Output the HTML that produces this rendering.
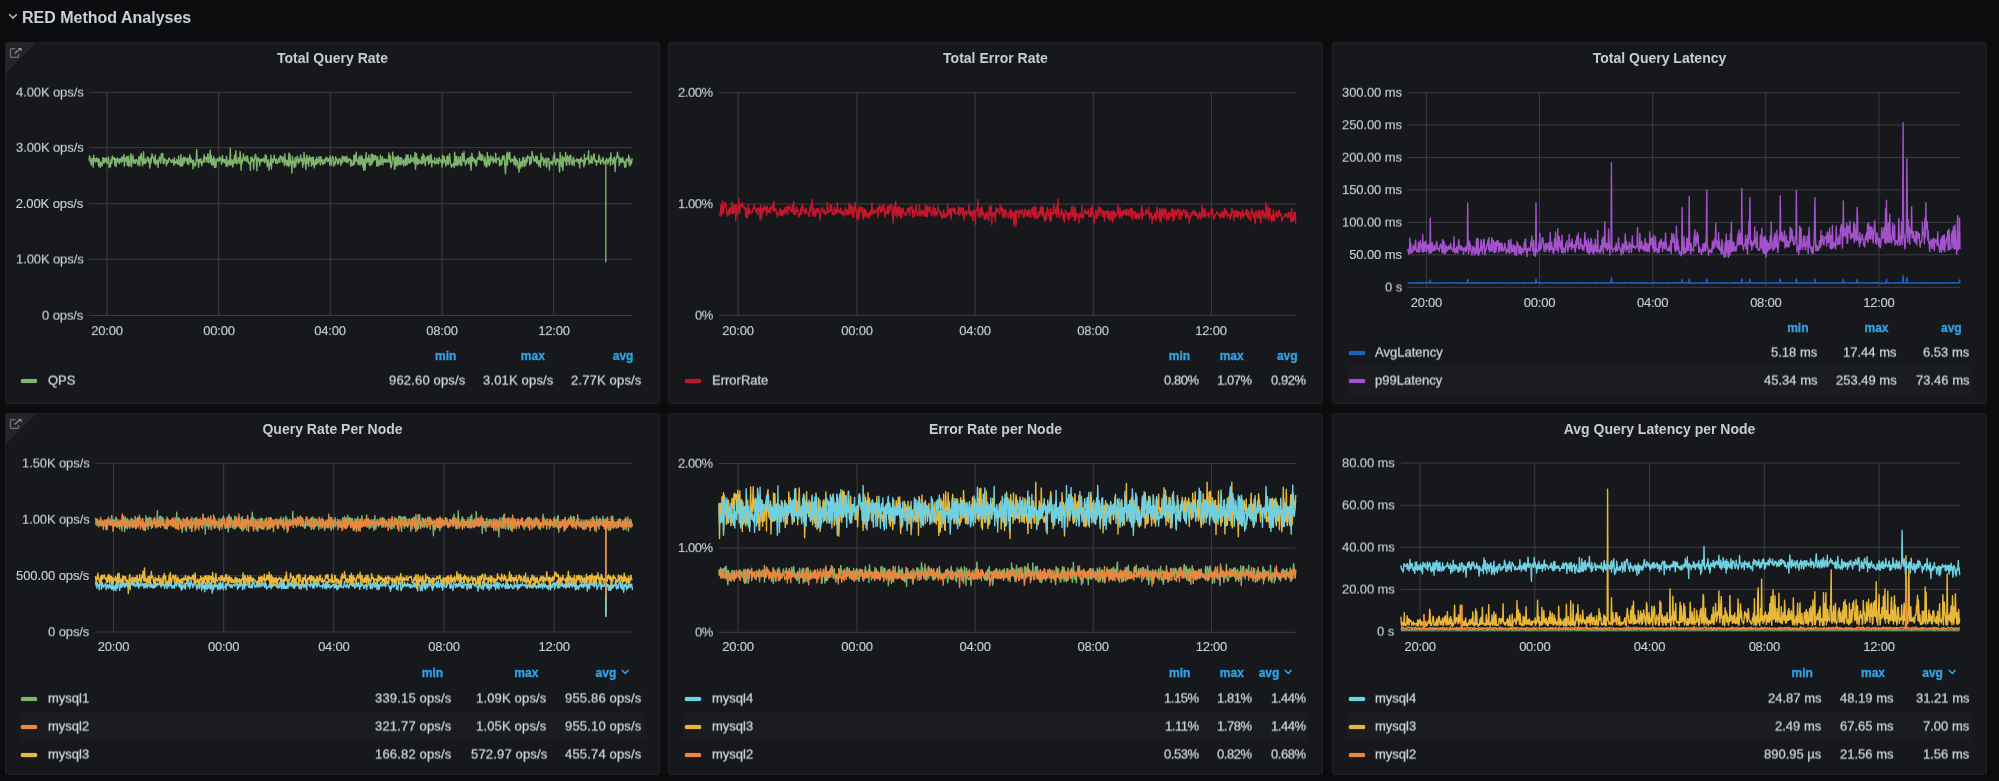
<!DOCTYPE html>
<html lang="en"><head><meta charset="utf-8"><title>RED Method Analyses</title>
<style>
*{box-sizing:border-box;margin:0;padding:0}
html,body{width:1999px;height:781px;overflow:hidden;background:#0b0c0e}
body{font-family:"Liberation Sans",sans-serif;font-size:13px;line-height:16px;color:#c7d0d9;position:relative}
.rowtitle{will-change:transform;position:absolute;left:22px;top:7px;transform:translateY(0.6px);font-size:16px;line-height:20px;font-weight:bold;color:#cbd0d8;white-space:nowrap}
.chev{position:absolute;left:8px;top:13px}
.panel{position:absolute;background:#16181c;border-radius:3px;overflow:hidden;will-change:transform}
.panel::after{content:"";position:absolute;left:0;top:0;right:0;bottom:0;border:1px solid #212327;border-radius:3px}
.panel>*{position:absolute}
.panel .plot{left:0;top:0}
.panel .title{left:0;width:100%;top:8px;text-align:center;font-size:14px;line-height:16px;font-weight:bold;color:#c6ccd4;white-space:nowrap}
.corner{left:0;top:0;width:0;height:0;border-top:32px solid #232528;border-right:32px solid transparent}
.ext{left:0;top:0}
.t,.lh,.a{white-space:nowrap}
.t{-webkit-text-stroke:0.3px}
.a{-webkit-text-stroke:0.12px}
.lh{color:#33a2e5;font-weight:bold;font-size:12px;-webkit-text-stroke:0.3px}
.lh .caret{position:static;margin-left:4.6px;margin-bottom:2px}
.sw{width:16px;height:4px;border-radius:1.5px;box-shadow:0 0 0.9px 0.1px currentColor}
.alt{height:28px;background:#1a1c20}
</style></head><body>
<svg class="chev" width="10" height="7" viewBox="0 0 10 7"><path d="M1.2 1.3 5 5.1 8.8 1.3" fill="none" stroke="#b5b9be" stroke-width="1.5"/></svg>
<div class="rowtitle">RED Method Analyses</div>
<div class="panel" style="left:5px;top:42px;width:655px;height:362px">
<div class="corner"></div><svg class="ext" viewBox="0 0 24 24" width="24" height="24"><path d="M10.3 6.6H7a1.6 1.6 0 0 0-1.6 1.6v5.6a1.6 1.6 0 0 0 1.6 1.6h5a1.6 1.6 0 0 0 1.6-1.6v-1.9" fill="none" stroke="#70737a" stroke-width="1.3"/><path d="M9.6 11.3 14.8 7" fill="none" stroke="#83868d" stroke-width="1.5"/><path d="M12.9 5.9h3.7v3.7z" fill="#90939a"/></svg>
<div class="title">Total Query Rate</div>
<svg class="plot" width="655" height="362" viewBox="0 0 655 362"><g fill="#3a3d41"><rect x="84" y="49.9" width="543.4" height="1"/><rect x="84" y="105.1" width="543.4" height="1"/><rect x="84" y="161.3" width="543.4" height="1"/><rect x="84" y="216.8" width="543.4" height="1"/><rect x="84" y="273" width="543.4" height="1"/><rect x="101.5" y="50.4" width="1" height="223.1"/><rect x="213.2" y="50.4" width="1" height="223.1"/><rect x="324.8" y="50.4" width="1" height="223.1"/><rect x="436.5" y="50.4" width="1" height="223.1"/><rect x="548.1" y="50.4" width="1" height="223.1"/></g><polyline fill="none" stroke="#7eb26d" stroke-width="1.4" stroke-linejoin="round" points="84,118.6 84.5,114 84.9,114.5 85.4,120.5 85.9,119.8 86.3,123.2 86.8,116.8 87.3,118.9 87.7,116.1 88.2,125.1 88.7,113.3 89.1,119.1 89.6,116.4 90.1,119.2 90.5,120 91,117.1 91.5,115.9 91.9,119.4 92.4,119.3 92.9,116.4 93.3,121.7 93.8,124 94.3,117.4 94.7,121 95.2,125.4 95.7,121.5 96.1,120.3 96.6,122.9 97.1,123.9 97.5,118.7 98,115.6 98.5,116 98.9,121.3 99.4,117.4 99.9,116.2 100.3,119.8 100.8,116.8 101.3,115.8 101.7,119.4 102.2,121.5 102.7,117.5 103.1,117.9 103.6,114.9 104.1,125.8 104.5,121 105,121.6 105.5,124.7 105.9,118.3 106.4,116.9 106.9,121.3 107.3,113.9 107.8,115.9 108.3,116.6 108.7,117.3 109.2,115.4 109.7,123.3 110.1,116.6 110.6,116.6 111.1,124.8 111.5,117.5 112,119.6 112.5,116 112.9,120.2 113.4,118.8 113.9,117.5 114.3,121.8 114.8,116.7 115.3,119.1 115.7,117 116.2,120.5 116.7,115 117.1,116.6 117.6,119.3 118,116.5 118.5,114.4 119,112.5 119.4,124.2 119.9,115.7 120.4,117.1 120.8,119 121.3,118.8 121.8,114.4 122.2,123.1 122.7,116.8 123.2,114.2 123.6,124.3 124.1,119.8 124.6,123.3 125,117.9 125.5,113.5 126,111.7 126.4,124.9 126.9,120.7 127.4,116.3 127.8,113.3 128.3,117.3 128.8,121.3 129.2,117.7 129.7,118.8 130.2,119.4 130.6,121.3 131.1,117.4 131.6,117.7 132,119 132.5,119.5 133,123.2 133.4,120.4 133.9,114.6 134.4,119.4 134.8,123.7 135.3,114.1 135.8,116.9 136.2,111.4 136.7,118.5 137.2,120.3 137.6,123.7 138.1,114.1 138.6,109.8 139,121.6 139.5,121 140,116.7 140.4,121.6 140.9,119.7 141.4,119.9 141.8,118.1 142.3,114.9 142.8,118.6 143.2,115.5 143.7,120.2 144.2,117.6 144.6,126.1 145.1,123.7 145.6,116 146,120.8 146.5,116.7 147,111.8 147.4,114.2 147.9,115.9 148.4,115.2 148.8,119.1 149.3,121.1 149.8,121.3 150.2,113 150.7,122.6 151.2,120.6 151.6,119 152.1,117.9 152.6,119.9 153,125.4 153.5,119 154,117.9 154.4,115 154.9,116.7 155.4,120.9 155.8,121.2 156.3,111.8 156.8,116.1 157.2,112.4 157.7,111.4 158.2,121.6 158.6,117.4 159.1,121.5 159.6,116.8 160,116.9 160.5,118 161,118.1 161.4,123.9 161.9,119.3 162.4,121.3 162.8,118.3 163.3,120.3 163.8,116.6 164.2,115.9 164.7,117.7 165.2,117.6 165.6,118.4 166.1,120.3 166.6,119.3 167,120.4 167.5,117.4 168,118.7 168.4,119.4 168.9,123.3 169.4,115.7 169.8,121.4 170.3,121.3 170.8,119.4 171.2,120.7 171.7,117.7 172.2,120.7 172.6,122.4 173.1,121.6 173.6,114.2 174,118.6 174.5,122.8 175,118.7 175.4,124.1 175.9,112.5 176.4,124 176.8,117.1 177.3,116.8 177.8,123.7 178.2,117.7 178.7,115.3 179.2,121 179.6,117.8 180.1,115.4 180.6,118.2 181,117.6 181.5,119.2 182,116.5 182.4,122 182.9,116 183.4,120.5 183.8,122.5 184.3,117.5 184.8,112.9 185.2,115.4 185.7,120.5 186.1,116.3 186.6,120.3 187.1,119.2 187.5,118.4 188,126.7 188.5,118.1 188.9,122.3 189.4,121.1 189.9,123.8 190.3,124 190.8,122 191.3,115.9 191.7,107.4 192.2,118.8 192.7,117.5 193.1,119.6 193.6,125.3 194.1,118.2 194.5,117.2 195,120.2 195.5,117.7 195.9,116.7 196.4,121.7 196.9,123.8 197.3,119.5 197.8,119.5 198.3,119.9 198.7,115.3 199.2,112.8 199.7,120.2 200.1,116.3 200.6,115.5 201.1,116.3 201.5,115.1 202,120.1 202.5,116.2 202.9,111.7 203.4,115.9 203.9,120.9 204.3,116.6 204.8,114.4 205.3,108.1 205.7,120.7 206.2,113.4 206.7,123 207.1,117 207.6,118.8 208.1,122.9 208.5,114.5 209,117.5 209.5,125.6 209.9,116.6 210.4,122.4 210.9,125.3 211.3,121.1 211.8,117.8 212.3,116.5 212.7,118.2 213.2,118.6 213.7,117.1 214.1,119.5 214.6,114.7 215.1,116.3 215.5,117.7 216,116.9 216.5,122.4 216.9,121.2 217.4,113.4 217.9,117.6 218.3,119.7 218.8,117.5 219.3,120.4 219.7,117.8 220.2,121 220.7,117.8 221.1,124.2 221.6,114.1 222.1,120.5 222.5,124.2 223,119.5 223.5,120 223.9,118.2 224.4,122.7 224.9,117.3 225.3,106.2 225.8,123.1 226.3,117.6 226.7,119.8 227.2,118.1 227.7,125 228.1,122.7 228.6,117.1 229.1,118.9 229.5,113.1 230,121.2 230.5,116 230.9,108.7 231.4,121.4 231.9,121.8 232.3,118.8 232.8,118.9 233.3,115.8 233.7,118.3 234.2,121.3 234.7,118 235.1,109.6 235.6,114.3 236.1,128.3 236.5,119.2 237,121.8 237.5,116.6 237.9,119.3 238.4,112 238.9,115.5 239.3,115.6 239.8,118.1 240.3,118.9 240.7,117.5 241.2,114.2 241.7,116.9 242.1,119.9 242.6,114.3 243.1,118.1 243.5,119 244,121.5 244.5,120.7 244.9,120.9 245.4,128.4 245.9,115.2 246.3,116.8 246.8,119.5 247.3,115.1 247.7,117.2 248.2,117.4 248.7,127.3 249.1,119.5 249.6,116.9 250.1,113.2 250.5,112.4 251,113.8 251.5,122.7 251.9,128.8 252.4,116.8 252.9,118.6 253.3,115.4 253.8,119.2 254.2,118 254.7,123.9 255.2,117.2 255.6,120.3 256.1,117.5 256.6,117.1 257,119.1 257.5,117.6 258,118.8 258.4,116.1 258.9,117 259.4,120.6 259.8,120.8 260.3,112.7 260.8,119.1 261.2,113.4 261.7,117.4 262.2,124.7 262.6,121.3 263.1,118.3 263.6,117.8 264,128.3 264.5,123.1 265,120.8 265.4,123.2 265.9,113.2 266.4,126.9 266.8,117.2 267.3,120.6 267.8,117.2 268.2,120.4 268.7,117.5 269.2,113.3 269.6,117.5 270.1,117.2 270.6,120.7 271,121.3 271.5,116.8 272,119.4 272.4,121.5 272.9,118.9 273.4,119.5 273.8,116.1 274.3,118.9 274.8,120.6 275.2,113.7 275.7,115.3 276.2,114.3 276.6,116.6 277.1,119.1 277.6,120.2 278,115 278.5,115.4 279,118.3 279.4,123.9 279.9,112 280.4,121.1 280.8,118.2 281.3,122.9 281.8,123.1 282.2,118.3 282.7,119 283.2,124.5 283.6,116.1 284.1,110.9 284.6,123.8 285,112.4 285.5,121.1 286,120.4 286.4,119.3 286.9,131.1 287.4,114.2 287.8,117.9 288.3,121.3 288.8,119.7 289.2,125.5 289.7,119.9 290.2,115.5 290.6,124.7 291.1,120.2 291.6,118.2 292,115.1 292.5,114.1 293,120.3 293.4,121.3 293.9,117.2 294.4,120 294.8,119.8 295.3,115 295.8,112.9 296.2,117.8 296.7,119.4 297.2,116.7 297.6,125.3 298.1,118.8 298.6,122.4 299,110.5 299.5,116.2 300,118.2 300.4,120.9 300.9,127.4 301.4,115.6 301.8,113.1 302.3,121.2 302.8,116.4 303.2,116.2 303.7,124.1 304.2,115.5 304.6,114 305.1,117.9 305.6,118.9 306,116 306.5,124.1 307,118.4 307.4,115.1 307.9,122.5 308.4,115.3 308.8,120.2 309.3,125.9 309.8,119.1 310.2,122.1 310.7,117.6 311.2,122.8 311.6,115.1 312.1,121.3 312.6,117.5 313,120.8 313.5,119.8 314,114.6 314.4,118 314.9,120.1 315.4,123.1 315.8,114.7 316.3,116.2 316.8,119.9 317.2,117.9 317.7,122.3 318.2,122.2 318.6,121.3 319.1,117.5 319.6,117.7 320,121.3 320.5,116.2 321,116 321.4,118.1 321.9,115.1 322.3,119.7 322.8,119.1 323.3,117.1 323.7,118.8 324.2,116 324.7,123.1 325.1,113.8 325.6,121.4 326.1,119.3 326.5,123.5 327,116.6 327.5,114.3 327.9,115 328.4,115.8 328.9,124.1 329.3,121.4 329.8,120.3 330.3,122 330.7,114.8 331.2,118.1 331.7,118.8 332.1,117 332.6,122 333.1,121.9 333.5,121.8 334,117 334.5,117.5 334.9,116.7 335.4,119.1 335.9,123.4 336.3,120.7 336.8,118.2 337.3,114.2 337.7,120.6 338.2,115.2 338.7,114.9 339.1,115 339.6,118.6 340.1,119.5 340.5,115 341,120 341.5,117.6 341.9,114.1 342.4,120 342.9,120.8 343.3,118.8 343.8,116.7 344.3,117.1 344.7,118.2 345.2,116.8 345.7,124.3 346.1,121.7 346.6,118.2 347.1,121.9 347.5,123.4 348,122.9 348.5,121.9 348.9,113.1 349.4,122.3 349.9,117.9 350.3,112.9 350.8,119.2 351.3,110.1 351.7,117.7 352.2,119.2 352.7,119.6 353.1,122.1 353.6,116.1 354.1,122.7 354.5,114.2 355,116.7 355.5,122.8 355.9,116 356.4,113.4 356.9,121.5 357.3,115.3 357.8,124.9 358.3,117.9 358.7,128.3 359.2,117.1 359.7,124.9 360.1,127.8 360.6,117.4 361.1,110.8 361.5,120.8 362,115.9 362.5,118.3 362.9,119.8 363.4,116.6 363.9,113 364.3,123 364.8,116.8 365.3,117.5 365.7,123.6 366.2,113.1 366.7,112 367.1,122 367.6,112.7 368.1,118.5 368.5,119.3 369,113.5 369.5,117.9 369.9,117.6 370.4,113.5 370.9,114.3 371.3,115.6 371.8,123.6 372.3,124.2 372.7,114.8 373.2,123.8 373.7,118.2 374.1,122.4 374.6,119.4 375.1,123.1 375.5,113.1 376,122.2 376.5,119.1 376.9,119.4 377.4,114.6 377.9,122.9 378.3,118.8 378.8,119.4 379.3,116.9 379.7,117.1 380.2,120.3 380.7,117.9 381.1,120 381.6,117.1 382.1,119.1 382.5,119.9 383,119.9 383.5,117.5 383.9,110.9 384.4,120.4 384.9,117.7 385.3,113.7 385.8,125.9 386.3,124.8 386.7,122.8 387.2,119.1 387.7,110.3 388.1,117.4 388.6,114.5 389.1,119.5 389.5,127.2 390,126.7 390.4,115.2 390.9,118.1 391.4,123.2 391.8,114.9 392.3,124 392.8,114.8 393.2,113.7 393.7,121.4 394.2,122.6 394.6,115.8 395.1,122.5 395.6,115.7 396,122.9 396.5,115.9 397,118.4 397.4,120.2 397.9,121.8 398.4,117.9 398.8,124.1 399.3,119.7 399.8,120.1 400.2,116.4 400.7,123.1 401.2,112.8 401.6,119.8 402.1,122.7 402.6,113.9 403,113 403.5,119.4 404,121.2 404.4,117 404.9,121.1 405.4,119.8 405.8,113.3 406.3,117.4 406.8,119.6 407.2,117.5 407.7,118.9 408.2,115.8 408.6,115.7 409.1,121.1 409.6,118.4 410,110.4 410.5,127.1 411,119.4 411.4,111.6 411.9,118.7 412.4,122.5 412.8,116.4 413.3,121.8 413.8,120.4 414.2,117.6 414.7,119.2 415.2,121.4 415.6,120.6 416.1,120.8 416.6,114.7 417,122 417.5,120.7 418,111.7 418.4,120.6 418.9,113.6 419.4,114.2 419.8,119.3 420.3,123.6 420.8,117.2 421.2,116.4 421.7,115.4 422.2,118.5 422.6,114.6 423.1,113.9 423.6,122.4 424,113.8 424.5,118.1 425,120.7 425.4,119.8 425.9,112.2 426.4,115.3 426.8,124.9 427.3,118.4 427.8,119.2 428.2,119.3 428.7,120.5 429.2,119.6 429.6,115.7 430.1,122 430.6,120 431,120.8 431.5,121.2 432,116.2 432.4,117.4 432.9,121.1 433.4,122 433.8,120.3 434.3,115.4 434.8,118.3 435.2,117.9 435.7,119.9 436.2,119.6 436.6,118 437.1,125.1 437.6,113.1 438,121.4 438.5,120.7 439,114.1 439.4,118 439.9,118.6 440.4,120.7 440.8,124.1 441.3,118.1 441.8,114.6 442.2,121.8 442.7,114 443.2,122.6 443.6,121.3 444.1,117 444.6,111.6 445,116.3 445.5,121.3 446,122.3 446.4,125.2 446.9,122.9 447.4,122.4 447.8,123.7 448.3,122.1 448.8,121 449.2,125.6 449.7,110.1 450.2,121.6 450.6,123.1 451.1,114.4 451.6,114.7 452,122.7 452.5,123.8 453,122.2 453.4,114.8 453.9,119.8 454.4,121.5 454.8,122.2 455.3,114.6 455.8,123.5 456.2,120.1 456.7,123.5 457.2,111.2 457.6,112.4 458.1,115.4 458.5,119.2 459,109.7 459.5,118.8 459.9,117.8 460.4,123.3 460.9,119.1 461.3,121.2 461.8,119.9 462.3,116.7 462.7,116.3 463.2,117.8 463.7,122 464.1,116.4 464.6,119.1 465.1,114.6 465.5,121.9 466,128.3 466.5,120.4 466.9,111.3 467.4,117.1 467.9,119.4 468.3,115.7 468.8,117 469.3,117.1 469.7,121.2 470.2,118.5 470.7,118 471.1,124.1 471.6,122.6 472.1,118.2 472.5,115.4 473,116.5 473.5,117 473.9,117 474.4,109.8 474.9,117.8 475.3,115.1 475.8,112 476.3,118.5 476.7,117.8 477.2,115.1 477.7,112.9 478.1,117.6 478.6,119 479.1,118.4 479.5,122.9 480,114.9 480.5,119.6 480.9,124.7 481.4,119.2 481.9,124.7 482.3,110.5 482.8,118.7 483.3,121.9 483.7,115 484.2,123.8 484.7,117.8 485.1,121.8 485.6,113.6 486.1,115.5 486.5,117.9 487,118.4 487.5,118.9 487.9,114.8 488.4,121 488.9,116.9 489.3,119 489.8,117.9 490.3,119.6 490.7,111.3 491.2,121 491.7,117.8 492.1,117.7 492.6,116.6 493.1,117.1 493.5,117.2 494,115.3 494.5,123.9 494.9,118.6 495.4,122.9 495.9,117.9 496.3,122.8 496.8,122 497.3,114.6 497.7,113.9 498.2,116.7 498.7,117.7 499.1,113.8 499.6,121.9 500.1,125.9 500.5,131.9 501,119.6 501.5,114.4 501.9,111.3 502.4,123.3 502.9,110.1 503.3,113.3 503.8,115.8 504.3,117.4 504.7,110.3 505.2,118.4 505.7,120.3 506.1,118.2 506.6,119 507.1,117 507.5,119.1 508,117.5 508.5,117.4 508.9,122.3 509.4,114.1 509.9,122.2 510.3,115.6 510.8,124.2 511.3,117.4 511.7,121.5 512.2,118.5 512.7,120.9 513.1,126.2 513.6,124.9 514.1,130.1 514.5,116.5 515,123.8 515.5,126 515.9,121.7 516.4,119.4 516.9,122.8 517.3,124.4 517.8,115.7 518.3,115.3 518.7,116.1 519.2,124.7 519.7,118.4 520.1,119.3 520.6,123.6 521.1,115.6 521.5,118.4 522,120.3 522.5,113.8 522.9,116 523.4,115.7 523.9,114.5 524.3,116.2 524.8,123 525.3,120 525.7,115.2 526.2,121.3 526.6,118.5 527.1,109.5 527.6,113.7 528,114.2 528.5,115.6 529,119.3 529.4,118.5 529.9,116.8 530.4,119.2 530.8,114 531.3,117 531.8,121.3 532.2,114.3 532.7,119.6 533.2,121.3 533.6,124 534.1,118.7 534.6,122 535,122 535.5,125.3 536,111.3 536.4,119.2 536.9,117.9 537.4,114.9 537.8,115.7 538.3,116.9 538.8,123.4 539.2,118 539.7,120.1 540.2,117 540.6,116.2 541.1,123.5 541.6,125.1 542,122.2 542.5,116.1 543,117.2 543.4,117.3 543.9,116.5 544.4,128 544.8,120.9 545.3,119.9 545.8,120.8 546.2,121.2 546.7,119.3 547.2,122.8 547.6,121.7 548.1,118.2 548.6,113.8 549,119.5 549.5,110.9 550,119.6 550.4,121.8 550.9,122.9 551.4,120 551.8,116.9 552.3,116.8 552.8,119.3 553.2,117.4 553.7,118.5 554.2,125.2 554.6,130 555.1,110.7 555.6,115.9 556,118.9 556.5,124.7 557,123.1 557.4,114 557.9,128.4 558.4,119.8 558.8,115.7 559.3,118.2 559.8,116.1 560.2,119.2 560.7,110.4 561.2,122.3 561.6,123.4 562.1,117.8 562.6,113.8 563,118.9 563.5,115.1 564,120.6 564.4,122.8 564.9,113.9 565.4,113.3 565.8,113.4 566.3,120.2 566.8,122.7 567.2,122.8 567.7,119.5 568.2,116.7 568.6,115.2 569.1,123.7 569.6,118 570,118.7 570.5,118.4 571,118.8 571.4,119.4 571.9,116.7 572.4,118.3 572.8,117.9 573.3,121.1 573.8,117.4 574.2,119.1 574.7,126 575.2,117.1 575.6,119.6 576.1,115.5 576.6,119.3 577,119.1 577.5,118 578,118.8 578.4,120.3 578.9,124.9 579.4,112.4 579.8,122.6 580.3,119.9 580.8,116.5 581.2,117.4 581.7,116.8 582.2,116.1 582.6,114.4 583.1,117.7 583.6,108.7 584,122.2 584.5,117.9 585,120 585.4,120.6 585.9,117.7 586.4,113.7 586.8,121.2 587.3,121.2 587.8,116.2 588.2,116.8 588.7,112 589.2,112.1 589.6,117.9 590.1,119.9 590.6,118 591,119.3 591.5,123.4 592,118.7 592.4,119.3 592.9,119.5 593.4,120.2 593.8,112.9 594.3,116.3 594.7,115.5 595.2,120.8 595.7,122.3 596.1,119.7 596.6,117.9 597.1,119.9 597.5,119.4 598,115.4 598.5,117.7 598.9,122.1 599.4,120.2 599.9,121 600.8,118.1 600.8,219.8 600.8,119.3 601.7,116.3 602.2,118.6 602.7,121.9 603.1,120.9 603.6,118.3 604.1,117.1 604.5,115.8 605,119.2 605.5,123.3 605.9,110.7 606.4,117.7 606.9,117.5 607.3,117.7 607.8,122.3 608.3,119.8 608.7,117.8 609.2,115.2 609.7,118.5 610.1,129.5 610.6,119.6 611.1,117.5 611.5,114.3 612,116.3 612.5,110.1 612.9,113.8 613.4,114.1 613.9,115.5 614.3,123.5 614.8,115.8 615.3,116.7 615.7,120.5 616.2,116.7 616.7,117.3 617.1,120.3 617.6,115.2 618.1,119.6 618.5,117.9 619,120.2 619.5,123.3 619.9,125.4 620.4,119.7 620.9,124.6 621.3,116.9 621.8,116.9 622.3,118.6 622.7,119.1 623.2,118.5 623.7,113.3 624.1,122.5 624.6,115.7 625.1,124 625.5,120.3 626,118.2 626.5,121.7 626.9,118 627.4,116.2"/></svg>
<div class="a" style="top:42px;will-change:transform;transform:translateY(0.60px) rotate(0.001deg);right:576.8px;text-align:right;letter-spacing:-0.1px;">4.00K ops/s</div>
<div class="a" style="top:97px;will-change:transform;transform:translateY(0.80px) rotate(0.001deg);right:576.8px;text-align:right;letter-spacing:-0.1px;">3.00K ops/s</div>
<div class="a" style="top:154px;right:576.8px;text-align:right;letter-spacing:-0.1px;">2.00K ops/s</div>
<div class="a" style="top:209px;will-change:transform;transform:translateY(0.50px) rotate(0.001deg);right:576.8px;text-align:right;letter-spacing:-0.1px;">1.00K ops/s</div>
<div class="a" style="top:265px;will-change:transform;transform:translateY(0.70px) rotate(0.001deg);right:576.8px;text-align:right;letter-spacing:-0.1px;">0 ops/s</div>
<div class="a" style="top:281px;will-change:transform;transform:translateY(0.10px) rotate(0.001deg);left:102px;width:120px;margin-left:-60px;text-align:center;letter-spacing:-0.25px;">20:00</div>
<div class="a" style="top:281px;will-change:transform;transform:translateY(0.10px) rotate(0.001deg);left:213.7px;width:120px;margin-left:-60px;text-align:center;letter-spacing:-0.25px;">00:00</div>
<div class="a" style="top:281px;will-change:transform;transform:translateY(0.10px) rotate(0.001deg);left:325.3px;width:120px;margin-left:-60px;text-align:center;letter-spacing:-0.25px;">04:00</div>
<div class="a" style="top:281px;will-change:transform;transform:translateY(0.10px) rotate(0.001deg);left:437px;width:120px;margin-left:-60px;text-align:center;letter-spacing:-0.25px;">08:00</div>
<div class="a" style="top:281px;will-change:transform;transform:translateY(0.10px) rotate(0.001deg);left:548.6px;width:120px;margin-left:-60px;text-align:center;letter-spacing:-0.25px;">12:00</div>
<div class="lh" style="top:306.4px;right:203.7px;text-align:right;">min</div>
<div class="lh" style="top:306.4px;right:115.2px;text-align:right;">max</div>
<div class="lh" style="top:306.4px;right:26.6px;text-align:right;">avg</div>
<div class="sw" style="left:16.2px;top:337px;background:#7eb26d;color:#7eb26d"></div>
<div class="t" style="top:330px;will-change:transform;transform:translateY(0.60px) rotate(0.001deg);left:42.7px;">QPS</div>
<div class="t" style="top:330px;will-change:transform;transform:translateY(0.60px) rotate(0.001deg);right:195px;text-align:right;letter-spacing:0.17px;">962.60 ops/s</div>
<div class="t" style="top:330px;will-change:transform;transform:translateY(0.60px) rotate(0.001deg);right:106.5px;text-align:right;letter-spacing:0.17px;">3.01K ops/s</div>
<div class="t" style="top:330px;will-change:transform;transform:translateY(0.60px) rotate(0.001deg);right:18px;text-align:right;letter-spacing:0.17px;">2.77K ops/s</div>
</div>
<div class="panel" style="left:668.3px;top:42px;width:655px;height:362px">
<div class="title">Total Error Rate</div>
<svg class="plot" width="655" height="362" viewBox="0 0 655 362"><g fill="#3a3d41"><rect x="51" y="50.1" width="576.7" height="1"/><rect x="51" y="161.5" width="576.7" height="1"/><rect x="51" y="272.9" width="576.7" height="1"/><rect x="69.5" y="50.6" width="1" height="222.8"/><rect x="188.5" y="50.6" width="1" height="222.8"/><rect x="306.6" y="50.6" width="1" height="222.8"/><rect x="424.7" y="50.6" width="1" height="222.8"/><rect x="542.9" y="50.6" width="1" height="222.8"/></g><polyline fill="none" stroke="#c4162a" stroke-width="1.4" stroke-linejoin="round" points="51,173.3 51.5,172.6 52,172.9 52.5,170.4 53,162.8 53.5,174.6 54,164.7 54.5,159.1 55,171.5 55.5,170.7 56,166.4 56.4,163.7 56.9,160.3 57.4,164.9 57.9,162.3 58.4,164.2 58.9,171.4 59.4,174.1 59.9,172.4 60.4,169.5 60.9,167.5 61.4,173 61.9,165.2 62.4,168.6 62.9,170.6 63.4,171 63.9,159.9 64.4,167.6 64.9,171.5 65.4,171.8 65.9,163 66.3,170.4 66.8,163.9 67.3,163 67.8,179 68.3,163.3 68.8,169 69.3,172.3 69.8,170.3 70.3,166.2 70.8,156.9 71.3,166.7 71.8,171 72.3,163.6 72.8,162.8 73.3,161.6 73.8,164.6 74.3,161.4 74.8,161.2 75.3,165.7 75.8,165.1 76.2,166.2 76.7,166.3 77.2,165.2 77.7,174.6 78.2,169.6 78.7,166.6 79.2,176.1 79.7,173.7 80.2,162.6 80.7,172.3 81.2,170.1 81.7,167 82.2,170.1 82.7,171.6 83.2,170.3 83.7,170 84.2,170.5 84.7,167.7 85.2,165.9 85.7,167.1 86.1,162.5 86.6,165.7 87.1,165.4 87.6,168.8 88.1,169.5 88.6,166.9 89.1,167.3 89.6,172.6 90.1,165.7 90.6,166.3 91.1,167.1 91.6,170.5 92.1,178.2 92.6,163.1 93.1,168.8 93.6,176.5 94.1,166.1 94.6,171.1 95.1,166 95.6,168.9 96,164.3 96.5,167.7 97,167.5 97.5,168 98,164 98.5,173.3 99,164.2 99.5,166 100,170.6 100.5,168.6 101,170.2 101.5,168.3 102,165.1 102.5,171.1 103,165.8 103.5,165.1 104,166.2 104.5,162.8 105,168.9 105.5,166.1 105.9,159.5 106.4,168.5 106.9,169.1 107.4,168.6 107.9,166.5 108.4,171.8 108.9,169.5 109.4,175.1 109.9,172.5 110.4,172.5 110.9,172.9 111.4,170.3 111.9,166.1 112.4,170.1 112.9,173.5 113.4,169.8 113.9,168.1 114.4,173.8 114.9,168.1 115.4,172.6 115.8,171 116.3,171.4 116.8,165.7 117.3,171.7 117.8,169.9 118.3,168 118.8,164.9 119.3,164.4 119.8,172.5 120.3,164.4 120.8,166.9 121.3,164.3 121.8,164.9 122.3,168.5 122.8,168.6 123.3,169.8 123.8,167.4 124.3,162.7 124.8,168.6 125.3,171.2 125.7,159.5 126.2,172.4 126.7,168.8 127.2,168.8 127.7,172.1 128.2,165.9 128.7,164.9 129.2,169.1 129.7,168.6 130.2,169.4 130.7,175.3 131.2,172 131.7,173.4 132.2,172.3 132.7,167.4 133.2,165.4 133.7,172 134.2,164.7 134.7,162.4 135.2,168.2 135.6,169.1 136.1,168.1 136.6,170.3 137.1,172 137.6,166.5 138.1,166.2 138.6,170.7 139.1,170.4 139.6,171.2 140.1,171.5 140.6,172.4 141.1,174.4 141.6,165.6 142.1,170.2 142.6,168.7 143.1,162.3 143.6,165.1 144.1,157.3 144.6,173.9 145.1,171.2 145.5,166.4 146,169.9 146.5,174.2 147,174.6 147.5,167.8 148,172.4 148.5,166.5 149,168 149.5,170.2 150,169.3 150.5,166.3 151,168.9 151.5,172.5 152,177.8 152.5,170.3 153,169.9 153.5,167 154,167.9 154.5,165.4 155,169.7 155.4,170.7 155.9,170.3 156.4,167.7 156.9,172 157.4,170.4 157.9,172.1 158.4,171.9 158.9,169.7 159.4,160.4 159.9,170.5 160.4,168.2 160.9,168.8 161.4,169.7 161.9,170 162.4,162.1 162.9,168.3 163.4,163.3 163.9,166.8 164.4,172.2 164.9,171.5 165.3,170.8 165.8,173 166.3,165 166.8,167.7 167.3,167.2 167.8,171.9 168.3,167.5 168.8,171.1 169.3,160.4 169.8,169.5 170.3,168.2 170.8,167.7 171.3,170.9 171.8,170.6 172.3,170.6 172.8,166.1 173.3,172 173.8,169.8 174.3,169 174.8,170.7 175.3,174.1 175.7,169.4 176.2,170.7 176.7,172.7 177.2,165.8 177.7,169.2 178.2,169.3 178.7,172.9 179.2,167.4 179.7,170.5 180.2,172.7 180.7,171.6 181.2,160.8 181.7,171.5 182.2,172.4 182.7,163.1 183.2,166.7 183.7,170.3 184.2,164.4 184.7,174.6 185.2,171 185.6,175.2 186.1,164.5 186.6,169.2 187.1,160.1 187.6,167.7 188.1,167.7 188.6,175.3 189.1,177.6 189.6,171.2 190.1,166.2 190.6,173.2 191.1,178 191.6,166.5 192.1,164.5 192.6,169.5 193.1,168 193.6,165.6 194.1,165.4 194.6,175.2 195.1,169.4 195.5,177.6 196,166.2 196.5,169.4 197,174 197.5,169.4 198,167.6 198.5,175.3 199,174.6 199.5,172.2 200,170.9 200.5,171.9 201,176.4 201.5,175.5 202,170 202.5,168.4 203,173.1 203.5,169.3 204,160.9 204.5,170.6 205,171.4 205.4,172.4 205.9,168.1 206.4,169 206.9,170.2 207.4,171.2 207.9,168.3 208.4,168.3 208.9,170.3 209.4,165.6 209.9,175.4 210.4,167.2 210.9,165 211.4,166.7 211.9,162.9 212.4,169.5 212.9,170.4 213.4,169.8 213.9,164.7 214.4,164.1 214.9,169.1 215.3,162.9 215.8,163.2 216.3,167.7 216.8,175 217.3,172.6 217.8,171.4 218.3,168.2 218.8,171.6 219.3,164.6 219.8,171.3 220.3,163.9 220.8,172 221.3,164.7 221.8,168.9 222.3,164.4 222.8,162.5 223.3,163.2 223.8,165.8 224.3,172.2 224.8,175.7 225.2,181 225.7,164.2 226.2,164.9 226.7,165.8 227.2,173.6 227.7,159.5 228.2,171.9 228.7,166.3 229.2,175.4 229.7,171.7 230.2,165 230.7,164.7 231.2,173.4 231.7,169.8 232.2,165.4 232.7,176.2 233.2,166.7 233.7,175.1 234.2,167.2 234.7,170.5 235.1,166 235.6,171.4 236.1,170.9 236.6,170.9 237.1,173.1 237.6,170.7 238.1,173.4 238.6,171.8 239.1,167.2 239.6,170.9 240.1,165.8 240.6,167.2 241.1,166.7 241.6,173.9 242.1,168.3 242.6,164.5 243.1,166.5 243.6,165.3 244.1,164.2 244.6,175.3 245,167.7 245.5,167.8 246,170.5 246.5,174.6 247,169.3 247.5,170.4 248,162.7 248.5,165 249,171.3 249.5,173.7 250,172.9 250.5,170 251,172.5 251.5,162.6 252,174.2 252.5,170.2 253,169.3 253.5,168.3 254,173.2 254.5,170.7 254.9,169.2 255.4,168.6 255.9,172 256.4,174.3 256.9,169 257.4,162.9 257.9,174.2 258.4,167.8 258.9,164.1 259.4,174.9 259.9,164.5 260.4,167 260.9,169.6 261.4,166.3 261.9,164.4 262.4,170.3 262.9,168.9 263.4,173.6 263.9,172.3 264.4,169.5 264.8,170 265.3,163.8 265.8,170.5 266.3,174.1 266.8,166.5 267.3,166.3 267.8,173.8 268.3,170.2 268.8,172.6 269.3,172.1 269.8,164.1 270.3,166.9 270.8,169.3 271.3,168.2 271.8,171 272.3,173.1 272.8,171.5 273.3,169.9 273.8,175.7 274.3,175 274.7,176.1 275.2,171.5 275.7,167.6 276.2,174.8 276.7,174.1 277.2,175.8 277.7,171.7 278.2,174.4 278.7,172.9 279.2,174.1 279.7,161.9 280.2,170.4 280.7,172.5 281.2,171.8 281.7,166.9 282.2,166.6 282.7,171.6 283.2,177.3 283.7,166.5 284.2,166.2 284.7,167.3 285.1,168.4 285.6,169.9 286.1,165.8 286.6,171.3 287.1,166.3 287.6,171.9 288.1,171.5 288.6,171.8 289.1,172.2 289.6,171.9 290.1,167.4 290.6,164.5 291.1,172.7 291.6,174 292.1,165.6 292.6,171.4 293.1,169.2 293.6,166.2 294.1,165.7 294.6,173.4 295,166 295.5,167.3 296,178.3 296.5,170.8 297,171.6 297.5,168.9 298,170.5 298.5,173 299,171.4 299.5,169 300,170.1 300.5,171.3 301,162.2 301.5,168.4 302,174 302.5,169.9 303,169.1 303.5,173.9 304,169.9 304.5,173.4 304.9,178.4 305.4,169.1 305.9,168.1 306.4,168.1 306.9,170.9 307.4,182.5 307.9,169.5 308.4,168.8 308.9,167 309.4,168.4 309.9,157.4 310.4,174.1 310.9,170.6 311.4,175.5 311.9,167.8 312.4,166 312.9,166 313.4,174.7 313.9,164.6 314.4,172.9 314.8,169.2 315.3,171.3 315.8,171.2 316.3,176.8 316.8,173.1 317.3,177.7 317.8,171.6 318.3,173 318.8,170 319.3,177.1 319.8,172.4 320.3,171.4 320.8,178.9 321.3,164.6 321.8,168.8 322.3,173.4 322.8,163.8 323.3,165.7 323.8,182.4 324.3,171.7 324.7,172.9 325.2,170.5 325.7,174.1 326.2,171.2 326.7,170.4 327.2,179.8 327.7,170.2 328.2,165.6 328.7,170.2 329.2,166.5 329.7,166.4 330.2,169.6 330.7,169.2 331.2,169.2 331.7,172.2 332.2,162.4 332.7,169 333.2,168.6 333.7,167.1 334.2,165.2 334.6,175.6 335.1,174.4 335.6,167.5 336.1,169 336.6,175 337.1,175.6 337.6,167.8 338.1,168 338.6,171.7 339.1,171.7 339.6,173 340.1,175 340.6,175.7 341.1,170.2 341.6,171.5 342.1,167.3 342.6,175.6 343.1,177 343.6,168.8 344.1,174.3 344.5,172 345,170.8 345.5,175.5 346,184.3 346.5,170 347,180.9 347.5,168.7 348,184.3 348.5,168.1 349,169.9 349.5,170.2 350,169.3 350.5,170.5 351,176.1 351.5,168 352,170.6 352.5,169.4 353,171.5 353.5,172 354,167.7 354.4,167.6 354.9,170.2 355.4,175.5 355.9,174.5 356.4,174.7 356.9,167 357.4,170.6 357.9,170.7 358.4,171.5 358.9,173.6 359.4,168 359.9,174.7 360.4,174 360.9,167.8 361.4,168.6 361.9,171.1 362.4,175.5 362.9,175.5 363.4,167.8 363.9,169.5 364.3,165.4 364.8,172.5 365.3,171.1 365.8,174.3 366.3,164.8 366.8,177 367.3,168.6 367.8,164.9 368.3,174.3 368.8,176.1 369.3,174.5 369.8,176 370.3,169.6 370.8,171.2 371.3,174.2 371.8,171.9 372.3,165.4 372.8,171.8 373.3,172.3 373.8,163.8 374.2,174.1 374.7,172.6 375.2,165.5 375.7,170.8 376.2,177.9 376.7,174.1 377.2,179.2 377.7,173.4 378.2,169.8 378.7,177.1 379.2,165.4 379.7,166.4 380.2,168.1 380.7,173.7 381.2,171 381.7,179.1 382.2,167.6 382.7,166.4 383.2,179 383.7,173.7 384.1,170.4 384.6,172.4 385.1,170.3 385.6,162.1 386.1,171.5 386.6,167.8 387.1,169.1 387.6,171.3 388.1,164.7 388.6,175.2 389.1,168.7 389.6,163.5 390.1,157.1 390.6,173 391.1,174.6 391.6,175.8 392.1,172.7 392.6,171.2 393.1,171.1 393.6,167 394,172.4 394.5,170 395,177.3 395.5,173.7 396,171.8 396.5,180 397,170.8 397.5,168 398,171 398.5,170.5 399,171.3 399.5,175.7 400,171.1 400.5,178.3 401,170.9 401.5,172.6 402,170.9 402.5,176.2 403,171.5 403.5,164.9 404,167.9 404.4,172.2 404.9,174 405.4,163.4 405.9,171.4 406.4,177.9 406.9,178.9 407.4,165.2 407.9,177.6 408.4,171.2 408.9,174.2 409.4,171.7 409.9,173 410.4,174.7 410.9,181 411.4,172.3 411.9,171.4 412.4,172 412.9,175.5 413.4,173.8 413.9,163.4 414.3,175.7 414.8,172.8 415.3,176.2 415.8,172.4 416.3,170.7 416.8,167.1 417.3,170.8 417.8,171.6 418.3,170.3 418.8,169.5 419.3,171.7 419.8,171.7 420.3,167.1 420.8,174.3 421.3,171.9 421.8,175 422.3,173.5 422.8,166.1 423.3,174.2 423.8,171.4 424.2,163.8 424.7,169.7 425.2,172.3 425.7,174.5 426.2,181.1 426.7,175.2 427.2,175.1 427.7,168.2 428.2,169.2 428.7,176.5 429.2,169.5 429.7,174.1 430.2,165 430.7,166.3 431.2,169.2 431.7,173.2 432.2,165.1 432.7,168.4 433.2,167.3 433.7,169.6 434.1,172.5 434.6,168.6 435.1,174.6 435.6,168.6 436.1,170.8 436.6,178.7 437.1,169.7 437.6,171.7 438.1,169.3 438.6,171.8 439.1,168.7 439.6,175.8 440.1,175.5 440.6,168.9 441.1,170.9 441.6,178 442.1,171.2 442.6,177.9 443.1,169.1 443.6,170.6 444,169.9 444.5,180.4 445,174.7 445.5,168.6 446,177 446.5,169.9 447,172.6 447.5,171.9 448,174.9 448.5,171.4 449,170.4 449.5,168.7 450,162.7 450.5,172.6 451,171.6 451.5,175.7 452,165.4 452.5,173.1 453,168.9 453.5,176 453.9,172.7 454.4,169.5 454.9,170 455.4,172.8 455.9,168.4 456.4,171.3 456.9,167.8 457.4,172.5 457.9,169.3 458.4,173.4 458.9,166.9 459.4,171.6 459.9,171.4 460.4,173.7 460.9,167.9 461.4,171.4 461.9,172.4 462.4,166.7 462.9,174.4 463.4,168 463.8,166.1 464.3,178 464.8,168.4 465.3,169.7 465.8,171 466.3,170.4 466.8,176.2 467.3,169.9 467.8,170.9 468.3,177.2 468.8,172.5 469.3,176.2 469.8,171.4 470.3,175.1 470.8,171.4 471.3,177.1 471.8,173.8 472.3,173.4 472.8,172.7 473.3,167.7 473.7,163.9 474.2,177.5 474.7,168.8 475.2,172.9 475.7,173 476.2,173 476.7,172.5 477.2,172.2 477.7,168.8 478.2,167.2 478.7,170.6 479.2,171.7 479.7,169.8 480.2,170.4 480.7,165.2 481.2,175.4 481.7,177 482.2,172.9 482.7,170.8 483.2,172.8 483.6,171.2 484.1,181.5 484.6,174.9 485.1,174.5 485.6,177 486.1,174.4 486.6,173.1 487.1,170.8 487.6,175.6 488.1,178.3 488.6,170.9 489.1,165.3 489.6,171.8 490.1,171.9 490.6,176 491.1,171.6 491.6,166.7 492.1,179.5 492.6,168.7 493.1,179.5 493.5,167 494,169.4 494.5,173.5 495,171.3 495.5,166.3 496,176.2 496.5,168 497,168.7 497.5,172.2 498,167 498.5,178.2 499,172.7 499.5,176.6 500,172.4 500.5,170.3 501,178 501.5,171.2 502,171.2 502.5,174.4 503,172.5 503.4,168.3 503.9,174.1 504.4,166.4 504.9,179.3 505.4,176.8 505.9,168 506.4,177.1 506.9,167.9 507.4,172.3 507.9,169.9 508.4,173.5 508.9,168.5 509.4,169.2 509.9,166.9 510.4,170.5 510.9,177 511.4,168.7 511.9,171.8 512.4,167.5 512.9,177.7 513.4,170.6 513.8,173.8 514.3,172.3 514.8,169.1 515.3,169.2 515.8,167.1 516.3,170.5 516.8,170.2 517.3,171 517.8,176.3 518.3,168.3 518.8,175.1 519.3,172.6 519.8,170.6 520.3,174.6 520.8,173.9 521.3,181.2 521.8,175.4 522.3,176.3 522.8,174.6 523.3,170.4 523.7,173.3 524.2,172.8 524.7,171.9 525.2,168.7 525.7,168.4 526.2,170.8 526.7,173.2 527.2,169.1 527.7,173.3 528.2,172.9 528.7,171.2 529.2,174 529.7,176.2 530.2,176.7 530.7,173.4 531.2,171.5 531.7,170 532.2,175 532.7,177 533.2,172.1 533.6,173.8 534.1,163.2 534.6,174.8 535.1,175.2 535.6,171.7 536.1,166.6 536.6,173.4 537.1,167.3 537.6,175.7 538.1,173.5 538.6,172.8 539.1,173 539.6,171.9 540.1,170.2 540.6,172.8 541.1,175.6 541.6,172.2 542.1,171.8 542.6,171.1 543.1,167.7 543.5,170.1 544,171 544.5,166.9 545,173.4 545.5,177.4 546,173.9 546.5,176.2 547,172.8 547.5,172.7 548,172.1 548.5,170.9 549,169.7 549.5,170.4 550,171.4 550.5,173 551,173.7 551.5,172 552,172.9 552.5,175.8 553,173.5 553.4,169.6 553.9,171.9 554.4,175 554.9,171.2 555.4,169.9 555.9,175.8 556.4,166.3 556.9,168.1 557.4,172.6 557.9,168.2 558.4,171.1 558.9,169.8 559.4,175.1 559.9,173.7 560.4,172.8 560.9,172.4 561.4,173.7 561.9,177.5 562.4,175.9 562.9,170.6 563.3,173.5 563.8,166.3 564.3,167.5 564.8,169.4 565.3,171.5 565.8,178.5 566.3,169.8 566.8,168.4 567.3,174.9 567.8,174.9 568.3,174.2 568.8,169.1 569.3,168.7 569.8,175.6 570.3,173.6 570.8,169.6 571.3,171.5 571.8,173.3 572.3,170.4 572.8,175.4 573.2,177.4 573.7,173.3 574.2,169.8 574.7,167.8 575.2,173.3 575.7,175.2 576.2,172 576.7,172.5 577.2,172 577.7,169.7 578.2,167.7 578.7,173.8 579.2,167.7 579.7,174.7 580.2,175.8 580.7,169.2 581.2,176.5 581.7,176.3 582.2,176.2 582.7,178.7 583.1,170.8 583.6,166.6 584.1,170.4 584.6,169.5 585.1,173.6 585.6,175.7 586.1,170.6 586.6,176.4 587.1,181.9 587.6,175.4 588.1,168.9 588.6,171.2 589.1,173.4 589.6,176.3 590.1,175.8 590.6,168.5 591.1,172.9 591.6,175.3 592.1,168.7 592.6,180.9 593,178.2 593.5,173.6 594,169 594.5,171.4 595,167.8 595.5,175.6 596,171.2 596.5,172.3 597,173.7 597.5,176.8 598,160.3 598.5,171.5 599,174.8 599.5,170.3 600,164.1 600.5,178.1 601,172 601.5,166.6 602,166.6 602.5,176.5 602.9,174.8 603.4,180.1 603.9,173.2 604.4,178.5 604.9,176.9 605.4,168.3 605.9,177.4 606.4,179.4 606.9,173.1 607.4,172.4 607.9,172.3 608.4,169 608.9,175.5 609.4,173.5 609.9,170.7 610.4,174.4 610.9,168.1 611.4,169.5 611.9,172.8 612.4,173.5 612.8,172.8 613.3,171.8 613.8,179.8 614.3,177.5 614.8,175.7 615.3,176 615.8,175.2 616.3,175.2 616.8,172.8 617.3,174.2 617.8,171.9 618.3,172 618.8,173.4 619.3,174.7 619.8,175.8 620.3,170.5 620.8,174.9 621.3,172.5 621.8,170.5 622.3,173.8 622.7,179 623.2,176.1 623.7,166.6 624.2,179.3 624.7,179.2 625.2,178.9 625.7,173.3 626.2,169.9 626.7,177.2 627.2,170.2 627.7,181.6"/></svg>
<div class="a" style="top:42px;will-change:transform;transform:translateY(0.80px) rotate(0.001deg);right:610.4px;text-align:right;letter-spacing:-0.45px;">2.00%</div>
<div class="a" style="top:154px;will-change:transform;transform:translateY(0.20px) rotate(0.001deg);right:610.4px;text-align:right;letter-spacing:-0.45px;">1.00%</div>
<div class="a" style="top:265px;will-change:transform;transform:translateY(0.60px) rotate(0.001deg);right:610.4px;text-align:right;letter-spacing:-0.45px;">0%</div>
<div class="a" style="top:281px;will-change:transform;transform:translateY(0.10px) rotate(0.001deg);left:70px;width:120px;margin-left:-60px;text-align:center;letter-spacing:-0.25px;">20:00</div>
<div class="a" style="top:281px;will-change:transform;transform:translateY(0.10px) rotate(0.001deg);left:189px;width:120px;margin-left:-60px;text-align:center;letter-spacing:-0.25px;">00:00</div>
<div class="a" style="top:281px;will-change:transform;transform:translateY(0.10px) rotate(0.001deg);left:307.1px;width:120px;margin-left:-60px;text-align:center;letter-spacing:-0.25px;">04:00</div>
<div class="a" style="top:281px;will-change:transform;transform:translateY(0.10px) rotate(0.001deg);left:425.2px;width:120px;margin-left:-60px;text-align:center;letter-spacing:-0.25px;">08:00</div>
<div class="a" style="top:281px;will-change:transform;transform:translateY(0.10px) rotate(0.001deg);left:543.4px;width:120px;margin-left:-60px;text-align:center;letter-spacing:-0.25px;">12:00</div>
<div class="lh" style="top:306.4px;right:132.9px;text-align:right;">min</div>
<div class="lh" style="top:306.4px;right:79.3px;text-align:right;">max</div>
<div class="lh" style="top:306.4px;right:25.4px;text-align:right;">avg</div>
<div class="sw" style="left:17px;top:337px;background:#c4162a;color:#c4162a"></div>
<div class="t" style="top:330px;will-change:transform;transform:translateY(0.60px) rotate(0.001deg);left:43.5px;">ErrorRate</div>
<div class="t" style="top:330px;will-change:transform;transform:translateY(0.60px) rotate(0.001deg);right:124.1px;text-align:right;letter-spacing:-0.45px;">0.80%</div>
<div class="t" style="top:330px;will-change:transform;transform:translateY(0.60px) rotate(0.001deg);right:71.1px;text-align:right;letter-spacing:-0.45px;">1.07%</div>
<div class="t" style="top:330px;will-change:transform;transform:translateY(0.60px) rotate(0.001deg);right:17.7px;text-align:right;letter-spacing:-0.45px;">0.92%</div>
</div>
<div class="panel" style="left:1332.3px;top:42px;width:655px;height:362px">
<div class="title">Total Query Latency</div>
<svg class="plot" width="655" height="362" viewBox="0 0 655 362"><g fill="#3a3d41"><rect x="75.5" y="50.1" width="552.5" height="1"/><rect x="75.5" y="82.5" width="552.5" height="1"/><rect x="75.5" y="115" width="552.5" height="1"/><rect x="75.5" y="147.4" width="552.5" height="1"/><rect x="75.5" y="179.9" width="552.5" height="1"/><rect x="75.5" y="212.3" width="552.5" height="1"/><rect x="75.5" y="244.8" width="552.5" height="1"/><rect x="93.9" y="50.6" width="1" height="194.7"/><rect x="207" y="50.6" width="1" height="194.7"/><rect x="320.2" y="50.6" width="1" height="194.7"/><rect x="433.3" y="50.6" width="1" height="194.7"/><rect x="546.4" y="50.6" width="1" height="194.7"/></g><polyline fill="none" stroke="#a352cc" stroke-width="1.4" stroke-linejoin="round" points="75.5,208.9 76,207.7 76.4,210.9 76.9,212 77.4,207.9 77.9,196.3 78.3,210.8 78.8,201.3 79.3,210.7 79.8,210.7 80.2,209.9 80.7,209.6 81.2,203.4 81.7,206.7 82.1,207.1 82.6,208.6 83.1,202.8 83.6,198.1 84,205.9 84.5,208 85,209.7 85.5,207.9 85.9,210.1 86.4,200.3 86.9,208.9 87.4,201.2 87.8,210 88.3,198.6 88.8,204 89.3,203 89.7,205.3 90.2,209.4 90.7,192.6 91.2,210.2 91.6,200.9 92.1,200.6 92.6,209.4 93,202.5 93.5,199.1 94,201.3 94.5,210 94.9,208.6 95.4,203.9 95.9,204.8 96.4,202.1 96.8,207.5 97.3,211.4 97.8,210.2 98.3,175.9 98.7,207.6 99.2,210.8 99.7,204.5 100.2,200.4 100.6,209.1 101.1,208 101.6,207.8 102.1,202.9 102.5,208.2 103,208.2 103.5,207.6 104,203.6 104.4,200.8 104.9,199.5 105.4,207.4 105.9,207.1 106.3,206.6 106.8,207.4 107.3,209.3 107.7,204 108.2,203.7 108.7,202 109.2,205.7 109.6,206.6 110.1,210.7 110.6,197.7 111.1,210.6 111.5,207.8 112,199.3 112.5,211.5 113,207.2 113.4,211.9 113.9,203 114.4,208.7 114.9,209.3 115.3,205 115.8,205.3 116.3,207.5 116.8,204.3 117.2,203.6 117.7,207.2 118.2,206.7 118.7,201 119.1,205.3 119.6,205.9 120.1,207.6 120.6,209.3 121,208.2 121.5,208.5 122,194.7 122.5,209.3 122.9,211.2 123.4,206.7 123.9,209.5 124.3,210.6 124.8,204.5 125.3,209.5 125.8,211.1 126.2,205.7 126.7,197.8 127.2,201.2 127.7,207 128.1,206.5 128.6,208.1 129.1,203.8 129.6,208.1 130,205.3 130.5,207.6 131,205.8 131.5,212 131.9,206.8 132.4,208.2 132.9,207.6 133.4,204.6 133.8,210.1 134.3,209.2 134.8,206.2 135.3,202.2 135.7,160.9 136.2,205.7 136.7,211.9 137.2,205.6 137.6,199.1 138.1,207.5 138.6,202.7 139,208 139.5,209.2 140,213 140.5,210.1 140.9,204.4 141.4,206.1 141.9,205.1 142.4,212.8 142.8,210.2 143.3,206.6 143.8,211 144.3,201.1 144.7,196.5 145.2,211.5 145.7,196.6 146.2,196.9 146.6,213.2 147.1,211.8 147.6,207.6 148.1,206.9 148.5,208.8 149,197.6 149.5,201.5 150,208.1 150.4,211.5 150.9,206.3 151.4,200.9 151.9,196.9 152.3,199.3 152.8,212.8 153.3,208.7 153.8,206 154.2,208.1 154.7,202.8 155.2,203.5 155.6,201 156.1,197.7 156.6,207.6 157.1,195.6 157.5,209.8 158,208.8 158.5,203 159,208.2 159.4,201.8 159.9,195.6 160.4,209.6 160.9,201.1 161.3,198.2 161.8,203.7 162.3,210.9 162.8,202.3 163.2,200 163.7,210.4 164.2,207.1 164.7,199.3 165.1,203.8 165.6,199.1 166.1,198.4 166.6,210 167,209.9 167.5,201 168,207.7 168.5,201.3 168.9,203.2 169.4,209.1 169.9,201.1 170.3,204.1 170.8,208.8 171.3,208.5 171.8,208.7 172.2,205.4 172.7,201.4 173.2,204.1 173.7,207.8 174.1,211.2 174.6,207.1 175.1,207.8 175.6,209.4 176,210 176.5,198.2 177,198.6 177.5,211.6 177.9,202.1 178.4,205.9 178.9,197.2 179.4,210.3 179.8,202.5 180.3,209.8 180.8,209 181.3,207.6 181.7,203 182.2,208.1 182.7,212.8 183.2,203.9 183.6,208.6 184.1,209.3 184.6,213.5 185.1,199.6 185.5,202.1 186,201.5 186.5,206.5 186.9,211.3 187.4,204.5 187.9,211.1 188.4,204.2 188.8,209.9 189.3,212.6 189.8,206 190.3,207.3 190.7,207.2 191.2,210.2 191.7,210.5 192.2,200.9 192.6,207.4 193.1,197.3 193.6,197.1 194.1,209.8 194.5,207.7 195,214.7 195.5,206.7 196,208.3 196.4,205.6 196.9,207.4 197.4,208 197.9,208.8 198.3,208.8 198.8,199.7 199.3,203.5 199.8,194 200.2,202.9 200.7,208.7 201.2,209.2 201.7,198.1 202.1,213.4 202.6,207.9 203.1,208.8 203.5,214.2 204,160.9 204.5,208.2 205,208.8 205.4,210.5 205.9,208 206.4,208 206.9,201.3 207.3,208 207.8,191.3 208.3,208.1 208.8,205.6 209.2,206.1 209.7,200.4 210.2,196.1 210.7,195.5 211.1,198.7 211.6,202.6 212.1,209.7 212.6,205.1 213,205.4 213.5,201.5 214,209.4 214.5,201.6 214.9,201.5 215.4,206 215.9,204.4 216.4,207.5 216.8,200.5 217.3,209.9 217.8,208.6 218.2,190.2 218.7,207.1 219.2,207.2 219.7,200.2 220.1,208 220.6,205.9 221.1,210.7 221.6,211.5 222,208.5 222.5,196.9 223,208.1 223.5,190 223.9,199.1 224.4,202.8 224.9,208.2 225.4,203.4 225.8,186.7 226.3,210.3 226.8,202 227.3,194.7 227.7,199.3 228.2,204.9 228.7,206.8 229.2,199.1 229.6,210.4 230.1,193.1 230.6,207.7 231.1,211.1 231.5,206.3 232,206 232.5,206.7 233,210.6 233.4,208.2 233.9,201.2 234.4,204 234.8,198.7 235.3,205.5 235.8,209.5 236.3,207.2 236.7,206.1 237.2,192.4 237.7,204.2 238.2,204.3 238.6,201.2 239.1,200.7 239.6,207.7 240.1,197.3 240.5,200.5 241,205.7 241.5,203.3 242,205 242.4,203 242.9,209.6 243.4,209.7 243.9,198.5 244.3,205.2 244.8,194.8 245.3,193.9 245.8,202 246.2,191.1 246.7,207 247.2,202.9 247.7,206.2 248.1,203.1 248.6,196.5 249.1,203.3 249.5,202.5 250,207.4 250.5,203.3 251,207.8 251.4,204.9 251.9,208.3 252.4,199.9 252.9,190.5 253.3,204.1 253.8,201.5 254.3,198.6 254.8,207.7 255.2,210.4 255.7,210.3 256.2,196.7 256.7,205.9 257.1,212.1 257.6,212 258.1,200.2 258.6,209.6 259,196.4 259.5,197.7 260,209.3 260.5,209.3 260.9,211.1 261.4,202.8 261.9,212.2 262.4,205 262.8,209 263.3,197.2 263.8,208.8 264.3,205.8 264.7,203.8 265.2,210.8 265.7,188.5 266.1,208.7 266.6,209.6 267.1,208.2 267.6,208.5 268,211.5 268.5,203.9 269,207.6 269.5,209 269.9,198 270.4,205.3 270.9,194.9 271.4,211.3 271.8,196.2 272.3,204.6 272.8,179.6 273.3,204.2 273.7,205.8 274.2,206.1 274.7,201.3 275.2,208.6 275.6,204.8 276.1,206.7 276.6,186.9 277.1,200.2 277.5,204.6 278,213 278.5,204.5 279,206.4 279.4,120.7 279.9,205.1 280.4,207.8 280.8,209.9 281.3,207.1 281.8,206.9 282.3,206.9 282.7,207 283.2,204.6 283.7,209.7 284.2,201.3 284.6,208.4 285.1,206.5 285.6,208.6 286.1,205.7 286.5,195.9 287,203.9 287.5,206.2 288,206.3 288.4,208.4 288.9,210.2 289.4,212.7 289.9,205.8 290.3,202.7 290.8,201.3 291.3,211.5 291.8,208.1 292.2,203 292.7,206.7 293.2,191.8 293.7,199.1 294.1,209.3 294.6,199.6 295.1,205.7 295.6,207.1 296,203.9 296.5,207.8 297,210.9 297.4,200.1 297.9,202.4 298.4,202.5 298.9,205.2 299.3,210.3 299.8,205.9 300.3,193.9 300.8,203.2 301.2,205.4 301.7,203.9 302.2,205.7 302.7,204.7 303.1,204.5 303.6,206.4 304.1,204.7 304.6,204.1 305,203.7 305.5,185.6 306,204.8 306.5,207.7 306.9,204.3 307.4,209.5 307.9,191.2 308.4,206.4 308.8,205.4 309.3,204.4 309.8,199.3 310.3,207.7 310.7,204.1 311.2,207.2 311.7,206.9 312.2,202.9 312.6,209.1 313.1,196.4 313.6,207.5 314,200.8 314.5,208.9 315,207.1 315.5,209.5 315.9,201.5 316.4,206.9 316.9,208.8 317.4,210 317.8,189.9 318.3,203.1 318.8,201 319.3,196.8 319.7,202.3 320.2,196 320.7,206.6 321.2,203.9 321.6,192.9 322.1,210.4 322.6,200.7 323.1,209 323.5,194.8 324,208.4 324.5,206.1 325,206.9 325.4,210.7 325.9,209.2 326.4,210.3 326.9,200.9 327.3,210.3 327.8,199.1 328.3,205.2 328.7,201.2 329.2,196.9 329.7,200 330.2,203.6 330.6,209.2 331.1,200.8 331.6,205.6 332.1,200.2 332.5,205.9 333,207 333.5,190.9 334,201.9 334.4,201.3 334.9,208.1 335.4,207.6 335.9,207.4 336.3,209.1 336.8,206 337.3,203.9 337.8,208.6 338.2,208 338.7,198.4 339.2,211.5 339.7,191.4 340.1,194.5 340.6,199.3 341.1,200.5 341.6,191.9 342,194.6 342.5,199.5 343,207.7 343.5,209.9 343.9,208.5 344.4,184.1 344.9,199.9 345.3,207.9 345.8,197.8 346.3,207.8 346.8,204.2 347.2,211.8 347.7,209.5 348.2,209.9 348.7,210.5 349.1,213.7 349.6,211.4 350.1,165.5 350.6,208.3 351,203.2 351.5,211.8 352,194.8 352.5,211.4 352.9,210.5 353.4,205.9 353.9,210.4 354.4,207.2 354.8,195.9 355.3,198.6 355.8,208.7 356.3,196.8 356.7,208.4 357.2,154.4 357.7,203 358.2,202 358.6,211.7 359.1,201.5 359.6,206 360,208.3 360.5,208.1 361,207.7 361.5,209 361.9,197 362.4,193 362.9,187.8 363.4,203.7 363.8,203.7 364.3,194.7 364.8,200.9 365.3,190.1 365.7,200.6 366.2,193.2 366.7,210.5 367.2,209 367.6,205.1 368.1,207.3 368.6,209.6 369.1,210.8 369.5,212.4 370,207.5 370.5,208.9 371,201.6 371.4,209.7 371.9,207.4 372.4,203.2 372.9,201 373.3,209.4 373.8,207.6 374.3,192.6 374.8,147.9 375.2,204.6 375.7,204.6 376.2,208.4 376.6,213.4 377.1,207.5 377.6,209.5 378.1,208.7 378.5,209.7 379,210.4 379.5,206.6 380,210.6 380.4,199.3 380.9,204.6 381.4,206.7 381.9,204.2 382.3,197.2 382.8,205.1 383.3,196.4 383.8,181.3 384.2,201.3 384.7,198.6 385.2,205.2 385.7,202.7 386.1,206.4 386.6,190.7 387.1,207.3 387.6,200.2 388,208.4 388.5,206 389,210.7 389.5,211.9 389.9,197.8 390.4,200.9 390.9,208.5 391.3,211.9 391.8,211.6 392.3,215.3 392.8,210.6 393.2,200.1 393.7,214.6 394.2,191.9 394.7,209.9 395.1,198.5 395.6,206.9 396.1,214.9 396.6,215.3 397,198.4 397.5,200.2 398,213.1 398.5,191.8 398.9,209.5 399.4,180.1 399.9,209.5 400.4,199.4 400.8,206.7 401.3,209.1 401.8,200.4 402.3,208.3 402.7,208.4 403.2,204.8 403.7,209.2 404.2,208.5 404.6,204.5 405.1,202.1 405.6,195.9 406.1,191.8 406.5,202.7 407,188 407.5,199.7 407.9,202.7 408.4,193.4 408.9,191 409.4,202.3 409.8,146.7 410.3,199.7 410.8,203.2 411.3,208 411.7,203.6 412.2,203.9 412.7,203.2 413.2,200.7 413.6,193.1 414.1,206.9 414.6,202.8 415.1,197 415.5,212 416,192.4 416.5,201.8 417,178.5 417.4,195.9 417.9,155.7 418.4,202.1 418.9,203.8 419.3,198.9 419.8,208 420.3,200.6 420.8,203.8 421.2,203.8 421.7,198.8 422.2,201.7 422.7,185 423.1,200.2 423.6,196.3 424.1,205.2 424.5,205.5 425,189.4 425.5,205.4 426,207.9 426.4,208.2 426.9,207.1 427.4,208.2 427.9,207.2 428.3,193.5 428.8,205.4 429.3,200.1 429.8,186.1 430.2,207.2 430.7,207.1 431.2,211 431.7,195.3 432.1,202.3 432.6,211.6 433.1,193.9 433.6,196.6 434,215.2 434.5,209.9 435,198.8 435.5,209.6 435.9,206.9 436.4,201.1 436.9,203.8 437.4,207.7 437.8,200.1 438.3,193.5 438.8,206.3 439.2,180 439.7,198.5 440.2,200.3 440.7,208.4 441.1,207.4 441.6,206.7 442.1,194.9 442.6,206.9 443,191 443.5,193.8 444,204.9 444.5,202.9 444.9,188.1 445.4,205.5 445.9,210.5 446.4,205 446.8,200.7 447.3,193.3 447.8,197.5 448.3,153.8 448.7,192.1 449.2,198.8 449.7,190.7 450.2,190.2 450.6,199.6 451.1,193.9 451.6,195.5 452.1,199.3 452.5,188.7 453,205.9 453.5,202.2 454,204.8 454.4,193.8 454.9,199.4 455.4,204.7 455.8,199.2 456.3,201 456.8,204.9 457.3,201.9 457.7,198.1 458.2,185.1 458.7,199.3 459.2,194.3 459.6,186.6 460.1,189.2 460.6,198.6 461.1,194.5 461.5,202 462,203 462.5,202.1 463,201.1 463.4,193.6 463.9,196.8 464.4,148.6 464.9,209.5 465.3,205.1 465.8,204.2 466.3,208.4 466.8,212.5 467.2,200.1 467.7,184.2 468.2,207.5 468.7,202.6 469.1,186.3 469.6,203.9 470.1,204.1 470.5,207.4 471,203.6 471.5,195.2 472,193.9 472.4,204.1 472.9,194.2 473.4,207.8 473.9,205.3 474.3,201.3 474.8,201.3 475.3,194.3 475.8,204.7 476.2,211.8 476.7,193.1 477.2,185.3 477.7,200.1 478.1,205.6 478.6,206.8 479.1,204.8 479.6,210.7 480,205.2 480.5,207.3 481,211.9 481.5,205.9 481.9,202.7 482.4,190.4 482.9,155.7 483.4,190.2 483.8,208.6 484.3,207.8 484.8,203.3 485.3,208.6 485.7,205 486.2,208.2 486.7,208 487.1,206.4 487.6,198.4 488.1,203.8 488.6,205.2 489,188.5 489.5,202.7 490,195.5 490.5,198.9 490.9,193.7 491.4,201 491.9,203 492.4,197.4 492.8,196.4 493.3,194.1 493.8,195.2 494.3,195.6 494.7,203.7 495.2,190.2 495.7,190.3 496.2,200.6 496.6,197.1 497.1,198.5 497.6,186 498.1,206.2 498.5,201.7 499,193.5 499.5,206.8 500,203.4 500.4,183.3 500.9,206.1 501.4,200.5 501.8,204.6 502.3,201.6 502.8,204.5 503.3,198.9 503.7,207 504.2,184 504.7,196.4 505.2,196.5 505.6,202.8 506.1,197.4 506.6,201.5 507.1,193.9 507.5,202.2 508,202.1 508.5,185.6 509,188.4 509.4,182.4 509.9,189.1 510.4,206.1 510.9,192.9 511.3,159 511.8,194.3 512.3,186.6 512.8,186.2 513.2,193 513.7,190.5 514.2,195.2 514.7,181.4 515.1,201.4 515.6,201.4 516.1,183.9 516.6,188 517,188.1 517.5,191 518,179.1 518.4,196.7 518.9,196.4 519.4,191.4 519.9,191.4 520.3,195 520.8,195.5 521.3,190.2 521.8,180.2 522.2,200.6 522.7,182.1 523.2,186.9 523.7,196 524.1,198.8 524.6,198.3 525.1,165.5 525.6,176.1 526,197 526.5,198.3 527,195.2 527.5,204.8 527.9,190.7 528.4,201.3 528.9,199.2 529.4,197.2 529.8,197.2 530.3,192.1 530.8,197.3 531.3,197.2 531.7,203.2 532.2,201.6 532.7,204.9 533.2,195.8 533.6,193.5 534.1,197.8 534.6,190.6 535,198.2 535.5,182.2 536,200.4 536.5,180.9 536.9,183.9 537.4,196.6 537.9,190.6 538.4,185 538.8,197.3 539.3,191.9 539.8,185 540.3,189.7 540.7,196.6 541.2,200.8 541.7,188 542.2,187.2 542.6,178.8 543.1,186.8 543.6,200.7 544.1,200.2 544.5,202.2 545,190.7 545.5,198 546,196.1 546.4,199.7 546.9,204 547.4,196.2 547.9,204.5 548.3,205.8 548.8,201.9 549.3,194.9 549.7,185.6 550.2,195.1 550.7,196.7 551.2,193.2 551.6,189 552.1,185.4 552.6,200.3 553.1,199.4 553.5,166.9 554,202 554.5,158.3 555,199.3 555.4,199 555.9,200.2 556.4,180.5 556.9,186.5 557.3,200.4 557.8,172.1 558.3,198.7 558.8,195.1 559.2,200.4 559.7,200.9 560.2,192.1 560.7,181.5 561.1,190.4 561.6,196.3 562.1,198.3 562.6,182.9 563,203.1 563.5,198.6 564,201.3 564.5,198.8 564.9,199.3 565.4,201.4 565.9,203.2 566.3,194.9 566.8,176.7 567.3,195.4 567.8,200.6 568.2,203.5 568.7,193.6 569.2,195.7 569.7,179.6 570.1,202.5 570.6,184 571.1,80.8 571.6,195.3 572,191.9 572.5,202.6 573,207 573.5,196.6 573.9,194.3 574.4,184.4 574.9,116.8 575.4,177.3 575.8,200.2 576.3,177.9 576.8,189.3 577.3,185.1 577.7,202.2 578.2,187.9 578.7,191.6 579.2,190.9 579.6,164.6 580.1,195.9 580.6,194.9 581,190 581.5,189.5 582,198.7 582.5,199.4 582.9,194.8 583.4,200.6 583.9,189.3 584.4,198.9 584.8,203 585.3,190 585.8,192 586.3,191 586.7,196.3 587.2,191.8 587.7,199.9 588.2,205.3 588.6,199.9 589.1,199.6 589.6,200.3 590.1,195.2 590.5,180 591,189 591.5,192.4 592,190.6 592.4,201.8 592.9,176.2 593.4,195.5 593.9,160.6 594.3,186.2 594.8,186.6 595.3,179.7 595.8,198.3 596.2,188.6 596.7,201 597.2,199.8 597.6,209.5 598.1,199.4 598.6,201.6 599.1,197.7 599.5,205.6 600,206.6 600.5,198.2 601,203.1 601.4,196.3 601.9,206.5 602.4,208.6 602.9,197.1 603.3,199 603.8,199.8 604.3,198 604.8,200.2 605.2,203.6 605.7,189.8 606.2,200.9 606.7,204.1 607.1,205.4 607.6,209.8 608.1,206.2 608.6,198.8 609,197.1 609.5,210.5 610,194.6 610.5,207.3 610.9,193.6 611.4,205.3 611.9,208.4 612.3,192.9 612.8,209.6 613.3,199.3 613.8,203 614.2,197.5 614.7,195.7 615.2,198.3 615.7,188.7 616.1,208.2 616.6,192.8 617.1,187.2 617.6,207.5 618,207.5 618.5,204.3 619,206.5 619.5,191.5 619.9,195.8 620.4,188.9 620.9,205.2 621.4,184.7 621.8,206.1 622.3,207.1 622.8,182.9 623.3,190.6 623.7,206.7 624.2,197.6 624.7,212.3 625.2,194.6 625.6,173.6 626.1,208 626.6,197.8 627.1,206.7 627.5,175.9 628,207"/><polyline fill="none" stroke="#1f60c4" stroke-width="1.4" stroke-linejoin="round" points="75.5,241 76,241.1 76.4,240.9 76.9,241.1 77.4,241.1 77.9,240.8 78.3,240.8 78.8,241 79.3,240.9 79.8,240.6 80.2,240.9 80.7,241.1 81.2,241.2 81.7,241.2 82.1,241.1 82.6,241.1 83.1,240.9 83.6,241.2 84,240.9 84.5,241 85,241.2 85.5,240.9 85.9,240.8 86.4,240.7 86.9,241.2 87.4,240.7 87.8,241.1 88.3,240.5 88.8,241.1 89.3,240.7 89.7,240.6 90.2,241.2 90.7,241.1 91.2,240.8 91.6,241.2 92.1,240.9 92.6,240.7 93,241.1 93.5,241.1 94,240.7 94.5,240.4 94.9,241 95.4,240.8 95.9,241.1 96.4,240.8 96.8,240.9 97.3,241.1 97.8,241.1 98.3,237.9 98.7,241 99.2,240.7 99.7,241.1 100.2,241.1 100.6,240.9 101.1,240.9 101.6,240.9 102.1,241.1 102.5,241 103,241 103.5,241.2 104,240.9 104.4,241.1 104.9,241 105.4,241.2 105.9,241.2 106.3,241.1 106.8,241.1 107.3,241.2 107.7,241.1 108.2,240.7 108.7,240.7 109.2,240.7 109.6,240.7 110.1,241.1 110.6,241.1 111.1,241 111.5,241.1 112,240.9 112.5,241 113,241 113.4,241 113.9,241.1 114.4,241.1 114.9,240.7 115.3,240.8 115.8,240.9 116.3,241 116.8,240.9 117.2,241.1 117.7,241.1 118.2,241 118.7,241 119.1,241 119.6,240.7 120.1,240.8 120.6,240.7 121,241 121.5,241.1 122,240.9 122.5,240.8 122.9,240.9 123.4,240.8 123.9,240.9 124.3,241.1 124.8,241.2 125.3,241.2 125.8,240.8 126.2,241.2 126.7,240.7 127.2,241.1 127.7,240.8 128.1,240.9 128.6,240.8 129.1,240.7 129.6,241.2 130,240.8 130.5,241.2 131,241 131.5,241.1 131.9,241.1 132.4,241.1 132.9,241.2 133.4,241.1 133.8,240.9 134.3,240.8 134.8,241.1 135.3,241 135.7,237.2 136.2,240.7 136.7,240.7 137.2,241.2 137.6,241 138.1,241 138.6,240.8 139,241 139.5,240.5 140,241 140.5,240.8 140.9,241.2 141.4,240.8 141.9,240.9 142.4,241.1 142.8,240.9 143.3,240.7 143.8,241.1 144.3,240.9 144.7,241.2 145.2,241.1 145.7,240.6 146.2,241.2 146.6,241 147.1,240.6 147.6,241.2 148.1,241.1 148.5,241 149,240.9 149.5,240.8 150,240.9 150.4,241.2 150.9,241.2 151.4,241.2 151.9,240.9 152.3,241.1 152.8,240.9 153.3,240.6 153.8,240.8 154.2,240.8 154.7,241.1 155.2,240.7 155.6,240.7 156.1,240.9 156.6,240.9 157.1,241 157.5,240.9 158,240.7 158.5,241 159,240.9 159.4,240.7 159.9,241.1 160.4,240.7 160.9,241.1 161.3,241.2 161.8,241.1 162.3,240.7 162.8,241.1 163.2,241.1 163.7,241.2 164.2,240.9 164.7,240.8 165.1,240.8 165.6,241.1 166.1,241.2 166.6,240.8 167,240.9 167.5,241.1 168,241.1 168.5,240.9 168.9,240.9 169.4,241 169.9,240.5 170.3,240.8 170.8,241 171.3,241.1 171.8,241 172.2,241.2 172.7,241 173.2,240.9 173.7,241.2 174.1,241.1 174.6,241.1 175.1,240.9 175.6,240.9 176,241.2 176.5,241.1 177,241.1 177.5,241.1 177.9,241.1 178.4,240.9 178.9,240.8 179.4,241 179.8,241.2 180.3,240.8 180.8,241 181.3,240.9 181.7,241.2 182.2,240.9 182.7,241.2 183.2,241.1 183.6,240.7 184.1,241 184.6,240.8 185.1,240.9 185.5,241.2 186,241.2 186.5,240.6 186.9,240.9 187.4,241 187.9,241 188.4,241.2 188.8,241.1 189.3,241 189.8,241 190.3,241 190.7,241.2 191.2,241.2 191.7,240.6 192.2,241.2 192.6,240.7 193.1,241 193.6,240.7 194.1,241 194.5,240.9 195,241.1 195.5,241.2 196,240.9 196.4,241.1 196.9,240.9 197.4,241.2 197.9,240.6 198.3,240.8 198.8,240.7 199.3,241.1 199.8,241.2 200.2,240.7 200.7,241 201.2,240.6 201.7,241 202.1,241 202.6,241.2 203.1,240.8 203.5,241.2 204,237.2 204.5,240.8 205,240.7 205.4,241.1 205.9,240.1 206.4,240.5 206.9,240.6 207.3,241.2 207.8,240.6 208.3,241.1 208.8,241 209.2,241.1 209.7,240.8 210.2,241 210.7,241.1 211.1,241 211.6,241 212.1,241.1 212.6,240.7 213,241.2 213.5,240.9 214,240.9 214.5,240.9 214.9,240.6 215.4,241 215.9,241 216.4,240.6 216.8,240.9 217.3,241.2 217.8,241 218.2,241.1 218.7,240.9 219.2,240.8 219.7,240.7 220.1,241 220.6,240.9 221.1,240.9 221.6,240.6 222,241 222.5,241.2 223,241.2 223.5,241 223.9,240.9 224.4,241 224.9,240.8 225.4,241 225.8,241 226.3,241.1 226.8,241 227.3,240.9 227.7,241.1 228.2,241.1 228.7,240.9 229.2,240.8 229.6,241 230.1,241.1 230.6,240.7 231.1,241.2 231.5,241.2 232,241.1 232.5,241 233,240.8 233.4,241.2 233.9,241.2 234.4,240.9 234.8,241.1 235.3,240.8 235.8,240.9 236.3,240.9 236.7,240.7 237.2,241 237.7,241.2 238.2,241.2 238.6,241.1 239.1,240.9 239.6,241 240.1,241.2 240.5,240.9 241,240.8 241.5,241.2 242,241.2 242.4,240.7 242.9,241.2 243.4,241.1 243.9,240.9 244.3,240.7 244.8,240.6 245.3,241.2 245.8,241.1 246.2,241.1 246.7,240.9 247.2,241 247.7,241.2 248.1,240.9 248.6,240.4 249.1,240.7 249.5,241.1 250,241.1 250.5,240.8 251,240.7 251.4,241 251.9,241.1 252.4,240.8 252.9,241 253.3,240.9 253.8,241.1 254.3,241.1 254.8,241 255.2,241.1 255.7,241 256.2,241.1 256.7,240.5 257.1,240.8 257.6,241.1 258.1,241.1 258.6,241 259,240.5 259.5,241 260,241.1 260.5,241 260.9,241 261.4,240.9 261.9,241 262.4,240.8 262.8,240.8 263.3,241.2 263.8,240.8 264.3,241.1 264.7,241 265.2,240.5 265.7,240.5 266.1,240.9 266.6,240.7 267.1,241 267.6,241.1 268,241.1 268.5,240.9 269,241 269.5,240.7 269.9,240.5 270.4,241 270.9,240.5 271.4,241.2 271.8,241.1 272.3,241 272.8,241.1 273.3,241.2 273.7,240.8 274.2,241 274.7,241 275.2,240.9 275.6,241 276.1,241.2 276.6,241.2 277.1,241 277.5,241.2 278,241 278.5,240.5 279,240.8 279.4,235.4 279.9,241.1 280.4,240.8 280.8,240.8 281.3,240.9 281.8,241.1 282.3,240.6 282.7,241.1 283.2,240.9 283.7,241 284.2,241 284.6,240.8 285.1,240.8 285.6,241.1 286.1,241 286.5,241 287,240.9 287.5,241 288,241.2 288.4,240.9 288.9,241.2 289.4,240.8 289.9,241 290.3,241.1 290.8,241.1 291.3,240.8 291.8,240.4 292.2,240.9 292.7,240.5 293.2,241 293.7,241.2 294.1,241 294.6,241 295.1,241.1 295.6,240.9 296,240.9 296.5,240.9 297,241.1 297.4,240.7 297.9,240.9 298.4,241.1 298.9,240.6 299.3,241 299.8,240.6 300.3,241.1 300.8,240.5 301.2,241.2 301.7,240.8 302.2,241 302.7,241.2 303.1,241.2 303.6,241.1 304.1,241.1 304.6,240.7 305,240.9 305.5,240.7 306,241.2 306.5,241.1 306.9,240.7 307.4,240.9 307.9,241.2 308.4,241.1 308.8,240.9 309.3,241.2 309.8,240.6 310.3,240.9 310.7,241.1 311.2,240.9 311.7,240.8 312.2,240.8 312.6,240.7 313.1,241.2 313.6,240.8 314,240.3 314.5,241 315,241 315.5,240.8 315.9,241.2 316.4,241.2 316.9,241.2 317.4,241.1 317.8,241 318.3,241.1 318.8,241 319.3,241 319.7,241.2 320.2,240.9 320.7,240.7 321.2,241.1 321.6,240.8 322.1,241.1 322.6,240.5 323.1,240.7 323.5,241.1 324,241.1 324.5,241.2 325,241.1 325.4,240.8 325.9,241.1 326.4,241.2 326.9,240.8 327.3,241.2 327.8,240.8 328.3,241.1 328.7,241 329.2,241 329.7,241 330.2,241.1 330.6,241.1 331.1,241 331.6,241.1 332.1,241.2 332.5,241.1 333,241.1 333.5,241.1 334,240.8 334.4,241.1 334.9,240.9 335.4,241.2 335.9,240.6 336.3,240.9 336.8,240.6 337.3,241 337.8,240.8 338.2,241 338.7,241.1 339.2,241.2 339.7,241.1 340.1,241.2 340.6,241.1 341.1,240.6 341.6,240.9 342,240.9 342.5,240.8 343,240.8 343.5,241.1 343.9,240.6 344.4,241 344.9,240.9 345.3,241 345.8,241.1 346.3,241.2 346.8,240.5 347.2,240.9 347.7,241 348.2,241 348.7,241 349.1,240.9 349.6,240.8 350.1,237.5 350.6,241 351,240.9 351.5,240.8 352,241 352.5,241.1 352.9,240.9 353.4,240.8 353.9,240.8 354.4,240.5 354.8,241.1 355.3,241.1 355.8,241.2 356.3,241.2 356.7,241 357.2,237 357.7,241.1 358.2,240.7 358.6,241.2 359.1,241.2 359.6,240.6 360,241.1 360.5,241.2 361,241.1 361.5,241.1 361.9,241 362.4,241 362.9,241.1 363.4,240.9 363.8,241.1 364.3,241.1 364.8,241.1 365.3,241.1 365.7,240.8 366.2,240.9 366.7,240.8 367.2,241.1 367.6,241.1 368.1,241.2 368.6,241 369.1,241 369.5,241.1 370,241 370.5,240.6 371,241.2 371.4,241.1 371.9,240.7 372.4,241.1 372.9,240.8 373.3,241 373.8,241.1 374.3,241.1 374.8,236.7 375.2,241.1 375.7,241 376.2,240.8 376.6,241 377.1,240.8 377.6,240.8 378.1,241.1 378.5,241.1 379,241.2 379.5,240.8 380,240.9 380.4,240.9 380.9,241.1 381.4,241.2 381.9,240.9 382.3,241.2 382.8,241 383.3,240.9 383.8,241.1 384.2,241 384.7,241.1 385.2,241 385.7,240.9 386.1,240.8 386.6,240.6 387.1,240.8 387.6,241 388,241 388.5,240.8 389,240.8 389.5,240.6 389.9,240.8 390.4,241.1 390.9,240.8 391.3,241.2 391.8,240.8 392.3,241 392.8,241.2 393.2,240.7 393.7,240.9 394.2,240.8 394.7,241 395.1,240.9 395.6,241.1 396.1,241.1 396.6,241.1 397,241.1 397.5,241.1 398,241.1 398.5,240.5 398.9,240.8 399.4,240.6 399.9,241 400.4,241.1 400.8,241.2 401.3,240.5 401.8,241.1 402.3,241 402.7,241.1 403.2,240.5 403.7,241.1 404.2,240.9 404.6,240.7 405.1,241.1 405.6,240.8 406.1,241 406.5,241 407,241.2 407.5,240.9 407.9,240.7 408.4,241.2 408.9,240.8 409.4,241.1 409.8,236.6 410.3,241.1 410.8,241.1 411.3,241.1 411.7,241.1 412.2,241.1 412.7,240.9 413.2,241.1 413.6,240.9 414.1,240.9 414.6,240.7 415.1,241.2 415.5,240.7 416,240.9 416.5,241 417,240.6 417.4,241 417.9,237 418.4,240.8 418.9,240.9 419.3,241.1 419.8,241.1 420.3,240.9 420.8,241.1 421.2,241 421.7,241.2 422.2,240.7 422.7,241.1 423.1,241.1 423.6,241.2 424.1,241.1 424.5,240.9 425,241.2 425.5,240.7 426,240.9 426.4,241 426.9,240.9 427.4,240.4 427.9,240.9 428.3,241 428.8,240.9 429.3,240.7 429.8,241.1 430.2,241.1 430.7,240.8 431.2,240.7 431.7,241 432.1,240.5 432.6,241 433.1,241 433.6,241.1 434,241.1 434.5,241.2 435,241.2 435.5,241 435.9,241 436.4,240.9 436.9,240.8 437.4,240.6 437.8,240.8 438.3,240.9 438.8,240.9 439.2,241 439.7,241.2 440.2,240.9 440.7,241.2 441.1,241.1 441.6,241.2 442.1,241.1 442.6,241.1 443,240.9 443.5,240.5 444,240.8 444.5,240.9 444.9,240.6 445.4,241.2 445.9,241.1 446.4,241.1 446.8,241.2 447.3,241 447.8,240.5 448.3,236.9 448.7,240.9 449.2,240.8 449.7,240.9 450.2,240.9 450.6,241.2 451.1,241.2 451.6,240.9 452.1,241 452.5,241 453,241 453.5,240.6 454,240.7 454.4,240.9 454.9,241 455.4,241 455.8,240.8 456.3,240.9 456.8,241.1 457.3,241.1 457.7,241.1 458.2,241 458.7,241.2 459.2,241.1 459.6,241.1 460.1,240.8 460.6,241.1 461.1,241 461.5,241.2 462,241.1 462.5,241 463,241 463.4,241 463.9,241.1 464.4,236.7 464.9,241.2 465.3,240.9 465.8,241 466.3,241.2 466.8,240.8 467.2,241 467.7,241 468.2,240.8 468.7,241.1 469.1,241 469.6,241.1 470.1,241 470.5,240.9 471,240.7 471.5,241.2 472,240.6 472.4,241.2 472.9,241.1 473.4,241.1 473.9,240.9 474.3,240.8 474.8,240.8 475.3,240.5 475.8,241.2 476.2,240.9 476.7,240.9 477.2,241.1 477.7,240.9 478.1,241 478.6,241 479.1,241 479.6,241 480,240.8 480.5,241.2 481,241.2 481.5,241.1 481.9,241 482.4,241.1 482.9,237 483.4,241 483.8,241.1 484.3,240.9 484.8,241.2 485.3,241.1 485.7,240.9 486.2,241 486.7,241.2 487.1,241.2 487.6,241.2 488.1,240.7 488.6,241.2 489,241.2 489.5,240.9 490,241 490.5,241 490.9,240.5 491.4,241.1 491.9,241 492.4,241.2 492.8,241 493.3,241 493.8,240.5 494.3,240.6 494.7,241.2 495.2,241.1 495.7,240.8 496.2,241.2 496.6,241 497.1,240.9 497.6,241.2 498.1,241.2 498.5,241.1 499,240.7 499.5,241.1 500,240.9 500.4,240.9 500.9,241 501.4,240.7 501.8,241 502.3,241.1 502.8,241 503.3,241.2 503.7,240.7 504.2,241 504.7,241.1 505.2,240.9 505.6,240.8 506.1,241 506.6,240.9 507.1,241.2 507.5,240.9 508,241.1 508.5,241 509,240.9 509.4,240.9 509.9,241.1 510.4,240.7 510.9,241.1 511.3,237.2 511.8,241.1 512.3,241.1 512.8,240.9 513.2,240.9 513.7,241 514.2,241.1 514.7,240.6 515.1,240.7 515.6,240.4 516.1,240.9 516.6,241.1 517,241.1 517.5,241.1 518,241.1 518.4,240.7 518.9,241 519.4,241.1 519.9,240.8 520.3,241.1 520.8,240.8 521.3,241.2 521.8,240.9 522.2,240.9 522.7,240.4 523.2,241.1 523.7,241 524.1,241.1 524.6,240.7 525.1,237.5 525.6,240.8 526,241 526.5,241 527,240.8 527.5,240.9 527.9,241.1 528.4,241.1 528.9,241.2 529.4,241 529.8,240.9 530.3,240.8 530.8,240.9 531.3,240.8 531.7,241 532.2,241.2 532.7,240.7 533.2,240.9 533.6,241.2 534.1,241 534.6,241.1 535,241 535.5,241 536,241.1 536.5,241.2 536.9,241.1 537.4,240.6 537.9,240.7 538.4,240.7 538.8,240.7 539.3,241.1 539.8,241 540.3,241.2 540.7,240.7 541.2,240.9 541.7,241.1 542.2,241.2 542.6,241.1 543.1,240.4 543.6,241.2 544.1,240.9 544.5,240.6 545,240.7 545.5,240.7 546,241 546.4,240.8 546.9,241.1 547.4,240.9 547.9,241 548.3,241.2 548.8,241.2 549.3,240.7 549.7,241.2 550.2,241.1 550.7,241.1 551.2,241.2 551.6,241.2 552.1,241.2 552.6,240.8 553.1,241 553.5,241.2 554,241.1 554.5,237.1 555,240.6 555.4,240.9 555.9,241 556.4,241.2 556.9,240.5 557.3,240.8 557.8,241.1 558.3,241.1 558.8,241.1 559.2,241.1 559.7,241.1 560.2,240.7 560.7,240.9 561.1,240.6 561.6,241.1 562.1,240.9 562.6,240.7 563,240.9 563.5,241.2 564,240.9 564.5,240.6 564.9,241 565.4,241.1 565.9,241.1 566.3,240.8 566.8,241.2 567.3,240.8 567.8,240.9 568.2,241 568.7,241 569.2,241.2 569.7,240.9 570.1,241.1 570.6,240.5 571.1,233.6 571.6,241 572,241 572.5,241 573,240.8 573.5,240.9 573.9,241.1 574.4,240.8 574.9,235.2 575.4,240.9 575.8,241.2 576.3,241.1 576.8,240.9 577.3,241.1 577.7,241 578.2,241.1 578.7,240.9 579.2,241 579.6,241.2 580.1,241 580.6,240.9 581,240.4 581.5,240.8 582,241.1 582.5,241.1 582.9,241.1 583.4,241 583.9,241.1 584.4,240.9 584.8,241.1 585.3,241.1 585.8,240.7 586.3,241.1 586.7,240.8 587.2,241.1 587.7,241.1 588.2,241 588.6,240.8 589.1,240.7 589.6,241 590.1,241.2 590.5,240.8 591,241 591.5,241.2 592,241.1 592.4,241.1 592.9,241 593.4,241 593.9,241 594.3,240.6 594.8,241.1 595.3,240.7 595.8,240.5 596.2,241.2 596.7,241 597.2,241.1 597.6,240.9 598.1,241 598.6,241.1 599.1,240.6 599.5,241.2 600,241.1 600.5,241.1 601,240.8 601.4,241.2 601.9,241.2 602.4,241.2 602.9,241.1 603.3,241.1 603.8,240.8 604.3,240.8 604.8,241.2 605.2,241 605.7,240.7 606.2,241.1 606.7,241.2 607.1,241.2 607.6,240.9 608.1,240.9 608.6,241 609,240.8 609.5,240.9 610,240.8 610.5,241 610.9,240.7 611.4,240.7 611.9,240.9 612.3,240.8 612.8,241 613.3,241 613.8,241.1 614.2,241.1 614.7,240.8 615.2,241.1 615.7,240.9 616.1,241 616.6,241 617.1,240.8 617.6,241.1 618,241 618.5,240.9 619,240.9 619.5,240.8 619.9,240.8 620.4,240.8 620.9,241 621.4,240.5 621.8,241.1 622.3,240.7 622.8,240.9 623.3,240.7 623.7,241.1 624.2,241.2 624.7,240.8 625.2,241 625.6,241 626.1,241 626.6,240.9 627.1,241.1 627.5,237.9 628,241.2"/></svg>
<div class="a" style="top:42px;will-change:transform;transform:translateY(0.80px) rotate(0.001deg);right:585.2px;text-align:right;letter-spacing:-0.1px;">300.00 ms</div>
<div class="a" style="top:75px;will-change:transform;transform:translateY(0.25px) rotate(0.001deg);right:585.2px;text-align:right;letter-spacing:-0.1px;">250.00 ms</div>
<div class="a" style="top:107px;will-change:transform;transform:translateY(0.70px) rotate(0.001deg);right:585.2px;text-align:right;letter-spacing:-0.1px;">200.00 ms</div>
<div class="a" style="top:140px;will-change:transform;transform:translateY(0.15px) rotate(0.001deg);right:585.2px;text-align:right;letter-spacing:-0.1px;">150.00 ms</div>
<div class="a" style="top:172px;will-change:transform;transform:translateY(0.60px) rotate(0.001deg);right:585.2px;text-align:right;letter-spacing:-0.1px;">100.00 ms</div>
<div class="a" style="top:205px;right:585.2px;text-align:right;letter-spacing:-0.1px;">50.00 ms</div>
<div class="a" style="top:237px;will-change:transform;transform:translateY(0.50px) rotate(0.001deg);right:585.2px;text-align:right;letter-spacing:-0.1px;">0 s</div>
<div class="a" style="top:253px;left:94.4px;width:120px;margin-left:-60px;text-align:center;letter-spacing:-0.25px;">20:00</div>
<div class="a" style="top:253px;left:207.5px;width:120px;margin-left:-60px;text-align:center;letter-spacing:-0.25px;">00:00</div>
<div class="a" style="top:253px;left:320.7px;width:120px;margin-left:-60px;text-align:center;letter-spacing:-0.25px;">04:00</div>
<div class="a" style="top:253px;left:433.8px;width:120px;margin-left:-60px;text-align:center;letter-spacing:-0.25px;">08:00</div>
<div class="a" style="top:253px;left:546.9px;width:120px;margin-left:-60px;text-align:center;letter-spacing:-0.25px;">12:00</div>
<div class="lh" style="top:278.3px;right:178.5px;text-align:right;">min</div>
<div class="lh" style="top:278.3px;right:98.5px;text-align:right;">max</div>
<div class="lh" style="top:278.3px;right:25.3px;text-align:right;">avg</div>
<div class="sw" style="left:16.9px;top:309px;background:#1f60c4;color:#1f60c4"></div>
<div class="t" style="top:302px;will-change:transform;transform:translateY(0.60px) rotate(0.001deg);left:43.4px;">AvgLatency</div>
<div class="t" style="top:302px;will-change:transform;transform:translateY(0.60px) rotate(0.001deg);right:169.9px;text-align:right;">5.18 ms</div>
<div class="t" style="top:302px;will-change:transform;transform:translateY(0.60px) rotate(0.001deg);right:90.1px;text-align:right;">17.44 ms</div>
<div class="t" style="top:302px;will-change:transform;transform:translateY(0.60px) rotate(0.001deg);right:17.9px;text-align:right;">6.53 ms</div>
<div class="alt" style="left:14.8px;top:324px;width:625px"></div>
<div class="sw" style="left:16.9px;top:337px;background:#a352cc;color:#a352cc"></div>
<div class="t" style="top:330px;will-change:transform;transform:translateY(0.60px) rotate(0.001deg);left:43.4px;">p99Latency</div>
<div class="t" style="top:330px;will-change:transform;transform:translateY(0.60px) rotate(0.001deg);right:169.9px;text-align:right;">45.34 ms</div>
<div class="t" style="top:330px;will-change:transform;transform:translateY(0.60px) rotate(0.001deg);right:90.1px;text-align:right;">253.49 ms</div>
<div class="t" style="top:330px;will-change:transform;transform:translateY(0.60px) rotate(0.001deg);right:17.9px;text-align:right;">73.46 ms</div>
</div>
<div class="panel" style="left:5px;top:413px;width:655px;height:362px">
<div class="corner"></div><svg class="ext" viewBox="0 0 24 24" width="24" height="24"><path d="M10.3 6.6H7a1.6 1.6 0 0 0-1.6 1.6v5.6a1.6 1.6 0 0 0 1.6 1.6h5a1.6 1.6 0 0 0 1.6-1.6v-1.9" fill="none" stroke="#70737a" stroke-width="1.3"/><path d="M9.6 11.3 14.8 7" fill="none" stroke="#83868d" stroke-width="1.5"/><path d="M12.9 5.9h3.7v3.7z" fill="#90939a"/></svg>
<div class="title">Query Rate Per Node</div>
<svg class="plot" width="655" height="362" viewBox="0 0 655 362"><g fill="#3a3d41"><rect x="90.6" y="49.8" width="536.9" height="1"/><rect x="90.6" y="106" width="536.9" height="1"/><rect x="90.6" y="162.3" width="536.9" height="1"/><rect x="90.6" y="218.5" width="536.9" height="1"/><rect x="108" y="50.3" width="1" height="168.7"/><rect x="218.2" y="50.3" width="1" height="168.7"/><rect x="328.3" y="50.3" width="1" height="168.7"/><rect x="438.5" y="50.3" width="1" height="168.7"/><rect x="548.6" y="50.3" width="1" height="168.7"/></g><polyline fill="none" stroke="#7eb26d" stroke-width="1.4" stroke-linejoin="round" points="90.6,104.9 91.1,109.8 91.5,109 92,106 92.4,107.2 92.9,108 93.4,111.5 93.8,113.8 94.3,108.8 94.7,112 95.2,107.2 95.7,109.4 96.1,112.8 96.6,109.2 97.1,107.6 97.5,109.5 98,112.9 98.4,109.2 98.9,108.8 99.4,107.2 99.8,107.5 100.3,113.4 100.7,111.9 101.2,108 101.7,116.2 102.1,107.3 102.6,113.2 103,111.7 103.5,104.9 104,107.8 104.4,111.2 104.9,109.1 105.3,110.5 105.8,112.4 106.3,109.2 106.7,102.4 107.2,106.8 107.7,108.6 108.1,109.2 108.6,107.3 109,107.9 109.5,113.2 110,108.3 110.4,109.9 110.9,104 111.3,110.9 111.8,105.6 112.3,114.3 112.7,109 113.2,112.7 113.6,113.3 114.1,107.3 114.6,110.7 115,110.6 115.5,112.7 115.9,108.7 116.4,109.1 116.9,117.9 117.3,107.6 117.8,112.3 118.3,102.9 118.7,106.9 119.2,106.7 119.6,118.6 120.1,103.8 120.6,109.9 121,114.8 121.5,108.9 121.9,105.5 122.4,115.7 122.9,106.3 123.3,111.2 123.8,112 124.2,112 124.7,115.1 125.2,109.3 125.6,109.2 126.1,106.4 126.5,105.1 127,111.2 127.5,106.3 127.9,114.1 128.4,107.8 128.9,113.9 129.3,112 129.8,107.9 130.2,112.7 130.7,108.3 131.2,115.2 131.6,112.6 132.1,108.2 132.5,104.8 133,114.1 133.5,104.6 133.9,109.2 134.4,102.2 134.8,111.2 135.3,111.9 135.8,109 136.2,113.9 136.7,109.7 137.1,110.3 137.6,105.5 138.1,108.9 138.5,114.5 139,114.7 139.5,113.5 139.9,117.3 140.4,117.6 140.8,102.7 141.3,113 141.8,105.6 142.2,112.7 142.7,105.3 143.1,116.1 143.6,105.7 144.1,111.5 144.5,104.2 145,112.6 145.4,105.6 145.9,104.9 146.4,115.4 146.8,108.5 147.3,113.7 147.7,114.2 148.2,109.7 148.7,107.2 149.1,105.3 149.6,111.3 150.1,106.6 150.5,108.1 151,110.2 151.4,113.5 151.9,110.1 152.4,97.7 152.8,113.4 153.3,110.7 153.7,113.3 154.2,105.3 154.7,103.7 155.1,105.4 155.6,103.1 156,110.4 156.5,104.2 157,112.4 157.4,104.6 157.9,104.9 158.3,112.4 158.8,106.8 159.3,114 159.7,115.2 160.2,115.1 160.7,114.1 161.1,114.2 161.6,110.6 162,104 162.5,111.1 163,113.2 163.4,107.8 163.9,110 164.3,109.9 164.8,108.8 165.3,108.6 165.7,112.7 166.2,111.1 166.6,106.9 167.1,111.5 167.6,111.1 168,109.1 168.5,108.7 168.9,111.3 169.4,108.2 169.9,110.2 170.3,114.9 170.8,107.9 171.3,113.3 171.7,99.2 172.2,109.2 172.6,111.2 173.1,107.1 173.6,104.9 174,104.7 174.5,109.1 174.9,106.3 175.4,107.6 175.9,109.8 176.3,115.6 176.8,110.1 177.2,119.4 177.7,113.4 178.2,105.3 178.6,109.5 179.1,110.3 179.5,113.3 180,113.2 180.5,112.6 180.9,115.2 181.4,118.3 181.8,106.5 182.3,104.2 182.8,112.5 183.2,107.4 183.7,112.6 184.2,108.9 184.6,115.2 185.1,107.7 185.5,110 186,114.8 186.5,108.2 186.9,104.2 187.4,110.2 187.8,110.3 188.3,110.1 188.8,109.7 189.2,105.7 189.7,105.5 190.1,117.8 190.6,105.8 191.1,110.9 191.5,104.2 192,108.5 192.4,106.7 192.9,112 193.4,115 193.8,109.3 194.3,106.7 194.8,107.5 195.2,107.4 195.7,109.4 196.1,107.6 196.6,113.2 197.1,110.7 197.5,115.8 198,110.4 198.4,111.3 198.9,110 199.4,106.4 199.8,110 200.3,121 200.7,105.3 201.2,109.6 201.7,107.4 202.1,113.1 202.6,107.2 203,104.7 203.5,116 204,105.8 204.4,113.6 204.9,113 205.4,110.2 205.8,102.7 206.3,116.7 206.7,112.5 207.2,110 207.7,107.8 208.1,108.7 208.6,108.6 209,115.1 209.5,107.4 210,106.4 210.4,114.2 210.9,113 211.3,108.8 211.8,109 212.3,108.3 212.7,114.6 213.2,111.6 213.6,112 214.1,105.3 214.6,110.5 215,112 215.5,113.5 216,110.2 216.4,105.9 216.9,115.8 217.3,109.8 217.8,107.2 218.3,103 218.7,107.7 219.2,105.3 219.6,110 220.1,115.2 220.6,115.3 221,112.8 221.5,109.7 221.9,111.2 222.4,111.9 222.9,103.6 223.3,118.9 223.8,114 224.2,101.5 224.7,104.5 225.2,112.6 225.6,114.3 226.1,104.2 226.6,107.7 227,107.2 227.5,114.9 227.9,109.7 228.4,111 228.9,108.6 229.3,116.1 229.8,103.3 230.2,104.6 230.7,115.2 231.2,107 231.6,104.1 232.1,111.6 232.5,110.4 233,109.7 233.5,112.1 233.9,109.4 234.4,113.9 234.8,110 235.3,115.4 235.8,115.4 236.2,104.7 236.7,116.9 237.2,103.7 237.6,118.1 238.1,106.7 238.5,109.5 239,116 239.5,112 239.9,113.9 240.4,113.6 240.8,108.1 241.3,114.4 241.8,117.2 242.2,106.1 242.7,106.1 243.1,110.1 243.6,111.2 244.1,107.6 244.5,108.8 245,110.6 245.4,113.1 245.9,106.2 246.4,104.8 246.8,108.4 247.3,99.2 247.8,108.5 248.2,109.5 248.7,104.6 249.1,109.1 249.6,109.2 250.1,111.4 250.5,108.4 251,116.3 251.4,112.8 251.9,114.1 252.4,118.1 252.8,106.1 253.3,111.3 253.7,113.4 254.2,108.7 254.7,114.7 255.1,106.8 255.6,105 256,115.4 256.5,105.8 257,109.4 257.4,106 257.9,109.4 258.4,113.2 258.8,116 259.3,114.2 259.7,112 260.2,106.3 260.7,107.8 261.1,109 261.6,104.8 262,116.8 262.5,114.4 263,114.3 263.4,112.5 263.9,116.2 264.3,112.3 264.8,105.1 265.3,106.5 265.7,104.5 266.2,112.2 266.6,113.9 267.1,109.1 267.6,113.5 268,110.4 268.5,110.6 269,108.1 269.4,107 269.9,107 270.3,106.7 270.8,110.8 271.3,107.7 271.7,111.5 272.2,113.4 272.6,115.6 273.1,112.2 273.6,108.2 274,107.6 274.5,109.9 274.9,107.9 275.4,112.1 275.9,104 276.3,109.5 276.8,111.2 277.2,107.6 277.7,110.6 278.2,108.8 278.6,104.6 279.1,113 279.6,111 280,110.7 280.5,109.8 280.9,103.1 281.4,115.1 281.9,105.2 282.3,119.3 282.8,108.1 283.2,108.9 283.7,107.9 284.2,109.8 284.6,112.3 285.1,107.3 285.5,110.6 286,109.9 286.5,112.1 286.9,110.6 287.4,108 287.8,98.5 288.3,110 288.8,109.6 289.2,110.6 289.7,106.7 290.2,111.5 290.6,111 291.1,109.5 291.5,114 292,108.9 292.5,103.9 292.9,110 293.4,104.6 293.8,106.5 294.3,109.2 294.8,107.4 295.2,111.1 295.7,113 296.1,107.3 296.6,105.3 297.1,112.5 297.5,105 298,107.4 298.4,112.8 298.9,108.2 299.4,115 299.8,114.3 300.3,115.3 300.8,109 301.2,111.3 301.7,112.7 302.1,111.9 302.6,110.3 303.1,111.2 303.5,111.8 304,109.4 304.4,113.5 304.9,112 305.4,105.8 305.8,110.9 306.3,116.6 306.7,104.4 307.2,113.1 307.7,104 308.1,109.6 308.6,106.5 309,116.4 309.5,112.8 310,105.2 310.4,112.1 310.9,112.9 311.4,107.4 311.8,110.5 312.3,112.3 312.7,110.6 313.2,108.9 313.7,116.5 314.1,111 314.6,113.6 315,110.5 315.5,107.9 316,115.2 316.4,111.5 316.9,106.8 317.3,105 317.8,112 318.3,106.9 318.7,109.1 319.2,109.9 319.6,117.2 320.1,109.1 320.6,107.7 321,112.5 321.5,108.4 322,114.3 322.4,114.4 322.9,108.2 323.3,110.9 323.8,113 324.3,108.9 324.7,107.6 325.2,109.9 325.6,104.8 326.1,117.5 326.6,112.5 327,106.8 327.5,113.7 327.9,107.6 328.4,115.9 328.9,113.7 329.3,110.8 329.8,111.6 330.2,104.7 330.7,113.5 331.2,110.2 331.6,109.6 332.1,110.5 332.6,106.1 333,112.2 333.5,112 333.9,113.7 334.4,107 334.9,109.2 335.3,109.1 335.8,109.4 336.2,114.1 336.7,108.3 337.2,110.9 337.6,105 338.1,108.6 338.5,112.9 339,111.2 339.5,103.7 339.9,114.4 340.4,114.9 340.8,106 341.3,105 341.8,109.8 342.2,114.3 342.7,102.3 343.2,112.8 343.6,108.6 344.1,105 344.5,109.7 345,107.9 345.5,104.8 345.9,114.7 346.4,107.3 346.8,105.9 347.3,105.6 347.8,111.6 348.2,108.5 348.7,112.1 349.1,112.2 349.6,113.4 350.1,107.9 350.5,109.4 351,106 351.4,118.5 351.9,113.2 352.4,108.9 352.8,103.9 353.3,112.6 353.8,116.4 354.2,112.1 354.7,110.3 355.1,107.1 355.6,106.1 356.1,107.5 356.5,110.2 357,102.6 357.4,112.4 357.9,110 358.4,108.4 358.8,111.8 359.3,110.8 359.7,107.7 360.2,113.2 360.7,110.6 361.1,110.5 361.6,101.9 362,110.1 362.5,112.3 363,107.2 363.4,113.6 363.9,108.4 364.3,115.7 364.8,107.3 365.3,110.4 365.7,114.6 366.2,108.4 366.7,106.8 367.1,108.5 367.6,109.2 368,114.5 368.5,107 369,117.5 369.4,111.8 369.9,102.8 370.3,114.7 370.8,116.1 371.3,113.1 371.7,108.5 372.2,110.2 372.6,106.4 373.1,109.7 373.6,113.6 374,109 374.5,111.9 374.9,107.5 375.4,105 375.9,108.1 376.3,105.3 376.8,114.1 377.3,111.4 377.7,109.2 378.2,114 378.6,105.2 379.1,105.5 379.6,108.2 380,107.7 380.5,110.3 380.9,113.5 381.4,112 381.9,110.7 382.3,109 382.8,110.3 383.2,108.8 383.7,114.4 384.2,112.4 384.6,109.2 385.1,106.4 385.5,115.5 386,108.6 386.5,107.2 386.9,116.2 387.4,110 387.9,111.2 388.3,109.9 388.8,111.1 389.2,115.1 389.7,105 390.2,108.7 390.6,111.6 391.1,105.1 391.5,110.7 392,107.5 392.5,115.6 392.9,111.9 393.4,106 393.8,103.5 394.3,103.2 394.8,104.7 395.2,103.4 395.7,112.2 396.1,114.7 396.6,118.2 397.1,109.4 397.5,110.6 398,104.3 398.5,110.5 398.9,104 399.4,115.3 399.8,103.5 400.3,110 400.8,104.8 401.2,106.2 401.7,112.8 402.1,111.2 402.6,111.8 403.1,106.5 403.5,107.6 404,109.2 404.4,110.2 404.9,110.5 405.4,111.3 405.8,118.2 406.3,110.3 406.7,109.9 407.2,108.9 407.7,113 408.1,108.6 408.6,111.3 409.1,104 409.5,114.7 410,105.2 410.4,112.5 410.9,101.5 411.4,110.6 411.8,113.1 412.3,117 412.7,107 413.2,115.9 413.7,111.4 414.1,105 414.6,101.7 415,108.7 415.5,115.5 416,110.2 416.4,109.5 416.9,112.6 417.3,104.9 417.8,108.9 418.3,105.6 418.7,110.1 419.2,114.6 419.7,113.1 420.1,113.3 420.6,105.4 421,109.6 421.5,108.1 422,108.3 422.4,108.3 422.9,103.8 423.3,106.7 423.8,108.7 424.3,109.2 424.7,104.5 425.2,116.2 425.6,104.9 426.1,110.5 426.6,111.1 427,110.7 427.5,109.6 427.9,110.6 428.4,122.8 428.9,113.9 429.3,112.8 429.8,114.6 430.3,116.6 430.7,108 431.2,113.6 431.6,109.6 432.1,105.7 432.6,113.9 433,110.6 433.5,105.9 433.9,111.1 434.4,111.4 434.9,117.7 435.3,105.2 435.8,110.9 436.2,114.9 436.7,107 437.2,111.6 437.6,110.4 438.1,112.5 438.5,107.5 439,107.7 439.5,109.7 439.9,110.1 440.4,104.6 440.9,109.6 441.3,111.8 441.8,105.1 442.2,112.5 442.7,109.9 443.2,114.5 443.6,113.3 444.1,112.1 444.5,108.1 445,106.4 445.5,111.7 445.9,107.4 446.4,110.5 446.8,107.6 447.3,113 447.8,109.1 448.2,110.7 448.7,105.2 449.1,101.1 449.6,109.1 450.1,105 450.5,106.2 451,115.6 451.5,108.6 451.9,106.2 452.4,115.6 452.8,112.9 453.3,97.7 453.8,109.7 454.2,111.6 454.7,109.9 455.1,113.1 455.6,109.6 456.1,109.2 456.5,111 457,104.9 457.4,103.8 457.9,106.2 458.4,112.8 458.8,111.9 459.3,114.8 459.7,108.6 460.2,111.7 460.7,112 461.1,112.5 461.6,109.2 462.1,109.5 462.5,114.2 463,104.5 463.4,109.4 463.9,114.9 464.4,107 464.8,113.1 465.3,103.5 465.7,105.2 466.2,108.1 466.7,101.6 467.1,113.2 467.6,108.9 468,111 468.5,113.2 469,114.6 469.4,106 469.9,110.9 470.3,113.5 470.8,111.9 471.3,98.8 471.7,109.9 472.2,112.5 472.7,110.8 473.1,105.7 473.6,110.4 474,110.7 474.5,110.3 475,111.9 475.4,111 475.9,105.1 476.3,110.8 476.8,110.4 477.3,120.5 477.7,107.6 478.2,105.6 478.6,112.5 479.1,108.4 479.6,114 480,108.9 480.5,108.8 480.9,118.3 481.4,106.2 481.9,105.3 482.3,110.6 482.8,114 483.3,110.1 483.7,110.6 484.2,106.7 484.6,110.3 485.1,110.6 485.6,106.5 486,107.7 486.5,109.7 486.9,112.5 487.4,112.8 487.9,112.5 488.3,112.9 488.8,111.4 489.2,105.8 489.7,111.2 490.2,110.9 490.6,117.4 491.1,106.3 491.5,111.3 492,110.1 492.5,108.2 492.9,112.3 493.4,108.2 493.9,123.8 494.3,112.5 494.8,104.6 495.2,113.4 495.7,110.2 496.2,109.9 496.6,115.3 497.1,104.6 497.5,110.4 498,107.2 498.5,102.5 498.9,115.4 499.4,110.3 499.8,106.7 500.3,110.4 500.8,105.8 501.2,106.2 501.7,109.2 502.1,108.3 502.6,112.9 503.1,115.7 503.5,116.7 504,109.1 504.5,113.7 504.9,105.2 505.4,114.5 505.8,116.4 506.3,117.4 506.8,105 507.2,109.9 507.7,108.1 508.1,114.6 508.6,106.5 509.1,115.6 509.5,110.3 510,111.8 510.4,106.4 510.9,114.3 511.4,115.8 511.8,111.3 512.3,110.4 512.7,105.7 513.2,107.5 513.7,106.7 514.1,111.3 514.6,110.6 515.1,109.5 515.5,108.7 516,110.5 516.4,108.1 516.9,109 517.4,107.1 517.8,112.3 518.3,109.3 518.7,111.6 519.2,116.5 519.7,112.6 520.1,109.5 520.6,111.9 521,113.6 521.5,107.6 522,105.6 522.4,107.6 522.9,104.5 523.3,114.8 523.8,108.1 524.3,104.1 524.7,105.3 525.2,109.7 525.7,105.8 526.1,110.9 526.6,111.2 527,108.3 527.5,108.5 528,112.2 528.4,110.7 528.9,106.1 529.3,111.8 529.8,109.4 530.3,108.8 530.7,104.4 531.2,110.3 531.6,108.9 532.1,105.7 532.6,111.7 533,112.3 533.5,115 533.9,107.3 534.4,111.7 534.9,114.9 535.3,116.5 535.8,111.6 536.3,113.5 536.7,111.2 537.2,111.3 537.6,109.9 538.1,101.3 538.6,114 539,104.7 539.5,112.1 539.9,111.1 540.4,109.4 540.9,106.8 541.3,109.6 541.8,109.2 542.2,107.6 542.7,109.4 543.2,111.4 543.6,109.9 544.1,109.4 544.5,115.5 545,107.1 545.5,109.2 545.9,107.3 546.4,109 546.8,108.3 547.3,112.1 547.8,109.8 548.2,114.1 548.7,105.6 549.2,114 549.6,103.9 550.1,108.7 550.5,107.7 551,113.9 551.5,110.8 551.9,111 552.4,104.8 552.8,102.7 553.3,103.3 553.8,119.2 554.2,109.4 554.7,114 555.1,109.8 555.6,111.1 556.1,112.2 556.5,113.7 557,107.3 557.4,110 557.9,111.8 558.4,109.2 558.8,113.3 559.3,107.4 559.8,110.8 560.2,105.9 560.7,116.5 561.1,108.4 561.6,111.1 562.1,114.4 562.5,113 563,109.4 563.4,107.5 563.9,105.3 564.4,110.2 564.8,111.3 565.3,111.4 565.7,102.9 566.2,107.1 566.7,104.1 567.1,111 567.6,108.2 568,110 568.5,105.9 569,108.7 569.4,104 569.9,108.9 570.4,110.9 570.8,113 571.3,111.7 571.7,107 572.2,111.4 572.7,109.4 573.1,106.9 573.6,105.3 574,113.5 574.5,110.7 575,114.1 575.4,109.2 575.9,110 576.3,109.1 576.8,114.2 577.3,111.4 577.7,115.8 578.2,107.7 578.6,111.7 579.1,112.2 579.6,108.9 580,107.6 580.5,111.8 581,116.2 581.4,109 581.9,111 582.3,113.3 582.8,112.5 583.3,107.5 583.7,109.4 584.2,114 584.6,111.8 585.1,107.8 585.6,110.1 586,112.9 586.5,114.2 586.9,109.6 587.4,104.4 587.9,110.8 588.3,113.1 588.8,113.2 589.2,106.8 589.7,117.1 590.2,112 590.6,110.6 591.1,112.5 591.6,103.2 592,109.6 592.5,109.8 592.9,106.7 593.4,110.5 593.9,116.2 594.3,109.5 594.8,112 595.2,112.3 595.7,106 596.2,110.9 596.6,110.2 597.1,110.3 597.5,109.3 598,103.2 598.5,113.3 598.9,110.5 599.4,106.5 599.8,109.7 600.8,112.8 600.8,180.9 600.8,106.3 601.7,114.6 602.2,104.4 602.6,104.3 603.1,109.9 603.5,117.3 604,108.6 604.5,111.3 604.9,109 605.4,117.4 605.8,115.9 606.3,113.4 606.8,112.7 607.2,108.5 607.7,103.2 608.1,107.5 608.6,110.2 609.1,110.2 609.5,108.7 610,113 610.4,113.3 610.9,112.4 611.4,115.1 611.8,112.1 612.3,110.8 612.8,113.9 613.2,113.3 613.7,112.4 614.1,106.5 614.6,105.8 615.1,113.1 615.5,106.7 616,110.5 616.4,113.8 616.9,111.2 617.4,112.8 617.8,112.9 618.3,115.1 618.7,110 619.2,115.8 619.7,112.7 620.1,108.7 620.6,104.5 621,116.9 621.5,110.2 622,108.1 622.4,111.2 622.9,104 623.4,118.3 623.8,109.5 624.3,113.4 624.7,110.2 625.2,106.3 625.7,110.6 626.1,112.2 626.6,110.4 627,112.3 627.5,110.4"/><polyline fill="none" stroke="#ef843c" stroke-width="1.4" stroke-linejoin="round" points="90.6,109.6 91.1,111.5 91.5,112.2 92,112.3 92.4,107.1 92.9,109.1 93.4,108.9 93.8,109.8 94.3,108 94.7,111.3 95.2,109.1 95.7,104.2 96.1,112.1 96.6,111.9 97.1,112.2 97.5,109.5 98,111.9 98.4,116.5 98.9,109.5 99.4,107.1 99.8,111.5 100.3,107.7 100.7,112.9 101.2,116.6 101.7,106.6 102.1,116.6 102.6,109.4 103,107 103.5,104.1 104,108.4 104.4,109.1 104.9,108.8 105.3,112.2 105.8,107 106.3,111.9 106.7,111.5 107.2,109.5 107.7,110.7 108.1,118.4 108.6,108.8 109,110.8 109.5,112.4 110,106.9 110.4,112.1 110.9,108.7 111.3,113.7 111.8,109.3 112.3,110 112.7,109.1 113.2,108 113.6,109.7 114.1,109.1 114.6,115.9 115,112.6 115.5,107.7 115.9,110.4 116.4,109.7 116.9,105.4 117.3,100.9 117.8,107.8 118.3,112.3 118.7,108.9 119.2,113.7 119.6,109 120.1,105.4 120.6,114.7 121,111.9 121.5,109.4 121.9,110.3 122.4,109.3 122.9,108 123.3,112.9 123.8,111.8 124.2,107.8 124.7,111.5 125.2,111.1 125.6,112.6 126.1,109.4 126.5,110.9 127,114.7 127.5,112 127.9,109.8 128.4,110.7 128.9,114 129.3,111.8 129.8,109.1 130.2,103.5 130.7,115.6 131.2,110.4 131.6,106.1 132.1,110.9 132.5,109.9 133,113.2 133.5,106.6 133.9,106 134.4,109.2 134.8,104.7 135.3,116.1 135.8,108.5 136.2,112 136.7,111.1 137.1,106.3 137.6,113.4 138.1,116.3 138.5,109 139,117.3 139.5,110.7 139.9,109.9 140.4,112.4 140.8,114 141.3,111.5 141.8,112.9 142.2,107.8 142.7,110.1 143.1,107.3 143.6,109.4 144.1,108.6 144.5,111.9 145,110 145.4,108.8 145.9,111.7 146.4,111.4 146.8,106.9 147.3,113.6 147.7,111.9 148.2,109.5 148.7,110.2 149.1,109.4 149.6,104.4 150.1,109.5 150.5,113.7 151,114.9 151.4,111.7 151.9,110.1 152.4,110.9 152.8,113.9 153.3,107.7 153.7,109.2 154.2,112.6 154.7,107.4 155.1,108.4 155.6,114.4 156,110.2 156.5,111.5 157,109.4 157.4,110.4 157.9,107.2 158.3,110.1 158.8,110.2 159.3,111 159.7,113.3 160.2,114.8 160.7,115 161.1,107.3 161.6,108.4 162,116.3 162.5,112.7 163,105.7 163.4,112.7 163.9,110.7 164.3,108.2 164.8,107.6 165.3,112.1 165.7,107.7 166.2,111.5 166.6,106.1 167.1,107.1 167.6,113.6 168,104.6 168.5,106.1 168.9,113.8 169.4,111.8 169.9,108.6 170.3,104.7 170.8,115.5 171.3,110.4 171.7,113.3 172.2,115.7 172.6,111.4 173.1,110.6 173.6,116.8 174,108.5 174.5,107.4 174.9,111.1 175.4,106.8 175.9,115.2 176.3,113.5 176.8,108.2 177.2,114.1 177.7,114.5 178.2,112.6 178.6,108.8 179.1,108.1 179.5,106.6 180,109.2 180.5,116.8 180.9,107 181.4,105.3 181.8,112.1 182.3,111.5 182.8,110 183.2,107.9 183.7,109.3 184.2,114.9 184.6,110.1 185.1,109.3 185.5,106.1 186,110.4 186.5,118.3 186.9,118.4 187.4,109.8 187.8,114.3 188.3,109.4 188.8,111 189.2,107.7 189.7,110.7 190.1,109.4 190.6,111 191.1,111.1 191.5,115.3 192,106.1 192.4,110 192.9,110.7 193.4,106.7 193.8,116.9 194.3,110.4 194.8,112.2 195.2,105.2 195.7,111 196.1,107.7 196.6,114.4 197.1,108.6 197.5,108.9 198,100.9 198.4,105.1 198.9,112.2 199.4,105.5 199.8,110.3 200.3,106.1 200.7,109.9 201.2,110 201.7,109.7 202.1,109.1 202.6,108.9 203,108.7 203.5,104 204,107.6 204.4,110.7 204.9,110.1 205.4,106.5 205.8,106.2 206.3,116.3 206.7,107.4 207.2,107.9 207.7,110.1 208.1,111.7 208.6,102 209,108.1 209.5,104.1 210,115.1 210.4,112.7 210.9,108.3 211.3,108 211.8,109.9 212.3,111.5 212.7,111.7 213.2,110.8 213.6,111.5 214.1,116.3 214.6,117 215,111.2 215.5,110.2 216,107.7 216.4,106.8 216.9,105.9 217.3,113 217.8,109.7 218.3,109.1 218.7,110.8 219.2,108.3 219.6,106.1 220.1,111.3 220.6,114.5 221,113.9 221.5,114.5 221.9,104.7 222.4,114.8 222.9,111.4 223.3,108.3 223.8,113.3 224.2,108.6 224.7,107 225.2,111.5 225.6,110.6 226.1,105.4 226.6,109.8 227,108.8 227.5,108.9 227.9,111.7 228.4,108.2 228.9,108 229.3,110 229.8,114.1 230.2,111.4 230.7,109.5 231.2,105.1 231.6,112 232.1,113.8 232.5,112.1 233,106 233.5,112.6 233.9,100.9 234.4,108.6 234.8,107.7 235.3,114.3 235.8,112.5 236.2,110.2 236.7,112.5 237.2,108.5 237.6,114.7 238.1,112.4 238.5,116.3 239,106.7 239.5,107.6 239.9,113 240.4,106.4 240.8,112.2 241.3,111.9 241.8,106.7 242.2,106.2 242.7,102.5 243.1,107.9 243.6,118.5 244.1,107.4 244.5,108.7 245,108.3 245.4,108.2 245.9,108.9 246.4,112.8 246.8,111 247.3,107.9 247.8,107.6 248.2,115.9 248.7,118 249.1,111.2 249.6,111.9 250.1,113.2 250.5,106.3 251,109.7 251.4,108 251.9,111.8 252.4,112.9 252.8,118 253.3,114.5 253.7,110.1 254.2,108.8 254.7,106.7 255.1,112.9 255.6,114.1 256,107.3 256.5,106.6 257,116 257.4,116.3 257.9,115.4 258.4,113.2 258.8,108.5 259.3,111.1 259.7,109.6 260.2,113 260.7,106.1 261.1,112.7 261.6,108.1 262,111.9 262.5,111.6 263,108.8 263.4,111.1 263.9,104.7 264.3,114.6 264.8,111.7 265.3,115.3 265.7,106.2 266.2,105.2 266.6,110.7 267.1,113.7 267.6,107 268,107.7 268.5,118.7 269,110.9 269.4,110 269.9,111.8 270.3,109 270.8,108.2 271.3,106.6 271.7,105.8 272.2,112.3 272.6,115 273.1,108.2 273.6,114.9 274,106.3 274.5,109 274.9,107.4 275.4,107.6 275.9,106.8 276.3,108.5 276.8,107 277.2,112.7 277.7,114.2 278.2,110.2 278.6,108.7 279.1,116.6 279.6,112.3 280,110.6 280.5,109.7 280.9,108.7 281.4,112.7 281.9,107.1 282.3,109.8 282.8,110.3 283.2,117.8 283.7,110.9 284.2,111.5 284.6,106.3 285.1,110.1 285.5,112.7 286,109.2 286.5,110.4 286.9,107.7 287.4,111.2 287.8,106.9 288.3,114.4 288.8,108.6 289.2,108.5 289.7,110.9 290.2,105.3 290.6,107.1 291.1,107.4 291.5,112 292,110.8 292.5,104.7 292.9,111.5 293.4,112.4 293.8,109.5 294.3,109.6 294.8,106.6 295.2,103 295.7,103.3 296.1,112.5 296.6,107.7 297.1,109.8 297.5,106.5 298,113.3 298.4,111.3 298.9,112 299.4,111.8 299.8,111.5 300.3,112.6 300.8,106.8 301.2,104.6 301.7,103.7 302.1,105.3 302.6,111.8 303.1,107.5 303.5,108.5 304,109.1 304.4,109.7 304.9,106.5 305.4,108.7 305.8,110.9 306.3,113.9 306.7,112.4 307.2,107.6 307.7,108.3 308.1,115.4 308.6,112.7 309,111.2 309.5,110.2 310,109.6 310.4,113.6 310.9,107.2 311.4,109.7 311.8,106.2 312.3,109.7 312.7,109.2 313.2,109.4 313.7,110.7 314.1,104.1 314.6,110.3 315,106 315.5,109.7 316,113.4 316.4,111.8 316.9,108.7 317.3,106.5 317.8,114.7 318.3,109 318.7,111 319.2,112.7 319.6,109.9 320.1,110.8 320.6,115.2 321,108.4 321.5,111.9 322,112 322.4,107.3 322.9,107.6 323.3,114.7 323.8,101.2 324.3,110.4 324.7,108.5 325.2,115 325.6,113.8 326.1,108.8 326.6,104.4 327,109.1 327.5,112.6 327.9,111.7 328.4,111.7 328.9,106.9 329.3,110.6 329.8,107.4 330.2,109.9 330.7,110.5 331.2,110.2 331.6,110.5 332.1,110.5 332.6,111.3 333,116.7 333.5,108.1 333.9,112.5 334.4,107.7 334.9,114.1 335.3,108.8 335.8,114.5 336.2,108.2 336.7,108 337.2,117.5 337.6,116.3 338.1,110.4 338.5,113.2 339,104.6 339.5,114.8 339.9,110.5 340.4,110.1 340.8,107.1 341.3,115.7 341.8,109.3 342.2,110.9 342.7,107.3 343.2,109.6 343.6,110.7 344.1,110.9 344.5,106.7 345,108.9 345.5,114.2 345.9,106.8 346.4,108.8 346.8,111.6 347.3,113.9 347.8,108.1 348.2,117.1 348.7,114 349.1,117.5 349.6,112.5 350.1,105.7 350.5,115.1 351,109.1 351.4,109.6 351.9,112.5 352.4,113.8 352.8,108.4 353.3,117.8 353.8,108.7 354.2,111.1 354.7,106.5 355.1,118.2 355.6,106.6 356.1,111.1 356.5,112 357,114.3 357.4,106.4 357.9,113.3 358.4,109 358.8,110.1 359.3,112.8 359.7,107.4 360.2,106.3 360.7,109 361.1,111.4 361.6,104.9 362,114.2 362.5,112.5 363,110.4 363.4,105.5 363.9,110.3 364.3,112.2 364.8,111 365.3,109.5 365.7,112.7 366.2,108.2 366.7,112.5 367.1,111.2 367.6,111.4 368,111.4 368.5,108.1 369,107.8 369.4,110.9 369.9,109.7 370.3,110.6 370.8,109.5 371.3,111.7 371.7,108 372.2,112.1 372.6,108.1 373.1,111.3 373.6,108.2 374,110.5 374.5,111.7 374.9,110.9 375.4,111.1 375.9,107.7 376.3,111.5 376.8,108.4 377.3,109.1 377.7,104.7 378.2,112.7 378.6,108.2 379.1,109.3 379.6,108.5 380,113.5 380.5,114.2 380.9,111.7 381.4,107.8 381.9,110.9 382.3,112.6 382.8,108.9 383.2,117.5 383.7,105.6 384.2,110.9 384.6,109.1 385.1,110.2 385.5,110.8 386,110.8 386.5,108.7 386.9,103.8 387.4,103.6 387.9,113.1 388.3,113 388.8,112.9 389.2,108.5 389.7,105.1 390.2,107.5 390.6,109.1 391.1,108.6 391.5,111.6 392,108.2 392.5,110.2 392.9,106.7 393.4,113.6 393.8,118.1 394.3,108.4 394.8,108.3 395.2,107.1 395.7,110.3 396.1,113.8 396.6,104.2 397.1,111.4 397.5,111.8 398,110.8 398.5,108.9 398.9,112.6 399.4,108.6 399.8,112.5 400.3,108.8 400.8,112.9 401.2,108.6 401.7,110.7 402.1,110 402.6,114.1 403.1,109.5 403.5,112.6 404,110.4 404.4,105.6 404.9,107.5 405.4,108.9 405.8,110.3 406.3,108.8 406.7,105.9 407.2,115.9 407.7,105 408.1,110.8 408.6,107 409.1,110.5 409.5,112 410,113.8 410.4,110.7 410.9,118.6 411.4,111.2 411.8,110.5 412.3,108.8 412.7,110.3 413.2,101.8 413.7,110 414.1,108.4 414.6,108 415,109.8 415.5,108.5 416,110.6 416.4,112.1 416.9,113.1 417.3,114.1 417.8,112.1 418.3,110.7 418.7,111.1 419.2,106.6 419.7,108 420.1,110.4 420.6,107.8 421,111 421.5,109 422,114.8 422.4,113.6 422.9,113.6 423.3,110.5 423.8,107.9 424.3,111.2 424.7,107.8 425.2,104.4 425.6,111.7 426.1,109.8 426.6,107.1 427,107.8 427.5,108.9 427.9,108.5 428.4,113.7 428.9,116 429.3,107.3 429.8,108.5 430.3,109.5 430.7,109.6 431.2,111.4 431.6,111.2 432.1,105.3 432.6,114.5 433,105.9 433.5,114.5 433.9,109.8 434.4,115 434.9,103.6 435.3,106.7 435.8,112.3 436.2,114.1 436.7,113.4 437.2,105.4 437.6,111.1 438.1,111.5 438.5,109.5 439,112.8 439.5,109.6 439.9,109.5 440.4,111.2 440.9,110.8 441.3,105.7 441.8,109 442.2,108.7 442.7,107.6 443.2,114.5 443.6,113.9 444.1,111.7 444.5,110.9 445,113.5 445.5,106.9 445.9,108.3 446.4,109.8 446.8,108.2 447.3,108.6 447.8,104.8 448.2,113.4 448.7,107.7 449.1,107.1 449.6,109.1 450.1,112.7 450.5,112.7 451,113.1 451.5,111 451.9,112.5 452.4,104.6 452.8,107.1 453.3,112 453.8,107.7 454.2,115.3 454.7,109.8 455.1,112.8 455.6,110.8 456.1,107.8 456.5,108.5 457,114.2 457.4,116.1 457.9,108.9 458.4,108.1 458.8,106.2 459.3,107.9 459.7,112 460.2,108.6 460.7,112.2 461.1,108.3 461.6,110.1 462.1,107.6 462.5,114.2 463,112.9 463.4,113.4 463.9,110.5 464.4,109.8 464.8,108.1 465.3,114.6 465.7,110.2 466.2,107.7 466.7,114.9 467.1,108.4 467.6,110.4 468,107.8 468.5,110.2 469,107 469.4,111.8 469.9,112.9 470.3,113.3 470.8,110.5 471.3,111 471.7,108.8 472.2,105.6 472.7,112.7 473.1,109 473.6,113.6 474,104.7 474.5,112.7 475,107.8 475.4,111.5 475.9,112.6 476.3,102.7 476.8,109.6 477.3,105.2 477.7,108.7 478.2,111.3 478.6,111.6 479.1,114.8 479.6,113.6 480,114.6 480.5,111.8 480.9,110.4 481.4,111.8 481.9,111.2 482.3,109.9 482.8,109 483.3,108.5 483.7,110.2 484.2,113 484.6,113.8 485.1,111.7 485.6,110.7 486,109.7 486.5,107.4 486.9,114.4 487.4,113.9 487.9,111.9 488.3,106.4 488.8,117.3 489.2,112.3 489.7,107.6 490.2,112.8 490.6,107.9 491.1,110.2 491.5,107.9 492,117.5 492.5,107.1 492.9,109.7 493.4,114.5 493.9,111.9 494.3,110.8 494.8,107.1 495.2,107.5 495.7,110.3 496.2,112.5 496.6,114.4 497.1,112 497.5,114.6 498,111.6 498.5,113.6 498.9,108.5 499.4,100.9 499.8,106.8 500.3,112.5 500.8,115.8 501.2,109.6 501.7,109 502.1,107.3 502.6,105.1 503.1,113.3 503.5,104.9 504,109.8 504.5,111 504.9,108.8 505.4,107.9 505.8,109.9 506.3,112 506.8,109.5 507.2,118.5 507.7,102 508.1,113.3 508.6,111.7 509.1,111.5 509.5,105.7 510,109.9 510.4,110.6 510.9,109.8 511.4,109.5 511.8,113.6 512.3,108 512.7,112.3 513.2,107.4 513.7,109.9 514.1,115.2 514.6,110.5 515.1,111.8 515.5,106.8 516,109.6 516.4,111.6 516.9,104.8 517.4,105.3 517.8,113.7 518.3,110.8 518.7,110.1 519.2,110.9 519.7,108.7 520.1,112.1 520.6,107.2 521,110.2 521.5,112.5 522,111.1 522.4,106.6 522.9,112.2 523.3,110.9 523.8,114.4 524.3,107.2 524.7,117.2 525.2,105.6 525.7,111.4 526.1,105.6 526.6,109.8 527,116 527.5,108 528,112.2 528.4,108.4 528.9,114.7 529.3,113.4 529.8,111.1 530.3,111.1 530.7,112.8 531.2,109.7 531.6,105 532.1,106.9 532.6,111.7 533,109.4 533.5,109.9 533.9,107.1 534.4,114.7 534.9,114.4 535.3,111 535.8,109.4 536.3,111.4 536.7,111.1 537.2,111.8 537.6,104.6 538.1,114.7 538.6,108.6 539,108.5 539.5,111.3 539.9,109.1 540.4,111.2 540.9,111 541.3,110 541.8,116.1 542.2,105.6 542.7,109.8 543.2,112.1 543.6,110.4 544.1,111.2 544.5,107.4 545,106 545.5,113.6 545.9,108 546.4,111.7 546.8,111.2 547.3,108.9 547.8,110.8 548.2,110.4 548.7,111.5 549.2,110.8 549.6,107.6 550.1,111.6 550.5,109.8 551,113.2 551.5,106.7 551.9,112.9 552.4,112.5 552.8,115.5 553.3,113.1 553.8,112.4 554.2,112.9 554.7,111.3 555.1,108.2 555.6,114.6 556.1,109 556.5,109.5 557,112.7 557.4,111 557.9,107.2 558.4,106.9 558.8,113.4 559.3,118.1 559.8,106.3 560.2,104.2 560.7,110.3 561.1,112.5 561.6,109.7 562.1,113.9 562.5,107.5 563,113.1 563.4,108.2 563.9,107.3 564.4,111.1 564.8,110.7 565.3,111.1 565.7,108.1 566.2,112.5 566.7,113.6 567.1,107.8 567.6,112.9 568,114.8 568.5,103.8 569,111.3 569.4,113 569.9,111 570.4,114.8 570.8,112.5 571.3,116 571.7,111.8 572.2,110.4 572.7,101.8 573.1,111.6 573.6,110.3 574,109.4 574.5,112.1 575,111.8 575.4,111.8 575.9,108.6 576.3,106.9 576.8,110.3 577.3,111.6 577.7,115.9 578.2,115.5 578.6,113.3 579.1,116.7 579.6,113 580,110.1 580.5,111.1 581,112.6 581.4,107 581.9,108.5 582.3,108.6 582.8,109.8 583.3,113 583.7,110.7 584.2,113.9 584.6,110 585.1,117.9 585.6,106.4 586,110.6 586.5,109.6 586.9,113.7 587.4,112.8 587.9,110 588.3,104.2 588.8,110.8 589.2,109.5 589.7,115.4 590.2,115.1 590.6,108.8 591.1,118.6 591.6,111.4 592,113.3 592.5,108.4 592.9,112.8 593.4,112.7 593.9,112.1 594.3,106.5 594.8,105.3 595.2,108.5 595.7,110.2 596.2,109.4 596.6,110.9 597.1,110 597.5,112.9 598,108.9 598.5,113.3 598.9,108 599.4,115.9 599.8,110.2 600.8,110.9 600.8,182.8 600.8,107.3 601.7,110.9 602.2,111 602.6,109.6 603.1,115.6 603.5,109.8 604,109.9 604.5,111.3 604.9,115.1 605.4,108.4 605.8,111 606.3,103.3 606.8,106 607.2,112.5 607.7,114.8 608.1,111.2 608.6,113.5 609.1,115 609.5,111.6 610,109.5 610.4,111 610.9,111.3 611.4,109 611.8,109.5 612.3,110.3 612.8,107.9 613.2,114.6 613.7,106.5 614.1,107.3 614.6,112.8 615.1,108.6 615.5,112.3 616,111.5 616.4,113.3 616.9,111.3 617.4,108.5 617.8,107.8 618.3,117 618.7,108.9 619.2,108.8 619.7,106.7 620.1,113.1 620.6,112.4 621,105.9 621.5,112.2 622,113.6 622.4,111.4 622.9,112.3 623.4,113.7 623.8,113 624.3,110.2 624.7,107.9 625.2,110.6 625.7,114.8 626.1,107.5 626.6,112.5 627,112.9 627.5,113.7"/><polyline fill="none" stroke="#6ed0e0" stroke-width="1.4" stroke-linejoin="round" points="90.6,169.2 91.1,172.8 91.5,170 92,175.3 92.4,169.7 92.9,172.5 93.4,171.8 93.8,172.9 94.3,176.9 94.7,171.3 95.2,171 95.7,170.4 96.1,171.3 96.6,176.2 97.1,169.6 97.5,170.4 98,172 98.4,174 98.9,174.2 99.4,172.2 99.8,171.9 100.3,170.5 100.7,171.3 101.2,176.6 101.7,173.6 102.1,172.3 102.6,171.6 103,174.2 103.5,175.2 104,172 104.4,173.6 104.9,170 105.3,174.9 105.8,172.7 106.3,174.7 106.7,176.2 107.2,170.7 107.7,168.8 108.1,176.3 108.6,177.1 109,177.4 109.5,173.3 110,173.5 110.4,172.2 110.9,177.6 111.3,169.6 111.8,169.6 112.3,175.3 112.7,168.6 113.2,168.7 113.6,166.6 114.1,172.7 114.6,177.4 115,172.7 115.5,172.5 115.9,169.4 116.4,174.6 116.9,173 117.3,168 117.8,173.2 118.3,169.1 118.7,169.8 119.2,170.5 119.6,174.3 120.1,172.6 120.6,170.5 121,173.2 121.5,172.3 121.9,170.2 122.4,172.4 122.9,172.5 123.3,174.4 123.8,173.9 124.2,174.7 124.7,169.5 125.2,176.7 125.6,170.4 126.1,172.1 126.5,168 127,167.3 127.5,171.5 127.9,169.3 128.4,171.8 128.9,171.9 129.3,170.2 129.8,172.4 130.2,173.6 130.7,173.1 131.2,171.8 131.6,167.3 132.1,172.6 132.5,173.3 133,166.9 133.5,170.6 133.9,175.1 134.4,171.1 134.8,172.4 135.3,169.8 135.8,173 136.2,171.9 136.7,171.6 137.1,172 137.6,170.3 138.1,170.6 138.5,173.8 139,175.1 139.5,171.3 139.9,170.4 140.4,174.5 140.8,170.8 141.3,172.6 141.8,171.8 142.2,174.9 142.7,171.8 143.1,173.1 143.6,172.1 144.1,170.4 144.5,169.8 145,174 145.4,173.2 145.9,169.4 146.4,174.3 146.8,172.1 147.3,171.6 147.7,174.5 148.2,175 148.7,172.9 149.1,172.6 149.6,174.6 150.1,174 150.5,167.2 151,173.4 151.4,171.5 151.9,171.9 152.4,170.5 152.8,172.5 153.3,171.5 153.7,170.3 154.2,171.6 154.7,171.3 155.1,167 155.6,171.8 156,174.1 156.5,171.1 157,170.6 157.4,169.3 157.9,172.7 158.3,170.7 158.8,171.4 159.3,172.9 159.7,175.3 160.2,172.5 160.7,169.5 161.1,170.1 161.6,170 162,175.6 162.5,170.6 163,170.2 163.4,170 163.9,174 164.3,168.6 164.8,171.3 165.3,172.4 165.7,170 166.2,167.9 166.6,173.9 167.1,175.3 167.6,173.3 168,173 168.5,174.1 168.9,172.4 169.4,175.2 169.9,168.9 170.3,171.3 170.8,169.6 171.3,173.2 171.7,166.4 172.2,171.1 172.6,169.9 173.1,171.4 173.6,172 174,173.5 174.5,168.6 174.9,173.3 175.4,174.5 175.9,168.7 176.3,177.1 176.8,172.2 177.2,176.4 177.7,172.3 178.2,173 178.6,172 179.1,174.8 179.5,172.2 180,170.2 180.5,176.3 180.9,170.9 181.4,169.9 181.8,170.2 182.3,167.2 182.8,171.5 183.2,173.3 183.7,171.8 184.2,169.4 184.6,175.5 185.1,173.4 185.5,173.5 186,166.7 186.5,170.2 186.9,170.6 187.4,171.7 187.8,174.6 188.3,171.2 188.8,172.8 189.2,171.3 189.7,167.4 190.1,170.5 190.6,168.8 191.1,173.2 191.5,174.6 192,176.6 192.4,171.9 192.9,171.9 193.4,173.8 193.8,169.1 194.3,175.4 194.8,173 195.2,172.8 195.7,172.4 196.1,169 196.6,177.5 197.1,173.6 197.5,169.9 198,174.6 198.4,175.4 198.9,172.1 199.4,173.5 199.8,178.7 200.3,169.4 200.7,172.2 201.2,175.3 201.7,172.5 202.1,176.5 202.6,169.3 203,174.9 203.5,171.9 204,174.7 204.4,171.9 204.9,175.4 205.4,176 205.8,169.1 206.3,169.8 206.7,169.9 207.2,180.1 207.7,172.7 208.1,174.5 208.6,176.6 209,171.5 209.5,173.4 210,171.6 210.4,174 210.9,170.3 211.3,173.5 211.8,172.9 212.3,172.6 212.7,176.7 213.2,171.3 213.6,175.2 214.1,170.4 214.6,169.8 215,176.7 215.5,169.2 216,170.6 216.4,175.3 216.9,172.5 217.3,174.2 217.8,169.4 218.3,176.8 218.7,174.9 219.2,174.1 219.6,173.6 220.1,173.6 220.6,170.9 221,176.7 221.5,170.7 221.9,171.1 222.4,170.9 222.9,172.1 223.3,172.4 223.8,170.5 224.2,172.6 224.7,172 225.2,174 225.6,174.2 226.1,171.5 226.6,173.6 227,174.8 227.5,172.4 227.9,172.4 228.4,171.5 228.9,171.1 229.3,172.8 229.8,173.3 230.2,171.9 230.7,171.9 231.2,167.8 231.6,169.8 232.1,170.9 232.5,176.4 233,171.2 233.5,174.5 233.9,174.3 234.4,172.2 234.8,168.4 235.3,173.2 235.8,168.8 236.2,169.3 236.7,172.2 237.2,171.4 237.6,176.6 238.1,171.2 238.5,171 239,168.9 239.5,175.9 239.9,172.9 240.4,169.5 240.8,172.8 241.3,171.6 241.8,171.7 242.2,171.4 242.7,170.1 243.1,172.2 243.6,174.2 244.1,172.1 244.5,174.1 245,174.4 245.4,173 245.9,174.6 246.4,173.7 246.8,171.2 247.3,174.8 247.8,166.6 248.2,169.3 248.7,170 249.1,169.2 249.6,173.7 250.1,173 250.5,174.1 251,173.8 251.4,171.5 251.9,173.8 252.4,168.3 252.8,169.5 253.3,174 253.7,170.5 254.2,172.4 254.7,170.4 255.1,174.1 255.6,170.3 256,172.1 256.5,172.8 257,172.1 257.4,172.8 257.9,172.9 258.4,170.4 258.8,170.1 259.3,171.1 259.7,174.4 260.2,168.7 260.7,171.8 261.1,170.8 261.6,176.2 262,173.8 262.5,174.4 263,174.2 263.4,174.6 263.9,172.9 264.3,171.5 264.8,173.9 265.3,172.8 265.7,168.3 266.2,175.8 266.6,171.3 267.1,171 267.6,173.9 268,171.4 268.5,171.1 269,172.5 269.4,172.1 269.9,172 270.3,172.5 270.8,171.6 271.3,173.5 271.7,172.7 272.2,174.3 272.6,173.3 273.1,175.2 273.6,172 274,172.7 274.5,169.4 274.9,174.8 275.4,169.5 275.9,167.5 276.3,170.2 276.8,175.9 277.2,173.1 277.7,170.3 278.2,167.7 278.6,175.4 279.1,170.2 279.6,171.7 280,175.5 280.5,175.1 280.9,173.2 281.4,175.4 281.9,174 282.3,171.8 282.8,175.2 283.2,173.9 283.7,168.1 284.2,172.6 284.6,170.5 285.1,172.9 285.5,172.7 286,169.4 286.5,167.9 286.9,172.9 287.4,173.8 287.8,171.2 288.3,171.6 288.8,175.2 289.2,169.3 289.7,175 290.2,169.1 290.6,173.1 291.1,172.6 291.5,168.8 292,172.8 292.5,170.2 292.9,170.5 293.4,171.1 293.8,171.8 294.3,175.6 294.8,172.7 295.2,171.6 295.7,171.6 296.1,176.1 296.6,174.7 297.1,170.7 297.5,171.8 298,168.8 298.4,173.5 298.9,174.5 299.4,171.5 299.8,173.9 300.3,172.4 300.8,172.8 301.2,173.1 301.7,176.9 302.1,167.5 302.6,169 303.1,172.1 303.5,172 304,171.8 304.4,171.7 304.9,172.9 305.4,174 305.8,169.6 306.3,171.4 306.7,172.3 307.2,171.2 307.7,174.8 308.1,174.5 308.6,166 309,175.4 309.5,170.5 310,166.6 310.4,171.5 310.9,169.9 311.4,173.9 311.8,172.5 312.3,173.8 312.7,169.9 313.2,172.3 313.7,169.6 314.1,171.5 314.6,172.4 315,173.8 315.5,173.6 316,173 316.4,173.2 316.9,173.5 317.3,172.3 317.8,175.3 318.3,170.2 318.7,170.9 319.2,172 319.6,173.3 320.1,175.2 320.6,171.2 321,168.4 321.5,175.9 322,172.8 322.4,168.7 322.9,172.5 323.3,174.4 323.8,172.8 324.3,171.3 324.7,171.7 325.2,175.2 325.6,173.8 326.1,174 326.6,172.7 327,173.7 327.5,172.3 327.9,171.3 328.4,171.2 328.9,171.9 329.3,174.9 329.8,171.1 330.2,174.4 330.7,174.6 331.2,170.1 331.6,175.3 332.1,176.9 332.6,172.8 333,173.3 333.5,175.7 333.9,172.4 334.4,170.3 334.9,171.2 335.3,174 335.8,170.2 336.2,168.2 336.7,174.2 337.2,173.9 337.6,174.2 338.1,174.3 338.5,175 339,172.1 339.5,168.5 339.9,172.4 340.4,173.1 340.8,173 341.3,174.5 341.8,173.1 342.2,170.8 342.7,172.8 343.2,172.9 343.6,175.1 344.1,174.1 344.5,170.8 345,171.7 345.5,171.8 345.9,171 346.4,170.4 346.8,172.6 347.3,171.2 347.8,173.3 348.2,171.5 348.7,169.8 349.1,170.2 349.6,175.2 350.1,172.3 350.5,174.4 351,169.9 351.4,169.6 351.9,171.6 352.4,173.5 352.8,172.6 353.3,169.4 353.8,170 354.2,173.4 354.7,176.5 355.1,172.6 355.6,173.7 356.1,169.2 356.5,172.8 357,172 357.4,170.8 357.9,172.2 358.4,172.8 358.8,175.5 359.3,174.6 359.7,172.3 360.2,172.3 360.7,171.8 361.1,172.8 361.6,176.6 362,173.8 362.5,172.9 363,171.7 363.4,171.7 363.9,169.9 364.3,170 364.8,172.2 365.3,175.5 365.7,169.8 366.2,171.9 366.7,172.2 367.1,175.9 367.6,172.3 368,169.8 368.5,171.9 369,172.5 369.4,174.2 369.9,172 370.3,169.5 370.8,173.9 371.3,171.2 371.7,170.9 372.2,176.6 372.6,176.2 373.1,173 373.6,171.3 374,176.5 374.5,173.6 374.9,173.9 375.4,170.5 375.9,169.1 376.3,172.1 376.8,173 377.3,171.9 377.7,173.2 378.2,170.5 378.6,171.2 379.1,172.6 379.6,169.3 380,170.3 380.5,173.7 380.9,173 381.4,169.3 381.9,170.2 382.3,168.2 382.8,169.9 383.2,171.7 383.7,172.9 384.2,173 384.6,175 385.1,174.1 385.5,178.2 386,173.3 386.5,175.6 386.9,171.8 387.4,168.3 387.9,172.2 388.3,173.8 388.8,174.2 389.2,173.5 389.7,169.7 390.2,172.3 390.6,170 391.1,170.7 391.5,176.1 392,175.9 392.5,173.3 392.9,177.1 393.4,169.2 393.8,171.5 394.3,169.8 394.8,169.9 395.2,169.2 395.7,174.3 396.1,177.6 396.6,175.9 397.1,175.5 397.5,174.6 398,171.5 398.5,172.8 398.9,173.5 399.4,168.7 399.8,170.8 400.3,172.7 400.8,171.4 401.2,171.7 401.7,173.4 402.1,173 402.6,169.8 403.1,172.4 403.5,171.7 404,173.6 404.4,171.3 404.9,173.8 405.4,174.9 405.8,171.1 406.3,173.1 406.7,173.6 407.2,174.3 407.7,174 408.1,172.2 408.6,168.4 409.1,173.3 409.5,173.4 410,173.9 410.4,170 410.9,169.5 411.4,174 411.8,175.6 412.3,172.8 412.7,171 413.2,171.9 413.7,172.3 414.1,170.9 414.6,172 415,173.3 415.5,177.7 416,174.1 416.4,176 416.9,167.3 417.3,177.6 417.8,173.2 418.3,170.1 418.7,172.1 419.2,172.7 419.7,175.4 420.1,172 420.6,176.5 421,172.7 421.5,170.7 422,172.2 422.4,174.6 422.9,173.7 423.3,170.1 423.8,165.3 424.3,171.1 424.7,172.8 425.2,170.7 425.6,171.4 426.1,172.8 426.6,174.3 427,173.3 427.5,177.4 427.9,171.7 428.4,175.2 428.9,172.2 429.3,172.7 429.8,170.9 430.3,171.5 430.7,170.6 431.2,173.5 431.6,168.1 432.1,174.8 432.6,171.9 433,170 433.5,167.6 433.9,174.2 434.4,174.2 434.9,173.2 435.3,171.2 435.8,169.2 436.2,170.1 436.7,174.4 437.2,169.7 437.6,177.2 438.1,174 438.5,173 439,167.1 439.5,172.4 439.9,173.7 440.4,173.6 440.9,173.6 441.3,174.5 441.8,171.9 442.2,172.5 442.7,170 443.2,170.6 443.6,169.6 444.1,169.2 444.5,169.9 445,175.4 445.5,172 445.9,174.7 446.4,170.4 446.8,173.9 447.3,174 447.8,177.5 448.2,174.8 448.7,170.1 449.1,171.5 449.6,171 450.1,171.1 450.5,174.4 451,171.3 451.5,170.9 451.9,172.3 452.4,174.2 452.8,172.5 453.3,170.4 453.8,173.1 454.2,172.9 454.7,172.6 455.1,170.7 455.6,172.7 456.1,173.3 456.5,174.6 457,173.2 457.4,169.4 457.9,175.1 458.4,172.6 458.8,174.4 459.3,171.1 459.7,171.9 460.2,170.8 460.7,172.1 461.1,171.4 461.6,171.4 462.1,176.7 462.5,171.2 463,172 463.4,171.4 463.9,173.8 464.4,175.5 464.8,170.5 465.3,170.3 465.7,174.1 466.2,175.2 466.7,171.5 467.1,170.8 467.6,171.1 468,168.8 468.5,170.4 469,172.2 469.4,172.5 469.9,173.5 470.3,171.1 470.8,169.8 471.3,171.1 471.7,172.9 472.2,174.5 472.7,173.9 473.1,178 473.6,172.3 474,174.8 474.5,168.3 475,171.3 475.4,172.5 475.9,174 476.3,175.6 476.8,174.3 477.3,173.7 477.7,168.7 478.2,176.8 478.6,175.6 479.1,172.5 479.6,172.7 480,170.5 480.5,171.9 480.9,171.7 481.4,173.9 481.9,169.8 482.3,175.3 482.8,172 483.3,171.2 483.7,173.6 484.2,177.2 484.6,171.8 485.1,173.3 485.6,172 486,175.3 486.5,172.1 486.9,171.7 487.4,172.4 487.9,172.8 488.3,172.4 488.8,171.4 489.2,173.3 489.7,170 490.2,172.3 490.6,176.7 491.1,172.4 491.5,170.5 492,168.9 492.5,175 492.9,169.8 493.4,170.6 493.9,175.9 494.3,171.1 494.8,170.2 495.2,170.8 495.7,171.9 496.2,172.9 496.6,173.6 497.1,174.6 497.5,171.2 498,172.1 498.5,170.6 498.9,173.2 499.4,173.4 499.8,172.9 500.3,175.6 500.8,170.8 501.2,174.1 501.7,172.6 502.1,175.5 502.6,170.7 503.1,175.3 503.5,171.2 504,175.3 504.5,174.4 504.9,173.9 505.4,173 505.8,171.1 506.3,174 506.8,172.1 507.2,173.9 507.7,175.6 508.1,175 508.6,175.3 509.1,172.1 509.5,170.6 510,173.7 510.4,172.2 510.9,173.5 511.4,173.5 511.8,174.3 512.3,168.9 512.7,176.7 513.2,175.1 513.7,172.3 514.1,171.8 514.6,174.7 515.1,171.9 515.5,171.3 516,173.1 516.4,172.9 516.9,171.9 517.4,169.5 517.8,172.2 518.3,172.4 518.7,172.9 519.2,172 519.7,172 520.1,171.2 520.6,173.9 521,174.4 521.5,172 522,173.9 522.4,175.3 522.9,171.8 523.3,172 523.8,173.1 524.3,172.2 524.7,174 525.2,173.5 525.7,173.6 526.1,172 526.6,172.3 527,175.1 527.5,173.8 528,170.2 528.4,174.6 528.9,171.3 529.3,170.5 529.8,173 530.3,172.2 530.7,173.9 531.2,174.5 531.6,175.4 532.1,172.6 532.6,172.8 533,172.3 533.5,174.7 533.9,170.1 534.4,174.1 534.9,173.8 535.3,171.4 535.8,174 536.3,170.6 536.7,170.4 537.2,173.2 537.6,175.9 538.1,171.5 538.6,170.4 539,170 539.5,174.2 539.9,171.2 540.4,171.1 540.9,173.9 541.3,173 541.8,172.6 542.2,175.2 542.7,172.7 543.2,175 543.6,176.5 544.1,173.4 544.5,169.1 545,171.2 545.5,176.9 545.9,171.9 546.4,172.3 546.8,174.5 547.3,174.1 547.8,170.8 548.2,171.4 548.7,169.8 549.2,172.4 549.6,176.1 550.1,169.8 550.5,173.9 551,170.7 551.5,171.8 551.9,168.9 552.4,167.3 552.8,175 553.3,172.8 553.8,174.9 554.2,168.8 554.7,174.2 555.1,173.3 555.6,171.7 556.1,171.2 556.5,170.6 557,173.2 557.4,169.9 557.9,171.2 558.4,174 558.8,172.6 559.3,174 559.8,171.1 560.2,171.2 560.7,175.1 561.1,174.9 561.6,169.6 562.1,172.4 562.5,173.3 563,174 563.4,170.8 563.9,169.7 564.4,174.3 564.8,172.5 565.3,169.6 565.7,172.3 566.2,169.1 566.7,171.3 567.1,174.2 567.6,170.2 568,172.8 568.5,169.6 569,170.3 569.4,173.5 569.9,170 570.4,176.7 570.8,170.9 571.3,171.7 571.7,176.2 572.2,173 572.7,172.8 573.1,173.1 573.6,176.2 574,174.9 574.5,173.2 575,171.1 575.4,172.9 575.9,171.5 576.3,173.8 576.8,168.5 577.3,173.1 577.7,174 578.2,171.8 578.6,174.6 579.1,172.1 579.6,165.7 580,171.3 580.5,173.3 581,171.8 581.4,172.9 581.9,171 582.3,178.1 582.8,171.2 583.3,172.1 583.7,175 584.2,168.6 584.6,175.6 585.1,170.5 585.6,169.3 586,169.8 586.5,170.9 586.9,172.1 587.4,171.3 587.9,172.3 588.3,168.2 588.8,173.3 589.2,174 589.7,167.5 590.2,170 590.6,171.2 591.1,172.7 591.6,169.4 592,176.3 592.5,175.4 592.9,173.4 593.4,172.5 593.9,173.2 594.3,166.6 594.8,169.8 595.2,171 595.7,172.1 596.2,176.5 596.6,169.6 597.1,173.5 597.5,172.4 598,173.2 598.5,172 598.9,173.3 599.4,173.1 599.8,170.9 600.8,169 600.8,203.3 600.8,169.3 601.7,171 602.2,173.4 602.6,171.2 603.1,171.9 603.5,177.4 604,175.7 604.5,172.4 604.9,177 605.4,177.3 605.8,173.7 606.3,170 606.8,169.8 607.2,173.8 607.7,175.1 608.1,172.3 608.6,174 609.1,172.5 609.5,171.7 610,172.6 610.4,167.8 610.9,169.4 611.4,174.9 611.8,176 612.3,172 612.8,172.6 613.2,175.3 613.7,173.7 614.1,169.6 614.6,170.9 615.1,167.1 615.5,169.7 616,175.3 616.4,175.6 616.9,173.3 617.4,169.5 617.8,176.6 618.3,174.2 618.7,179.3 619.2,171.8 619.7,173.5 620.1,173.4 620.6,170.9 621,172.2 621.5,176.9 622,172.3 622.4,173 622.9,175.4 623.4,174 623.8,170.1 624.3,170.8 624.7,172.7 625.2,174.5 625.7,171.6 626.1,173.5 626.6,171 627,173.7 627.5,177.1"/><polyline fill="none" stroke="#eab839" stroke-width="1.4" stroke-linejoin="round" points="90.6,163.1 91.1,169.7 91.5,167.2 92,165.8 92.4,164.5 92.9,160.3 93.4,166.1 93.8,165.2 94.3,168.9 94.7,169.9 95.2,169.8 95.7,163.5 96.1,170.2 96.6,162.2 97.1,164 97.5,166.2 98,162.1 98.4,164.9 98.9,163.4 99.4,162 99.8,165.4 100.3,164.9 100.7,166.4 101.2,166.1 101.7,169.7 102.1,164 102.6,169.4 103,168.3 103.5,161.4 104,167.4 104.4,162.1 104.9,169.4 105.3,163.4 105.8,166.5 106.3,163.1 106.7,170.8 107.2,170.2 107.7,164.4 108.1,170.1 108.6,166.3 109,167.7 109.5,165.8 110,166.7 110.4,163.5 110.9,168 111.3,168.9 111.8,164.9 112.3,168.5 112.7,160.7 113.2,170.2 113.6,167.1 114.1,160.2 114.6,168.8 115,165.8 115.5,166.1 115.9,168.5 116.4,166.3 116.9,169.8 117.3,166.6 117.8,163.4 118.3,163 118.7,168.2 119.2,163.8 119.6,163.9 120.1,165.2 120.6,163.6 121,169 121.5,167.4 121.9,166.7 122.4,170.9 122.9,167.6 123.3,180.6 123.8,170.3 124.2,165.4 124.7,161.4 125.2,167.4 125.6,167.1 126.1,169 126.5,166.5 127,164.4 127.5,164.9 127.9,164.4 128.4,172.7 128.9,165.1 129.3,168.4 129.8,164.7 130.2,168.9 130.7,164.5 131.2,165.6 131.6,167.4 132.1,162.3 132.5,165.7 133,165.5 133.5,168.6 133.9,166.7 134.4,167.3 134.8,161.4 135.3,167.5 135.8,169.8 136.2,169.7 136.7,164.5 137.1,162 137.6,164.3 138.1,158.1 138.5,166.1 139,168.1 139.5,155 139.9,166.3 140.4,168 140.8,165 141.3,167.5 141.8,171.2 142.2,166.2 142.7,169.1 143.1,163.4 143.6,169.5 144.1,166.9 144.5,163.3 145,170 145.4,167.6 145.9,165.7 146.4,158.4 146.8,164.7 147.3,164.2 147.7,163.1 148.2,165.7 148.7,170.2 149.1,171.9 149.6,167.4 150.1,165.3 150.5,164.4 151,167.4 151.4,165.6 151.9,165.8 152.4,165.8 152.8,168.5 153.3,167.5 153.7,162.5 154.2,167.3 154.7,167.2 155.1,170.8 155.6,165.8 156,165.1 156.5,173 157,169.4 157.4,169.5 157.9,165.7 158.3,163 158.8,169.2 159.3,160.4 159.7,163.9 160.2,165.8 160.7,163.2 161.1,170.5 161.6,168.6 162,169.3 162.5,169.8 163,167.9 163.4,170 163.9,165.2 164.3,161.7 164.8,169.3 165.3,159.4 165.7,166.4 166.2,167.3 166.6,169.2 167.1,164.9 167.6,165.1 168,161.9 168.5,165.2 168.9,163.2 169.4,168.6 169.9,164 170.3,162.3 170.8,162.1 171.3,170 171.7,168.3 172.2,165.4 172.6,170.1 173.1,164.2 173.6,168.7 174,166.8 174.5,166.8 174.9,169.6 175.4,167.3 175.9,166.3 176.3,168.6 176.8,165.7 177.2,169.8 177.7,170.7 178.2,164.9 178.6,165.1 179.1,166.2 179.5,167 180,166.4 180.5,162.4 180.9,164.8 181.4,167.2 181.8,168 182.3,168.2 182.8,163.8 183.2,163.1 183.7,168.3 184.2,164.9 184.6,163.9 185.1,165.5 185.5,165.8 186,165.6 186.5,164.2 186.9,166 187.4,166.3 187.8,162.7 188.3,161.8 188.8,162.8 189.2,171.1 189.7,167.2 190.1,159.9 190.6,166.4 191.1,169.3 191.5,168.4 192,168.8 192.4,166.7 192.9,166 193.4,171.4 193.8,167.9 194.3,172.1 194.8,166.1 195.2,167.5 195.7,163.1 196.1,166.6 196.6,165.2 197.1,168.7 197.5,170.4 198,164.1 198.4,170.3 198.9,170.2 199.4,167.6 199.8,162.9 200.3,166.5 200.7,165.7 201.2,163 201.7,167.8 202.1,171.5 202.6,167.2 203,162.4 203.5,167 204,171.5 204.4,162.9 204.9,163.5 205.4,166.1 205.8,166.4 206.3,163.4 206.7,169.7 207.2,167.7 207.7,159.4 208.1,166.6 208.6,169.2 209,164.6 209.5,168.5 210,171.7 210.4,167.9 210.9,160.4 211.3,167.4 211.8,167 212.3,168.7 212.7,167.5 213.2,166 213.6,164.7 214.1,164.7 214.6,165 215,167.7 215.5,167.2 216,163 216.4,165.4 216.9,167.7 217.3,162.7 217.8,166.5 218.3,165.2 218.7,168.5 219.2,164.7 219.6,168.5 220.1,168.7 220.6,161.9 221,166 221.5,161.4 221.9,166.8 222.4,168.4 222.9,170.7 223.3,164.5 223.8,169.8 224.2,162.9 224.7,167.9 225.2,164.7 225.6,166.9 226.1,169.3 226.6,164.8 227,169.6 227.5,169.2 227.9,166.6 228.4,168.7 228.9,167.2 229.3,169.7 229.8,166.6 230.2,164.9 230.7,164.2 231.2,168.7 231.6,165.1 232.1,170.1 232.5,165.8 233,167.8 233.5,168.7 233.9,168.8 234.4,165.8 234.8,166.2 235.3,168.1 235.8,169.7 236.2,167.1 236.7,166.2 237.2,166 237.6,166.7 238.1,160 238.5,171.5 239,166.2 239.5,168.2 239.9,162.1 240.4,164.3 240.8,165.4 241.3,169.5 241.8,169.2 242.2,167.1 242.7,162.5 243.1,165.3 243.6,170.7 244.1,164.4 244.5,172.2 245,168.6 245.4,162.5 245.9,163.7 246.4,167.4 246.8,168.5 247.3,165.7 247.8,165.1 248.2,165 248.7,167.3 249.1,167.2 249.6,166.7 250.1,167 250.5,167.8 251,168.5 251.4,170 251.9,168.6 252.4,169.1 252.8,170.2 253.3,171.4 253.7,164.3 254.2,169.5 254.7,164.4 255.1,167.6 255.6,168.4 256,163.2 256.5,168.6 257,171 257.4,164 257.9,167.8 258.4,165.6 258.8,166.5 259.3,161.2 259.7,168.1 260.2,166.9 260.7,165.7 261.1,167.3 261.6,164.5 262,161.7 262.5,166.3 263,162.6 263.4,166.1 263.9,167.2 264.3,159.3 264.8,171.6 265.3,171.7 265.7,165.5 266.2,161.7 266.6,172.7 267.1,169.5 267.6,164 268,169 268.5,165.1 269,172.5 269.4,165.7 269.9,168.4 270.3,164.9 270.8,169.9 271.3,164.5 271.7,171.1 272.2,173.8 272.6,166 273.1,167.6 273.6,166.1 274,165.3 274.5,164.3 274.9,166.1 275.4,166 275.9,168.6 276.3,164.9 276.8,168.5 277.2,167.8 277.7,167.8 278.2,166.1 278.6,167.3 279.1,169 279.6,167.7 280,163.8 280.5,163.3 280.9,167.6 281.4,158.9 281.9,166.1 282.3,167.2 282.8,171.1 283.2,168 283.7,166.4 284.2,167 284.6,167.3 285.1,165.9 285.5,160.2 286,162.4 286.5,163.8 286.9,164.7 287.4,164.8 287.8,169.7 288.3,163.4 288.8,170.5 289.2,168.1 289.7,165.1 290.2,169.7 290.6,169.8 291.1,167.4 291.5,164.8 292,162.4 292.5,164.1 292.9,163.3 293.4,161.4 293.8,173.6 294.3,165.6 294.8,161.7 295.2,165 295.7,167.8 296.1,168.5 296.6,169.5 297.1,171.7 297.5,164.7 298,166.6 298.4,168.6 298.9,164.8 299.4,166.2 299.8,166.2 300.3,161.9 300.8,172.1 301.2,167 301.7,167.5 302.1,170.1 302.6,165.5 303.1,167.1 303.5,164.7 304,166 304.4,164.5 304.9,162.6 305.4,169.6 305.8,164.5 306.3,162.5 306.7,168 307.2,167.7 307.7,165.3 308.1,163.5 308.6,164 309,166.5 309.5,165.5 310,167.1 310.4,168.3 310.9,166.7 311.4,170 311.8,163.4 312.3,164.2 312.7,168.9 313.2,165.2 313.7,168.9 314.1,168 314.6,163.8 315,161.9 315.5,165.7 316,167.2 316.4,168.9 316.9,168.9 317.3,165 317.8,167.2 318.3,169.3 318.7,168.9 319.2,167.3 319.6,168.4 320.1,166.9 320.6,162.4 321,164.6 321.5,164.7 322,161.6 322.4,165.5 322.9,161.5 323.3,166.1 323.8,169.5 324.3,167.6 324.7,166.4 325.2,166.4 325.6,166.5 326.1,169.7 326.6,164 327,161.2 327.5,169.2 327.9,167.5 328.4,168.4 328.9,168.8 329.3,169.9 329.8,162.7 330.2,162.5 330.7,167.3 331.2,169.4 331.6,167.3 332.1,165.7 332.6,166 333,170.3 333.5,166.8 333.9,168.8 334.4,171.7 334.9,170.6 335.3,167.7 335.8,166.6 336.2,163.5 336.7,169.8 337.2,160.7 337.6,163.2 338.1,163.2 338.5,165 339,165.2 339.5,158.4 339.9,162.4 340.4,162.3 340.8,168.5 341.3,166.2 341.8,169.2 342.2,165.7 342.7,169.4 343.2,166.9 343.6,169.2 344.1,167.1 344.5,162.5 345,165.1 345.5,170.2 345.9,166.4 346.4,160.3 346.8,168 347.3,172 347.8,168 348.2,162.4 348.7,168 349.1,165.2 349.6,164.7 350.1,166.4 350.5,167.4 351,170.8 351.4,168 351.9,163.8 352.4,163.4 352.8,161.4 353.3,164.2 353.8,165.2 354.2,164.2 354.7,164.1 355.1,159.1 355.6,170.2 356.1,164.7 356.5,163.5 357,162.2 357.4,167.2 357.9,169.7 358.4,166.7 358.8,169 359.3,164.7 359.7,169.3 360.2,165.3 360.7,168.3 361.1,162.3 361.6,172.4 362,162.9 362.5,164.5 363,162.1 363.4,170.3 363.9,167.6 364.3,165.3 364.8,167.8 365.3,168.5 365.7,167.6 366.2,167 366.7,160.5 367.1,165.6 367.6,164.5 368,164.6 368.5,164.8 369,170.8 369.4,166.6 369.9,165.8 370.3,166.4 370.8,166.9 371.3,165.9 371.7,167.7 372.2,171.5 372.6,166.7 373.1,163.2 373.6,162.1 374,168.3 374.5,167.1 374.9,163.8 375.4,164.1 375.9,166.4 376.3,164.7 376.8,164.2 377.3,169.5 377.7,168.6 378.2,165.8 378.6,167.3 379.1,165.8 379.6,170.7 380,166.4 380.5,164 380.9,169.7 381.4,166.4 381.9,164.8 382.3,165.5 382.8,164.7 383.2,162.9 383.7,170.4 384.2,165.3 384.6,164.2 385.1,165.3 385.5,165.7 386,165.7 386.5,168.1 386.9,166.5 387.4,164.8 387.9,169.4 388.3,168.3 388.8,167.2 389.2,165.7 389.7,169.4 390.2,165.4 390.6,168 391.1,170 391.5,163.3 392,165 392.5,163.9 392.9,166.2 393.4,169.9 393.8,169.1 394.3,164.7 394.8,163.9 395.2,167.3 395.7,160.5 396.1,164.7 396.6,167.7 397.1,173 397.5,166.1 398,163.9 398.5,167.2 398.9,164.6 399.4,165.5 399.8,167.3 400.3,166.7 400.8,166.8 401.2,164.3 401.7,162.9 402.1,167.3 402.6,165.8 403.1,167.8 403.5,164.9 404,164.1 404.4,164.5 404.9,164.1 405.4,163.4 405.8,164.6 406.3,163.7 406.7,166 407.2,169.5 407.7,169.3 408.1,168.5 408.6,168.3 409.1,164.7 409.5,166.6 410,164 410.4,167.3 410.9,161.5 411.4,162.8 411.8,173.3 412.3,167.8 412.7,178 413.2,161.7 413.7,165.2 414.1,170 414.6,166.5 415,168.4 415.5,163.6 416,168.1 416.4,166.1 416.9,167.1 417.3,164.8 417.8,162.9 418.3,169.4 418.7,167.1 419.2,168.4 419.7,170.9 420.1,171.7 420.6,161 421,168.4 421.5,166.3 422,164.9 422.4,163.2 422.9,165.3 423.3,164.8 423.8,165.4 424.3,168.4 424.7,164.6 425.2,169.3 425.6,169.5 426.1,167.6 426.6,166 427,171.9 427.5,170.2 427.9,164.8 428.4,173.4 428.9,164.8 429.3,168 429.8,167 430.3,166 430.7,165.6 431.2,165.6 431.6,166.4 432.1,163.3 432.6,164 433,165.3 433.5,166 433.9,165.6 434.4,163.9 434.9,162.3 435.3,166.1 435.8,167.7 436.2,169.2 436.7,166.8 437.2,167.5 437.6,169.9 438.1,164.6 438.5,164.9 439,169.3 439.5,165.8 439.9,167.6 440.4,164.8 440.9,167.7 441.3,172.1 441.8,163.9 442.2,169.9 442.7,164.7 443.2,162.8 443.6,168.6 444.1,164.2 444.5,165.3 445,165.2 445.5,169.1 445.9,161.9 446.4,165.6 446.8,169.5 447.3,165 447.8,165 448.2,168.7 448.7,169 449.1,165.7 449.6,163.5 450.1,165.9 450.5,169.2 451,166.1 451.5,165.2 451.9,158.6 452.4,165.9 452.8,167.2 453.3,165.4 453.8,160.9 454.2,167.4 454.7,170 455.1,167.4 455.6,161.4 456.1,170.3 456.5,164.8 457,166.7 457.4,164.8 457.9,164.8 458.4,164.1 458.8,169.6 459.3,169.5 459.7,162 460.2,166.4 460.7,163.8 461.1,165.6 461.6,164.1 462.1,169.1 462.5,168.2 463,171 463.4,164.1 463.9,164.3 464.4,168.1 464.8,167.6 465.3,167 465.7,167.7 466.2,164.9 466.7,163.1 467.1,165.4 467.6,166 468,171 468.5,164.6 469,167.4 469.4,166.8 469.9,164.6 470.3,165.1 470.8,169.2 471.3,171.1 471.7,169.7 472.2,169.7 472.7,163.6 473.1,171.4 473.6,172.5 474,166.4 474.5,163.7 475,164 475.4,171.2 475.9,163.2 476.3,166.6 476.8,163 477.3,161.9 477.7,161.1 478.2,165.1 478.6,168.9 479.1,172.1 479.6,168.2 480,161.1 480.5,163.2 480.9,166.2 481.4,166.1 481.9,164.7 482.3,165 482.8,167.9 483.3,170.4 483.7,164.3 484.2,167.7 484.6,166.9 485.1,168.2 485.6,162.6 486,171.7 486.5,166.8 486.9,163.6 487.4,167.1 487.9,166.9 488.3,169.8 488.8,165.3 489.2,165.7 489.7,168.7 490.2,169.6 490.6,166.1 491.1,165.9 491.5,167.3 492,167.3 492.5,160.6 492.9,165.7 493.4,163.5 493.9,164.2 494.3,164.5 494.8,166.4 495.2,165.2 495.7,167.4 496.2,168.3 496.6,160.9 497.1,164.3 497.5,164.1 498,166 498.5,167.7 498.9,165.6 499.4,161.7 499.8,166 500.3,166.6 500.8,163.6 501.2,170.6 501.7,166.6 502.1,170.8 502.6,167 503.1,165.8 503.5,167.5 504,165.1 504.5,158.7 504.9,167.7 505.4,167 505.8,168.6 506.3,161.6 506.8,168 507.2,164.6 507.7,166.5 508.1,164.4 508.6,166.8 509.1,170 509.5,164.6 510,165.5 510.4,167.2 510.9,165.8 511.4,162.4 511.8,168.1 512.3,170 512.7,167.2 513.2,166.7 513.7,164.6 514.1,161.7 514.6,163.4 515.1,165.1 515.5,168.5 516,163.3 516.4,165.3 516.9,166.6 517.4,167.7 517.8,166.5 518.3,168.1 518.7,163.2 519.2,168.1 519.7,164.9 520.1,169.1 520.6,160.3 521,167.8 521.5,170.2 522,169.7 522.4,167.6 522.9,164.3 523.3,164.8 523.8,168.3 524.3,173.2 524.7,167.9 525.2,174.4 525.7,165.5 526.1,168.8 526.6,166.3 527,161.9 527.5,165.9 528,164.9 528.4,167.5 528.9,163 529.3,165.1 529.8,171.6 530.3,165 530.7,170.1 531.2,165.2 531.6,169 532.1,164.5 532.6,167.7 533,170.5 533.5,170.8 533.9,168.7 534.4,167.6 534.9,165.2 535.3,168 535.8,164.5 536.3,163.1 536.7,164.4 537.2,168 537.6,168.9 538.1,163.1 538.6,169.3 539,166.8 539.5,164.4 539.9,165.4 540.4,167.9 540.9,168.1 541.3,165 541.8,158.6 542.2,166.5 542.7,165.7 543.2,164.7 543.6,168.7 544.1,166.2 544.5,163.9 545,169.2 545.5,172.9 545.9,164.6 546.4,166.8 546.8,167.9 547.3,168.2 547.8,163.8 548.2,166.7 548.7,167.4 549.2,165.8 549.6,161.6 550.1,158.9 550.5,161.9 551,159.7 551.5,163.4 551.9,161.1 552.4,161.5 552.8,163.7 553.3,161.9 553.8,171.1 554.2,166.3 554.7,167 555.1,164 555.6,169.9 556.1,170.3 556.5,164.9 557,166.6 557.4,167.7 557.9,162.2 558.4,165.8 558.8,166.4 559.3,166.5 559.8,166.4 560.2,168 560.7,165.6 561.1,174 561.6,164.4 562.1,170.1 562.5,167 563,162.6 563.4,158.3 563.9,169.5 564.4,165 564.8,163.2 565.3,164.4 565.7,167.7 566.2,165.2 566.7,169.7 567.1,170 567.6,164.9 568,165.8 568.5,166.8 569,168.8 569.4,162.1 569.9,167.6 570.4,172.1 570.8,167.5 571.3,169.9 571.7,162.6 572.2,164 572.7,165.6 573.1,167 573.6,162.2 574,166 574.5,162.8 575,169.3 575.4,166 575.9,166.3 576.3,163.2 576.8,163 577.3,167.7 577.7,165.5 578.2,169.3 578.6,168.7 579.1,164.7 579.6,168.3 580,165.2 580.5,170.3 581,168.6 581.4,161.3 581.9,170 582.3,167.5 582.8,163.7 583.3,164.5 583.7,165.5 584.2,167.3 584.6,162.8 585.1,171.3 585.6,162.8 586,169.2 586.5,166 586.9,160.9 587.4,163.9 587.9,164.9 588.3,169.7 588.8,163.1 589.2,163.4 589.7,170.4 590.2,166.5 590.6,163.5 591.1,169.9 591.6,162.6 592,165.2 592.5,164.3 592.9,159.6 593.4,166.2 593.9,166.7 594.3,164.3 594.8,168.1 595.2,164.6 595.7,171 596.2,161.1 596.6,162.7 597.1,163.3 597.5,166.8 598,165.5 598.5,168.1 598.9,170.2 599.4,165.8 599.8,166.5 600.8,164.6 600.8,200.2 600.8,164.4 601.7,165.7 602.2,168.3 602.6,163.2 603.1,165.4 603.5,161.8 604,163.3 604.5,165.2 604.9,166.8 605.4,163.1 605.8,165.3 606.3,176.1 606.8,166 607.2,164.3 607.7,168.2 608.1,165.4 608.6,162.2 609.1,165.4 609.5,164 610,164.5 610.4,165.7 610.9,166.4 611.4,166.8 611.8,169.1 612.3,167.7 612.8,169.1 613.2,163.2 613.7,162 614.1,167.4 614.6,165.1 615.1,164.1 615.5,165.3 616,162.6 616.4,167.4 616.9,163.5 617.4,170.1 617.8,164.8 618.3,166.2 618.7,168.7 619.2,160.2 619.7,168 620.1,165.9 620.6,163.6 621,165.5 621.5,170.3 622,165.7 622.4,165.4 622.9,169.8 623.4,166.2 623.8,163 624.3,169.6 624.7,169.8 625.2,165.8 625.7,166 626.1,162.3 626.6,166.2 627,166.8 627.5,166.8"/><polyline fill="none" stroke="#6ed0e0" stroke-width="1.4" stroke-linejoin="round" points="600.8,169 600.8,203.3 600.8,169.3"/><polyline fill="none" stroke="#ef843c" stroke-width="1.4" stroke-linejoin="round" points="600.8,110.9 600.8,182.8 600.8,107.3"/></svg>
<div class="a" style="top:42px;will-change:transform;transform:translateY(0.50px) rotate(0.001deg);right:570.4px;text-align:right;letter-spacing:-0.1px;">1.50K ops/s</div>
<div class="a" style="top:98px;will-change:transform;transform:translateY(0.73px) rotate(0.001deg);right:570.4px;text-align:right;letter-spacing:-0.1px;">1.00K ops/s</div>
<div class="a" style="top:154px;will-change:transform;transform:translateY(0.97px) rotate(0.001deg);right:570.4px;text-align:right;letter-spacing:-0.1px;">500.00 ops/s</div>
<div class="a" style="top:211px;will-change:transform;transform:translateY(0.20px) rotate(0.001deg);right:570.4px;text-align:right;letter-spacing:-0.1px;">0 ops/s</div>
<div class="a" style="top:226px;left:108.5px;width:120px;margin-left:-60px;text-align:center;letter-spacing:-0.25px;">20:00</div>
<div class="a" style="top:226px;left:218.7px;width:120px;margin-left:-60px;text-align:center;letter-spacing:-0.25px;">00:00</div>
<div class="a" style="top:226px;left:328.8px;width:120px;margin-left:-60px;text-align:center;letter-spacing:-0.25px;">04:00</div>
<div class="a" style="top:226px;left:439px;width:120px;margin-left:-60px;text-align:center;letter-spacing:-0.25px;">08:00</div>
<div class="a" style="top:226px;left:549.1px;width:120px;margin-left:-60px;text-align:center;letter-spacing:-0.25px;">12:00</div>
<div class="lh" style="top:252.1px;right:216.9px;text-align:right;">min</div>
<div class="lh" style="top:252.1px;right:121.7px;text-align:right;">max</div>
<div class="lh" style="top:252.1px;right:30.8px;text-align:right;">avg<svg class="caret" width="8.4" height="6" viewBox="0 0 8.4 6"><path d="M0.8 1 4.2 4.4 7.6 1" fill="none" stroke="#33a2e5" stroke-width="1.5"/></svg></div>
<div class="sw" style="left:16.2px;top:284px;background:#7eb26d;color:#7eb26d"></div>
<div class="t" style="top:277px;will-change:transform;transform:translateY(0.50px) rotate(0.001deg);left:42.7px;">mysql1</div>
<div class="t" style="top:277px;will-change:transform;transform:translateY(0.50px) rotate(0.001deg);right:208.7px;text-align:right;letter-spacing:0.17px;">339.15 ops/s</div>
<div class="t" style="top:277px;will-change:transform;transform:translateY(0.50px) rotate(0.001deg);right:113px;text-align:right;letter-spacing:0.17px;">1.09K ops/s</div>
<div class="t" style="top:277px;will-change:transform;transform:translateY(0.50px) rotate(0.001deg);right:18.4px;text-align:right;letter-spacing:0.17px;">955.86 ops/s</div>
<div class="alt" style="left:14.8px;top:299px;width:625px"></div>
<div class="sw" style="left:16.2px;top:312px;background:#ef843c;color:#ef843c"></div>
<div class="t" style="top:305px;will-change:transform;transform:translateY(0.50px) rotate(0.001deg);left:42.7px;">mysql2</div>
<div class="t" style="top:305px;will-change:transform;transform:translateY(0.50px) rotate(0.001deg);right:208.7px;text-align:right;letter-spacing:0.17px;">321.77 ops/s</div>
<div class="t" style="top:305px;will-change:transform;transform:translateY(0.50px) rotate(0.001deg);right:113px;text-align:right;letter-spacing:0.17px;">1.05K ops/s</div>
<div class="t" style="top:305px;will-change:transform;transform:translateY(0.50px) rotate(0.001deg);right:18.4px;text-align:right;letter-spacing:0.17px;">955.10 ops/s</div>
<div class="sw" style="left:16.2px;top:340px;background:#eab839;color:#eab839"></div>
<div class="t" style="top:333px;will-change:transform;transform:translateY(0.50px) rotate(0.001deg);left:42.7px;">mysql3</div>
<div class="t" style="top:333px;will-change:transform;transform:translateY(0.50px) rotate(0.001deg);right:208.7px;text-align:right;letter-spacing:0.17px;">166.82 ops/s</div>
<div class="t" style="top:333px;will-change:transform;transform:translateY(0.50px) rotate(0.001deg);right:113px;text-align:right;letter-spacing:0.17px;">572.97 ops/s</div>
<div class="t" style="top:333px;will-change:transform;transform:translateY(0.50px) rotate(0.001deg);right:18.4px;text-align:right;letter-spacing:0.17px;">455.74 ops/s</div>
</div>
<div class="panel" style="left:668.3px;top:413px;width:655px;height:362px">
<div class="title">Error Rate per Node</div>
<svg class="plot" width="655" height="362" viewBox="0 0 655 362"><g fill="#3a3d41"><rect x="51" y="50" width="576.7" height="1"/><rect x="51" y="134.4" width="576.7" height="1"/><rect x="51" y="218.8" width="576.7" height="1"/><rect x="69.5" y="50.5" width="1" height="168.8"/><rect x="188.5" y="50.5" width="1" height="168.8"/><rect x="306.6" y="50.5" width="1" height="168.8"/><rect x="424.7" y="50.5" width="1" height="168.8"/><rect x="542.9" y="50.5" width="1" height="168.8"/></g><polyline fill="none" stroke="#7eb26d" stroke-width="1.4" stroke-linejoin="round" points="51,156.4 51.5,162.1 52,161.2 52.5,154.8 53,165.4 53.5,162.7 54,156 54.5,164 55,163.1 55.5,155.9 56,157.8 56.4,157.7 56.9,154.4 57.4,164.9 57.9,153 58.4,155.5 58.9,165.6 59.4,167.4 59.9,171.8 60.4,157.5 60.9,159.4 61.4,161.4 61.9,160.5 62.4,165.3 62.9,162.1 63.4,166.1 63.9,157.4 64.4,165 64.9,166.2 65.4,158.1 65.9,167.8 66.3,157.7 66.8,165.2 67.3,162 67.8,163.4 68.3,164.4 68.8,161 69.3,161.2 69.8,161.4 70.3,164.2 70.8,162.6 71.3,157.4 71.8,163.3 72.3,157.3 72.8,161.1 73.3,158.6 73.8,162.2 74.3,160 74.8,164.3 75.3,159.2 75.8,156.5 76.2,158.5 76.7,170.5 77.2,159.9 77.7,158.4 78.2,169.7 78.7,159.2 79.2,165 79.7,156.1 80.2,170.2 80.7,156.2 81.2,165.1 81.7,160.8 82.2,157.9 82.7,158.7 83.2,157.1 83.7,167.6 84.2,164.8 84.7,162.4 85.2,161.1 85.7,159.9 86.1,159.4 86.6,164.4 87.1,163.1 87.6,165.6 88.1,157.5 88.6,160.9 89.1,163.2 89.6,158.9 90.1,160.2 90.6,158 91.1,162.8 91.6,168.8 92.1,161.6 92.6,159.6 93.1,161.5 93.6,162.3 94.1,157 94.6,159.9 95.1,156.9 95.6,161.2 96,159.4 96.5,169.3 97,160.1 97.5,160.9 98,164.5 98.5,154.5 99,154.4 99.5,159.6 100,161.2 100.5,159.6 101,159.4 101.5,165.1 102,164.4 102.5,161.6 103,160.1 103.5,168.3 104,164.3 104.5,167.5 105,163.1 105.5,170.5 105.9,156.3 106.4,160.1 106.9,159.1 107.4,162.6 107.9,159.7 108.4,161.7 108.9,163.5 109.4,160 109.9,162.8 110.4,162.1 110.9,154.8 111.4,159.6 111.9,163.7 112.4,166.2 112.9,161.3 113.4,164.7 113.9,160.5 114.4,164.8 114.9,158.7 115.4,155.9 115.8,159.3 116.3,160.1 116.8,158.9 117.3,160.4 117.8,158.1 118.3,155 118.8,165.8 119.3,162.5 119.8,162.7 120.3,163.8 120.8,159.1 121.3,155.5 121.8,165 122.3,162.8 122.8,158.5 123.3,162.7 123.8,154.2 124.3,162.5 124.8,162.8 125.3,158.4 125.7,153.5 126.2,159 126.7,160.6 127.2,160.3 127.7,165.6 128.2,161 128.7,166.2 129.2,167.7 129.7,158.6 130.2,165.2 130.7,160.6 131.2,170.4 131.7,155.3 132.2,164.1 132.7,164.1 133.2,164.4 133.7,158.3 134.2,156.2 134.7,159.9 135.2,155.2 135.6,165.2 136.1,161.6 136.6,168.9 137.1,168.2 137.6,163.3 138.1,155.4 138.6,159.5 139.1,168.6 139.6,163.7 140.1,154.9 140.6,160.6 141.1,162.1 141.6,161.1 142.1,160.1 142.6,157.1 143.1,161 143.6,164.9 144.1,160.5 144.6,162.2 145.1,160.1 145.5,159.8 146,163.3 146.5,164.9 147,157.8 147.5,157.2 148,162.6 148.5,165.9 149,161 149.5,166.4 150,158.2 150.5,162.9 151,164.7 151.5,159.9 152,161.6 152.5,158.4 153,160.7 153.5,161.1 154,169.7 154.5,164.7 155,158.2 155.4,156.2 155.9,161.1 156.4,161.2 156.9,170 157.4,163.8 157.9,153 158.4,167.6 158.9,160 159.4,167.4 159.9,161.1 160.4,159.6 160.9,164.3 161.4,158.3 161.9,162.8 162.4,155.7 162.9,157.7 163.4,157 163.9,153.2 164.4,153.7 164.9,163.6 165.3,165.2 165.8,159.4 166.3,155.8 166.8,164.1 167.3,166.4 167.8,169.1 168.3,161 168.8,161 169.3,164.6 169.8,163.3 170.3,166.3 170.8,156.5 171.3,160.7 171.8,156.4 172.3,163.5 172.8,152.4 173.3,158 173.8,159.8 174.3,158.6 174.8,165.9 175.3,159.1 175.7,161.4 176.2,159 176.7,162.9 177.2,159.5 177.7,162.2 178.2,161.8 178.7,154.5 179.2,154.4 179.7,161.6 180.2,161.2 180.7,159.6 181.2,155.2 181.7,162.2 182.2,159.5 182.7,163.5 183.2,165.7 183.7,158.6 184.2,160 184.7,161.7 185.2,163.6 185.6,155.4 186.1,165.6 186.6,168.1 187.1,158 187.6,162.8 188.1,159.3 188.6,155.4 189.1,164.2 189.6,164.9 190.1,166.7 190.6,165.3 191.1,168.4 191.6,162.5 192.1,160.6 192.6,163.3 193.1,162.4 193.6,156.9 194.1,157.1 194.6,157.2 195.1,164.5 195.5,160.4 196,166 196.5,161.7 197,156.3 197.5,153.7 198,165 198.5,164.4 199,159.3 199.5,162 200,159.8 200.5,156.7 201,169.6 201.5,151.8 202,158.2 202.5,161.7 203,159.4 203.5,167 204,160.2 204.5,161.8 205,160.1 205.4,159.3 205.9,164.7 206.4,166.2 206.9,154.5 207.4,158.3 207.9,163 208.4,155.9 208.9,165.4 209.4,159.1 209.9,163.3 210.4,162.7 210.9,159.5 211.4,160.6 211.9,162.3 212.4,166 212.9,154.2 213.4,162.9 213.9,153.3 214.4,164.1 214.9,160 215.3,163.2 215.8,155 216.3,161.9 216.8,155.4 217.3,158.2 217.8,160.1 218.3,166.7 218.8,160.9 219.3,157.9 219.8,159.5 220.3,172.7 220.8,164.5 221.3,166.3 221.8,163.9 222.3,165.2 222.8,158.4 223.3,170.3 223.8,160.1 224.3,167.9 224.8,162.6 225.2,153.3 225.7,160.7 226.2,162.1 226.7,162.9 227.2,153.8 227.7,162.3 228.2,163.6 228.7,160.3 229.2,165.9 229.7,159.4 230.2,164.6 230.7,153.2 231.2,165.3 231.7,159.3 232.2,157.4 232.7,160.6 233.2,157.4 233.7,161.2 234.2,155 234.7,158.7 235.1,163.5 235.6,162.4 236.1,161.4 236.6,168.9 237.1,164.2 237.6,161.3 238.1,161.6 238.6,173.6 239.1,155.9 239.6,155.5 240.1,163.7 240.6,165 241.1,160.7 241.6,163 242.1,161.8 242.6,158.5 243.1,161 243.6,157.7 244.1,163.3 244.6,162.3 245,171.1 245.5,166.8 246,157.4 246.5,164.3 247,160.5 247.5,161 248,158.3 248.5,157.8 249,154.6 249.5,167.2 250,155.3 250.5,162.2 251,156.8 251.5,165.3 252,161.5 252.5,157.9 253,159.2 253.5,149.6 254,158.9 254.5,154.7 254.9,159.1 255.4,159.8 255.9,162.4 256.4,159.6 256.9,151 257.4,157.8 257.9,159.6 258.4,166.7 258.9,167.1 259.4,162.1 259.9,157.5 260.4,153.2 260.9,165.1 261.4,155 261.9,156.5 262.4,157 262.9,159.4 263.4,162.6 263.9,159.2 264.4,166.2 264.8,157 265.3,165.1 265.8,167.3 266.3,158.5 266.8,162.8 267.3,165.8 267.8,163.7 268.3,161.1 268.8,162.2 269.3,155.4 269.8,159.8 270.3,160 270.8,165.2 271.3,153.5 271.8,159.4 272.3,160 272.8,159.5 273.3,166.4 273.8,162.4 274.3,162.2 274.7,164.8 275.2,160.1 275.7,162.9 276.2,165.5 276.7,161.2 277.2,162.8 277.7,157.3 278.2,156.7 278.7,161.6 279.2,164.8 279.7,169.9 280.2,166 280.7,163.1 281.2,158.9 281.7,160.8 282.2,158.5 282.7,158.4 283.2,153.3 283.7,166.5 284.2,165.7 284.7,158 285.1,164.1 285.6,159.8 286.1,160.7 286.6,161.3 287.1,163 287.6,167.3 288.1,160.4 288.6,168.7 289.1,154.9 289.6,162 290.1,156.6 290.6,163.3 291.1,157.2 291.6,164.2 292.1,157.8 292.6,161.9 293.1,154.3 293.6,165.9 294.1,156.2 294.6,164.6 295,164.2 295.5,170.1 296,161.6 296.5,153.8 297,160.1 297.5,162.2 298,172.4 298.5,155.1 299,158.6 299.5,163.8 300,165.5 300.5,166.6 301,165.2 301.5,166.5 302,164.3 302.5,161.3 303,172.6 303.5,162.9 304,159.7 304.5,163.6 304.9,157.2 305.4,163.3 305.9,164.3 306.4,164.2 306.9,159.2 307.4,156.8 307.9,160.8 308.4,165.1 308.9,148.9 309.4,158.5 309.9,160.9 310.4,161.3 310.9,160 311.4,164.9 311.9,164.4 312.4,159.4 312.9,158.5 313.4,167.8 313.9,157.3 314.4,156.9 314.8,162.3 315.3,159.3 315.8,164.6 316.3,162.5 316.8,167 317.3,162.3 317.8,159.4 318.3,167.3 318.8,158.3 319.3,167.1 319.8,156.1 320.3,160.4 320.8,159.9 321.3,153.4 321.8,162.3 322.3,161.8 322.8,158.9 323.3,160.6 323.8,158.6 324.3,169.2 324.7,172.2 325.2,167.7 325.7,163.4 326.2,163.6 326.7,163 327.2,162.5 327.7,157.1 328.2,155.5 328.7,159.4 329.2,157 329.7,161.6 330.2,159 330.7,160.6 331.2,159.8 331.7,156.5 332.2,161.8 332.7,165.1 333.2,165.7 333.7,160.1 334.2,159 334.6,157.2 335.1,161.7 335.6,166.3 336.1,155.7 336.6,157.7 337.1,160.6 337.6,162.2 338.1,164 338.6,160.7 339.1,155.6 339.6,155.6 340.1,164.8 340.6,160.3 341.1,162.3 341.6,157.2 342.1,168.6 342.6,157.7 343.1,162.2 343.6,150 344.1,162.1 344.5,159.9 345,155.2 345.5,156.5 346,161.2 346.5,162.5 347,168.2 347.5,164.1 348,161 348.5,152.1 349,162.8 349.5,161 350,159.9 350.5,155.1 351,156.5 351.5,161.3 352,156.7 352.5,164.4 353,160.7 353.5,165.5 354,154.5 354.4,162.7 354.9,162.2 355.4,162.9 355.9,162.7 356.4,155.7 356.9,153.5 357.4,161.7 357.9,154.2 358.4,160.7 358.9,159.5 359.4,159.5 359.9,150.8 360.4,157.5 360.9,161.5 361.4,156.6 361.9,162.2 362.4,158.6 362.9,163.5 363.4,159.8 363.9,160.6 364.3,161.7 364.8,149.9 365.3,162.9 365.8,158.6 366.3,161.5 366.8,166.2 367.3,153.9 367.8,159.4 368.3,153.7 368.8,164.4 369.3,153.1 369.8,164.5 370.3,158.4 370.8,165.8 371.3,165.1 371.8,168.7 372.3,156.5 372.8,159.2 373.3,169.8 373.8,168.4 374.2,162.7 374.7,160.1 375.2,162.4 375.7,164.6 376.2,159.9 376.7,156.4 377.2,162.8 377.7,167.6 378.2,160.3 378.7,165.4 379.2,160.4 379.7,163.2 380.2,160.5 380.7,159 381.2,163.5 381.7,157.4 382.2,163.3 382.7,164.5 383.2,161.4 383.7,160.9 384.1,157.3 384.6,158.3 385.1,163.5 385.6,161.7 386.1,165.7 386.6,167.6 387.1,162.7 387.6,167.1 388.1,153.8 388.6,154.7 389.1,159.2 389.6,164 390.1,159.8 390.6,156 391.1,162.7 391.6,164.6 392.1,168 392.6,169.1 393.1,163.6 393.6,157.6 394,165.8 394.5,153.6 395,155.8 395.5,156.6 396,168.4 396.5,157.7 397,162 397.5,167.4 398,165.4 398.5,168.9 399,159.3 399.5,166.9 400,155 400.5,157.5 401,160.8 401.5,160.8 402,160.5 402.5,165.1 403,160.1 403.5,155.1 404,166.5 404.4,169.2 404.9,161.2 405.4,149.2 405.9,160.1 406.4,164.8 406.9,166.6 407.4,160.2 407.9,161.6 408.4,169.7 408.9,161.6 409.4,159.1 409.9,153.1 410.4,159.5 410.9,158.6 411.4,158 411.9,162.9 412.4,166.2 412.9,158.3 413.4,171.8 413.9,168.5 414.3,165.5 414.8,170.1 415.3,162.3 415.8,155.9 416.3,162 416.8,163.9 417.3,164.4 417.8,161 418.3,164.1 418.8,161.9 419.3,161.8 419.8,162.7 420.3,171.8 420.8,161.2 421.3,163.7 421.8,155.5 422.3,161.8 422.8,155.4 423.3,160.6 423.8,166.2 424.2,160.8 424.7,156.9 425.2,155.8 425.7,164.6 426.2,161.3 426.7,164.6 427.2,164.5 427.7,162.1 428.2,160.5 428.7,166.8 429.2,155.3 429.7,159.3 430.2,160.6 430.7,157.3 431.2,169 431.7,162.4 432.2,167.7 432.7,165.6 433.2,157.2 433.7,160.3 434.1,156.7 434.6,169 435.1,157.7 435.6,163.2 436.1,164.3 436.6,169.9 437.1,161.1 437.6,162.3 438.1,164 438.6,158.2 439.1,154.5 439.6,159.2 440.1,163.5 440.6,156.9 441.1,162.3 441.6,157.7 442.1,157.2 442.6,165.7 443.1,161.1 443.6,155.8 444,163.2 444.5,161 445,155.1 445.5,154.2 446,157.6 446.5,164.4 447,167.9 447.5,156.1 448,160.6 448.5,163.1 449,151.7 449.5,148.9 450,166.8 450.5,160.7 451,166.6 451.5,169 452,162 452.5,159.1 453,164.6 453.5,165.5 453.9,160.6 454.4,167.2 454.9,157.7 455.4,162.1 455.9,162.8 456.4,160.3 456.9,160.8 457.4,167.4 457.9,168 458.4,162.7 458.9,154.3 459.4,166.2 459.9,161.2 460.4,152.3 460.9,165.6 461.4,159.3 461.9,164.3 462.4,163.7 462.9,158.5 463.4,161.3 463.8,159.5 464.3,163.7 464.8,162.3 465.3,165 465.8,163.7 466.3,155.1 466.8,153.7 467.3,159.4 467.8,156.2 468.3,152 468.8,164.7 469.3,159.8 469.8,162.8 470.3,159.3 470.8,155.8 471.3,159.9 471.8,160.2 472.3,159.3 472.8,160.6 473.3,160.2 473.7,168.6 474.2,154.8 474.7,161.6 475.2,154.4 475.7,161.8 476.2,162 476.7,163.2 477.2,160.7 477.7,156.6 478.2,162.9 478.7,165.8 479.2,159.6 479.7,152.7 480.2,163.9 480.7,171.5 481.2,165.7 481.7,161.4 482.2,163.1 482.7,157.9 483.2,167.6 483.6,161.7 484.1,160.5 484.6,156.5 485.1,161.6 485.6,170.3 486.1,158 486.6,161.4 487.1,159.1 487.6,159.5 488.1,163.9 488.6,161.6 489.1,161.4 489.6,165 490.1,157.9 490.6,156 491.1,167.1 491.6,159.6 492.1,160 492.6,153.2 493.1,165.7 493.5,167 494,163.5 494.5,166.6 495,169.2 495.5,171.3 496,161.6 496.5,158.3 497,160.6 497.5,160.8 498,161 498.5,152.7 499,161.2 499.5,161.6 500,169.3 500.5,161.9 501,167.7 501.5,162.6 502,159.8 502.5,158.7 503,155.4 503.4,155.5 503.9,167.2 504.4,159.8 504.9,162.8 505.4,155.4 505.9,156.6 506.4,159.6 506.9,163.4 507.4,155.2 507.9,159.5 508.4,156.5 508.9,164 509.4,158.7 509.9,163.6 510.4,161.6 510.9,155.6 511.4,162.1 511.9,156.2 512.4,160.1 512.9,154.5 513.4,158.9 513.8,158.3 514.3,163.6 514.8,159.5 515.3,159.4 515.8,154.7 516.3,151.1 516.8,155.4 517.3,164.8 517.8,162.5 518.3,153.2 518.8,167.1 519.3,156.3 519.8,160.9 520.3,156.8 520.8,163.7 521.3,158.6 521.8,155.2 522.3,164.9 522.8,171.4 523.3,157.9 523.7,162.7 524.2,152.6 524.7,159.5 525.2,156 525.7,166.4 526.2,159.4 526.7,158.1 527.2,166.3 527.7,158 528.2,157.9 528.7,161.8 529.2,158.6 529.7,165.7 530.2,158.6 530.7,163.6 531.2,160.5 531.7,156.9 532.2,158.9 532.7,164.8 533.2,156.3 533.6,161.8 534.1,161 534.6,164.3 535.1,161 535.6,163.4 536.1,163.7 536.6,165.3 537.1,160.1 537.6,153.3 538.1,165.2 538.6,157.2 539.1,156.2 539.6,153.6 540.1,156.8 540.6,165.2 541.1,166.4 541.6,155.4 542.1,153 542.6,158.5 543.1,163.6 543.5,161.2 544,159.2 544.5,170.5 545,160.5 545.5,162.2 546,158.7 546.5,169.8 547,160.1 547.5,156.3 548,156.9 548.5,164 549,163.4 549.5,153.8 550,166.2 550.5,161.1 551,162.2 551.5,163.5 552,172.5 552.5,158.9 553,154.3 553.4,163.4 553.9,157 554.4,163.9 554.9,162.4 555.4,158.5 555.9,162.2 556.4,164.8 556.9,162.1 557.4,164.9 557.9,160.8 558.4,151.3 558.9,162.6 559.4,168 559.9,168 560.4,167.3 560.9,164.2 561.4,162.5 561.9,155.8 562.4,163.8 562.9,158.9 563.3,163.8 563.8,157.4 564.3,156.9 564.8,162.2 565.3,160.1 565.8,154.9 566.3,160.9 566.8,164.7 567.3,155 567.8,168.3 568.3,162.5 568.8,157.6 569.3,157.6 569.8,156.1 570.3,165.2 570.8,168.4 571.3,162.8 571.8,164.9 572.3,162.7 572.8,152.6 573.2,172.5 573.7,164.4 574.2,160.3 574.7,154 575.2,161.6 575.7,153.3 576.2,159.9 576.7,160.3 577.2,166 577.7,159.7 578.2,162.2 578.7,161.4 579.2,157.4 579.7,162.1 580.2,157.5 580.7,152.4 581.2,163.2 581.7,161.8 582.2,162.7 582.7,161.2 583.1,158.8 583.6,164.1 584.1,165.1 584.6,159.8 585.1,168.4 585.6,155.3 586.1,159.5 586.6,155.5 587.1,165.4 587.6,169.1 588.1,162.4 588.6,161.2 589.1,157.4 589.6,162.4 590.1,157.5 590.6,165.1 591.1,161 591.6,162.3 592.1,158.6 592.6,163.6 593,162.7 593.5,164 594,164.7 594.5,158.5 595,153.5 595.5,162.6 596,166.7 596.5,156.4 597,158.3 597.5,162.8 598,158.4 598.5,162.6 599,158.7 599.5,161.2 600,160.9 600.5,168 601,166.2 601.5,161.9 602,163.9 602.5,152.1 602.9,159 603.4,162.8 603.9,169.6 604.4,163.4 604.9,159.5 605.4,162.5 605.9,160.2 606.4,169.9 606.9,154.9 607.4,167 607.9,157.4 608.4,158.3 608.9,157.9 609.4,163.8 609.9,162.6 610.4,164.3 610.9,165.6 611.4,166.1 611.9,165.3 612.4,168.2 612.8,166.3 613.3,165.1 613.8,158.3 614.3,156.3 614.8,163.1 615.3,156.1 615.8,158.3 616.3,162.3 616.8,164.7 617.3,157.6 617.8,166.6 618.3,162 618.8,155.7 619.3,162.5 619.8,159.7 620.3,164.5 620.8,164.4 621.3,158.6 621.8,159.9 622.3,154.9 622.7,168.5 623.2,166.5 623.7,160.7 624.2,166 624.7,161.9 625.2,155 625.7,150.4 626.2,158.1 626.7,161.5 627.2,165.1 627.7,156.7"/><polyline fill="none" stroke="#ef843c" stroke-width="1.4" stroke-linejoin="round" points="51,162.3 51.5,157.7 52,162.2 52.5,163.5 53,161.8 53.5,163.7 54,157.7 54.5,157.7 55,165.2 55.5,156.3 56,164.6 56.4,161.6 56.9,164.6 57.4,161.6 57.9,165.9 58.4,164.9 58.9,161.3 59.4,157.6 59.9,167.9 60.4,167.6 60.9,167.4 61.4,165.7 61.9,160.2 62.4,165.5 62.9,168.4 63.4,165.2 63.9,161 64.4,160.9 64.9,162.9 65.4,161.8 65.9,159.4 66.3,167.9 66.8,160.5 67.3,165.1 67.8,165.3 68.3,157.1 68.8,159.6 69.3,159.5 69.8,160.5 70.3,159 70.8,164.1 71.3,157.3 71.8,166.1 72.3,167.5 72.8,163.1 73.3,163 73.8,162.1 74.3,160.3 74.8,160.1 75.3,159.9 75.8,168.5 76.2,165 76.7,165.2 77.2,156.3 77.7,159 78.2,158.9 78.7,160.4 79.2,156.9 79.7,161.6 80.2,157.2 80.7,168.3 81.2,157.9 81.7,158.5 82.2,159.7 82.7,159.6 83.2,160.7 83.7,155.2 84.2,160.7 84.7,163.8 85.2,159.4 85.7,162.3 86.1,158.8 86.6,160.9 87.1,165.1 87.6,165.6 88.1,166.7 88.6,162.4 89.1,160.6 89.6,162.2 90.1,158.1 90.6,163.5 91.1,156.3 91.6,161.3 92.1,157.9 92.6,159.8 93.1,164.1 93.6,159.5 94.1,163.1 94.6,162.3 95.1,162.7 95.6,163.6 96,163.1 96.5,152.5 97,159.6 97.5,157.3 98,158 98.5,163.4 99,157.2 99.5,159.6 100,156.4 100.5,163.2 101,166.1 101.5,158.1 102,161 102.5,163.9 103,159.8 103.5,164 104,162.3 104.5,163.8 105,154.6 105.5,158.3 105.9,161.9 106.4,163.2 106.9,157.8 107.4,166.3 107.9,168.3 108.4,160.6 108.9,161.9 109.4,156.3 109.9,160 110.4,167.9 110.9,163.1 111.4,167.5 111.9,157.7 112.4,163.6 112.9,161.3 113.4,162.2 113.9,161.6 114.4,163.4 114.9,161.7 115.4,161.2 115.8,162.4 116.3,161.6 116.8,166.7 117.3,165.2 117.8,164.4 118.3,164.6 118.8,157.9 119.3,169.9 119.8,159 120.3,165.7 120.8,158.3 121.3,156 121.8,161.2 122.3,158.5 122.8,169.8 123.3,158.2 123.8,162 124.3,163.8 124.8,162.6 125.3,160.8 125.7,160.1 126.2,164.3 126.7,161.8 127.2,161.7 127.7,163.9 128.2,164.6 128.7,164.1 129.2,162.2 129.7,158.3 130.2,161.1 130.7,160.6 131.2,164 131.7,163.2 132.2,165 132.7,162.2 133.2,163 133.7,164.2 134.2,158.3 134.7,159 135.2,170 135.6,155.5 136.1,160.4 136.6,162.6 137.1,166.6 137.6,160.3 138.1,164.7 138.6,156.5 139.1,154.6 139.6,161.6 140.1,160.8 140.6,171.8 141.1,162.4 141.6,162.9 142.1,166.1 142.6,161.3 143.1,161.5 143.6,165.7 144.1,162.2 144.6,163.1 145.1,158.7 145.5,164.9 146,163.4 146.5,157 147,163.2 147.5,165.2 148,164.1 148.5,161.5 149,169.6 149.5,156.1 150,166.2 150.5,164.1 151,159.1 151.5,161.9 152,161.9 152.5,155.8 153,160.3 153.5,170.4 154,160.9 154.5,163.7 155,159.5 155.4,163 155.9,161.1 156.4,159.1 156.9,160.3 157.4,155 157.9,154.7 158.4,159.9 158.9,163.4 159.4,159.1 159.9,158.4 160.4,162.8 160.9,164.7 161.4,161.6 161.9,157.4 162.4,163.2 162.9,164.1 163.4,152.7 163.9,160.2 164.4,157.9 164.9,156.8 165.3,159.5 165.8,160.3 166.3,161.8 166.8,162.8 167.3,163.5 167.8,163.3 168.3,161.2 168.8,162.8 169.3,166.5 169.8,164.9 170.3,171 170.8,155.6 171.3,160.2 171.8,164.8 172.3,164.6 172.8,164.2 173.3,164 173.8,169.2 174.3,159.4 174.8,163.8 175.3,157.2 175.7,161.7 176.2,167.6 176.7,156.3 177.2,159.9 177.7,163.6 178.2,166.4 178.7,161.5 179.2,163.3 179.7,161.2 180.2,158.8 180.7,162.4 181.2,163.4 181.7,165.5 182.2,162.5 182.7,157.9 183.2,160.6 183.7,166.4 184.2,158.6 184.7,158.9 185.2,165.8 185.6,167.9 186.1,162.2 186.6,164.8 187.1,166.5 187.6,161.1 188.1,161.2 188.6,166.1 189.1,159.7 189.6,156.7 190.1,159.2 190.6,162.6 191.1,164.3 191.6,157.1 192.1,156.2 192.6,159.1 193.1,156.6 193.6,161 194.1,157.5 194.6,166.3 195.1,161.8 195.5,168 196,161.4 196.5,165.5 197,159.1 197.5,163.5 198,162.8 198.5,158.2 199,161.4 199.5,164.4 200,163.3 200.5,161.1 201,163.5 201.5,160 202,158.9 202.5,158.1 203,161.4 203.5,163.9 204,158.7 204.5,165.1 205,160.7 205.4,160.7 205.9,164.8 206.4,159.5 206.9,167.6 207.4,157.4 207.9,164.7 208.4,163.7 208.9,158.3 209.4,165.6 209.9,158.2 210.4,165.6 210.9,160.4 211.4,162.8 211.9,167.4 212.4,165.8 212.9,159.1 213.4,161.8 213.9,160.5 214.4,159.5 214.9,160.5 215.3,160.7 215.8,168.6 216.3,163.8 216.8,160 217.3,162.9 217.8,163.9 218.3,165.7 218.8,164.1 219.3,161.4 219.8,163 220.3,156.6 220.8,163.5 221.3,167.3 221.8,156.1 222.3,163.5 222.8,159.6 223.3,166.7 223.8,162.7 224.3,157.6 224.8,159.1 225.2,169 225.7,167.6 226.2,158.1 226.7,164.8 227.2,160.1 227.7,163.1 228.2,165.4 228.7,162 229.2,162.4 229.7,161.3 230.2,164.7 230.7,161 231.2,164 231.7,156.7 232.2,164 232.7,161.1 233.2,165 233.7,166.4 234.2,162.3 234.7,166.8 235.1,164.8 235.6,167.2 236.1,164.3 236.6,162.7 237.1,160.8 237.6,161.3 238.1,154.3 238.6,158 239.1,161.7 239.6,165.2 240.1,160.1 240.6,158.8 241.1,161.7 241.6,165.3 242.1,161.6 242.6,165.5 243.1,164.6 243.6,161.5 244.1,165 244.6,168.8 245,155.8 245.5,165.5 246,162.9 246.5,163.4 247,165.2 247.5,160.2 248,160.5 248.5,161.5 249,158.5 249.5,163 250,159.7 250.5,163.6 251,158.8 251.5,167.4 252,162.6 252.5,161.6 253,166.1 253.5,159.1 254,162 254.5,161.5 254.9,160.6 255.4,160.3 255.9,165.1 256.4,161 256.9,164.5 257.4,166.5 257.9,155.8 258.4,160.3 258.9,162.2 259.4,159.6 259.9,159.6 260.4,162.5 260.9,156.3 261.4,159.4 261.9,162.1 262.4,162 262.9,161.4 263.4,155.3 263.9,161.6 264.4,161.3 264.8,164.6 265.3,166 265.8,155.7 266.3,160.6 266.8,160.6 267.3,163.9 267.8,159.7 268.3,160.3 268.8,157.2 269.3,164.7 269.8,158 270.3,167.2 270.8,162.5 271.3,161.3 271.8,160.8 272.3,165.5 272.8,161 273.3,162.2 273.8,162.4 274.3,162.2 274.7,163.5 275.2,172.1 275.7,166 276.2,164.4 276.7,161.2 277.2,159.4 277.7,164.7 278.2,160.3 278.7,162.2 279.2,159.2 279.7,155.9 280.2,161.7 280.7,158 281.2,161 281.7,159.1 282.2,166 282.7,161.9 283.2,164.7 283.7,159.3 284.2,159.2 284.7,162.1 285.1,166.8 285.6,160.6 286.1,160.2 286.6,161.7 287.1,160.5 287.6,158.7 288.1,164.8 288.6,160.1 289.1,161.9 289.6,164.3 290.1,161.5 290.6,160.5 291.1,161.6 291.6,174.6 292.1,156.3 292.6,160.1 293.1,158.6 293.6,163.2 294.1,167.6 294.6,164.3 295,167.4 295.5,164.2 296,159.8 296.5,158.3 297,159.4 297.5,158.8 298,163.6 298.5,161.7 299,164.9 299.5,161.7 300,158.4 300.5,162.5 301,159.1 301.5,156.1 302,163 302.5,166.7 303,162.7 303.5,160.3 304,162.6 304.5,158.1 304.9,165.6 305.4,166.4 305.9,162 306.4,161.8 306.9,166.1 307.4,165.1 307.9,155.5 308.4,159.4 308.9,161.2 309.4,166.6 309.9,162.6 310.4,156.5 310.9,161.6 311.4,165.5 311.9,161.4 312.4,164.7 312.9,157.2 313.4,156.5 313.9,158.3 314.4,159 314.8,162.5 315.3,160.6 315.8,164.7 316.3,163.7 316.8,161.5 317.3,165 317.8,163 318.3,161.7 318.8,158.7 319.3,162.6 319.8,161.1 320.3,162.9 320.8,165.8 321.3,160.1 321.8,172.7 322.3,166.3 322.8,167.5 323.3,163.8 323.8,165.6 324.3,163.6 324.7,159.2 325.2,158.8 325.7,165.1 326.2,157.6 326.7,158.7 327.2,164.8 327.7,164.6 328.2,158.8 328.7,162.9 329.2,165.8 329.7,160.4 330.2,164.9 330.7,162.8 331.2,165.5 331.7,158.5 332.2,164.6 332.7,165.1 333.2,158.1 333.7,161.9 334.2,161.9 334.6,164.5 335.1,158.8 335.6,167.4 336.1,161.7 336.6,160.9 337.1,164.7 337.6,162.3 338.1,164.3 338.6,163.3 339.1,160.3 339.6,155.6 340.1,167.7 340.6,159.5 341.1,165.9 341.6,165.4 342.1,158 342.6,158.5 343.1,162.6 343.6,162.9 344.1,159.4 344.5,159.1 345,160.3 345.5,163.2 346,160.5 346.5,159.9 347,156.4 347.5,166.4 348,168.9 348.5,163.2 349,162.8 349.5,163 350,159.4 350.5,166.9 351,167.5 351.5,167 352,158 352.5,154.6 353,161.4 353.5,159.9 354,165.7 354.4,162.9 354.9,160.8 355.4,162.3 355.9,165.6 356.4,172.1 356.9,168.1 357.4,162.3 357.9,155.4 358.4,160.9 358.9,165 359.4,156.3 359.9,162.1 360.4,163 360.9,162.8 361.4,156.5 361.9,161.2 362.4,169.8 362.9,162 363.4,166.9 363.9,158.3 364.3,161.6 364.8,160.1 365.3,161.7 365.8,166.9 366.3,162.2 366.8,161.1 367.3,159.8 367.8,161.1 368.3,162.3 368.8,163 369.3,165.7 369.8,157.6 370.3,166 370.8,163.2 371.3,160 371.8,165.5 372.3,156.8 372.8,165.2 373.3,162.4 373.8,160.5 374.2,158.3 374.7,165.9 375.2,159.4 375.7,165.6 376.2,155.5 376.7,157.2 377.2,165.7 377.7,162.1 378.2,161.6 378.7,164.3 379.2,164.6 379.7,156.9 380.2,161 380.7,157.2 381.2,165.3 381.7,155.9 382.2,159.3 382.7,157.7 383.2,169.4 383.7,161.4 384.1,164 384.6,162.6 385.1,165.3 385.6,163.9 386.1,157.5 386.6,163.9 387.1,162.4 387.6,171.6 388.1,160.7 388.6,164.1 389.1,155.4 389.6,160.1 390.1,163 390.6,162.4 391.1,165.4 391.6,164.1 392.1,161.6 392.6,160 393.1,162.1 393.6,165.4 394,163.4 394.5,161.2 395,160.7 395.5,164.3 396,154.3 396.5,157.9 397,162.4 397.5,166.3 398,158.5 398.5,163.7 399,162.8 399.5,162.9 400,167.4 400.5,166 401,160.2 401.5,161.2 402,160.8 402.5,156.9 403,165.2 403.5,160.6 404,159.7 404.4,161.8 404.9,158.6 405.4,162.5 405.9,158.4 406.4,161.9 406.9,158.5 407.4,160.8 407.9,161 408.4,162.6 408.9,161.1 409.4,158.8 409.9,159.1 410.4,160.5 410.9,163.3 411.4,152.9 411.9,161.3 412.4,165.4 412.9,161 413.4,158.3 413.9,157.3 414.3,158.7 414.8,161.7 415.3,166.6 415.8,162.4 416.3,157.6 416.8,158.3 417.3,162.7 417.8,160.1 418.3,158.9 418.8,166 419.3,159.2 419.8,159.8 420.3,157.4 420.8,162.5 421.3,158.2 421.8,165.7 422.3,163.3 422.8,155.9 423.3,165.7 423.8,161.2 424.2,158.9 424.7,160.6 425.2,158.5 425.7,160.4 426.2,162.8 426.7,163.2 427.2,158.1 427.7,166.8 428.2,163.4 428.7,161.9 429.2,160.2 429.7,159 430.2,168.9 430.7,166 431.2,161.7 431.7,154.8 432.2,164.8 432.7,159.7 433.2,160.7 433.7,164.4 434.1,159.4 434.6,164.2 435.1,162.4 435.6,165.8 436.1,163.2 436.6,153.4 437.1,169.2 437.6,161.3 438.1,159.8 438.6,160.9 439.1,162.1 439.6,159.5 440.1,157.1 440.6,162.9 441.1,168.1 441.6,157 442.1,166.3 442.6,156.7 443.1,165.6 443.6,161.2 444,159.9 444.5,167.5 445,160.4 445.5,162.7 446,166.8 446.5,156.9 447,162.2 447.5,159.8 448,159 448.5,163.3 449,164.4 449.5,161.4 450,160.4 450.5,166.7 451,160.4 451.5,161.6 452,157.7 452.5,157.1 453,163.2 453.5,158.3 453.9,169.1 454.4,162 454.9,160 455.4,168.4 455.9,166.6 456.4,157.5 456.9,159.8 457.4,154.6 457.9,163 458.4,160.1 458.9,164.6 459.4,156.9 459.9,160.8 460.4,165 460.9,165.4 461.4,158.5 461.9,160.2 462.4,165.5 462.9,162.4 463.4,165.2 463.8,164.9 464.3,161.6 464.8,162.3 465.3,164.1 465.8,167.2 466.3,154.5 466.8,163.3 467.3,163.4 467.8,163.4 468.3,162 468.8,160.1 469.3,162.7 469.8,160 470.3,158.3 470.8,163.3 471.3,164.6 471.8,160.8 472.3,156.5 472.8,155.6 473.3,161.6 473.7,161.5 474.2,162.1 474.7,158.9 475.2,166.1 475.7,166 476.2,163.4 476.7,158.8 477.2,155.8 477.7,160.9 478.2,158.9 478.7,164.8 479.2,166.6 479.7,164.2 480.2,161 480.7,157.8 481.2,158.4 481.7,162.2 482.2,159.9 482.7,160.8 483.2,161.2 483.6,162.1 484.1,173.1 484.6,158 485.1,162.5 485.6,165 486.1,165.6 486.6,160.1 487.1,161.1 487.6,156.6 488.1,160.2 488.6,160 489.1,162.5 489.6,163.3 490.1,161.9 490.6,165 491.1,162.8 491.6,164 492.1,160.7 492.6,163.5 493.1,162.3 493.5,160.9 494,158.8 494.5,157.3 495,160.7 495.5,167.6 496,158.8 496.5,165.4 497,159.2 497.5,164.4 498,166 498.5,165.3 499,157.7 499.5,161 500,166.5 500.5,159.8 501,163.9 501.5,165.9 502,167.4 502.5,156.9 503,158.3 503.4,155.4 503.9,161.5 504.4,160.8 504.9,161.9 505.4,162.1 505.9,159.2 506.4,166.3 506.9,164.3 507.4,166.7 507.9,165.7 508.4,168.4 508.9,162.4 509.4,163.3 509.9,164.2 510.4,162.1 510.9,157.2 511.4,168.8 511.9,154.1 512.4,159.1 512.9,162.2 513.4,162.7 513.8,157 514.3,165.2 514.8,162.7 515.3,158.9 515.8,165 516.3,159.6 516.8,162.6 517.3,158.4 517.8,162.6 518.3,163.4 518.8,162.8 519.3,161.6 519.8,165.5 520.3,167.3 520.8,165.1 521.3,168.1 521.8,163.4 522.3,165.3 522.8,160.3 523.3,157.3 523.7,161.9 524.2,163.8 524.7,157.1 525.2,170.4 525.7,159.3 526.2,163.8 526.7,159.4 527.2,164.2 527.7,160.3 528.2,166.9 528.7,159.8 529.2,160 529.7,160.1 530.2,164.9 530.7,156.2 531.2,157.8 531.7,165.5 532.2,164 532.7,160.5 533.2,156.1 533.6,159.6 534.1,161.2 534.6,160.9 535.1,161.9 535.6,164.6 536.1,162.6 536.6,164.8 537.1,165.3 537.6,167 538.1,165.5 538.6,164.9 539.1,159.7 539.6,167.8 540.1,167.7 540.6,164.3 541.1,161.8 541.6,158.7 542.1,163.6 542.6,160.4 543.1,158.1 543.5,162.8 544,163.9 544.5,161 545,161.5 545.5,159.8 546,158.4 546.5,165.5 547,157 547.5,153.9 548,156.9 548.5,158.4 549,165.2 549.5,162.1 550,162.6 550.5,162.8 551,160.9 551.5,167.1 552,162.3 552.5,151 553,160.1 553.4,162.6 553.9,160.7 554.4,158.4 554.9,159.6 555.4,158.2 555.9,169.5 556.4,160.5 556.9,159.3 557.4,161.8 557.9,158.5 558.4,162.6 558.9,157.1 559.4,162 559.9,161.8 560.4,161.5 560.9,158.4 561.4,163.8 561.9,159.6 562.4,158.3 562.9,163 563.3,156.8 563.8,156.2 564.3,161.7 564.8,163.4 565.3,158.9 565.8,162.1 566.3,160.6 566.8,160 567.3,162 567.8,161.1 568.3,160.5 568.8,161.7 569.3,166.3 569.8,164.5 570.3,160.6 570.8,164.3 571.3,159.9 571.8,158.7 572.3,159.1 572.8,166.8 573.2,157.4 573.7,159.5 574.2,160.9 574.7,161.8 575.2,161.4 575.7,163.3 576.2,161.3 576.7,160 577.2,162.4 577.7,162.2 578.2,155.9 578.7,157.3 579.2,159.5 579.7,158.6 580.2,160.8 580.7,167.2 581.2,162.2 581.7,160.1 582.2,158.5 582.7,161.8 583.1,164.9 583.6,154.4 584.1,163.6 584.6,162 585.1,159.1 585.6,163.7 586.1,164.5 586.6,164.9 587.1,162.9 587.6,168.9 588.1,162.1 588.6,160.2 589.1,160.8 589.6,168.1 590.1,154.2 590.6,159.1 591.1,159.6 591.6,166.8 592.1,163.3 592.6,162.7 593,160.1 593.5,160.7 594,165.1 594.5,161.7 595,160.4 595.5,170.8 596,159.8 596.5,167 597,161.1 597.5,164.3 598,161.8 598.5,162.9 599,159.9 599.5,161.5 600,161.3 600.5,157.5 601,162.6 601.5,164.2 602,163.1 602.5,164.2 602.9,167.8 603.4,162.5 603.9,161.4 604.4,161.7 604.9,163.3 605.4,163.8 605.9,161.9 606.4,163.3 606.9,159.4 607.4,165.2 607.9,160.2 608.4,152.7 608.9,161.5 609.4,160.8 609.9,162.3 610.4,160 610.9,159.8 611.4,166.4 611.9,161.2 612.4,161.9 612.8,164.3 613.3,158.8 613.8,163.8 614.3,162.8 614.8,163.8 615.3,158.6 615.8,157.7 616.3,164.9 616.8,163.4 617.3,162.4 617.8,166.6 618.3,162.1 618.8,160.7 619.3,161 619.8,159.6 620.3,161.4 620.8,162.1 621.3,160.3 621.8,161.5 622.3,166.9 622.7,157.6 623.2,167.2 623.7,157 624.2,161.9 624.7,165.9 625.2,159 625.7,155 626.2,159.8 626.7,156.4 627.2,164.1 627.7,156.9"/><polyline fill="none" stroke="#eab839" stroke-width="1.4" stroke-linejoin="round" points="51,89.8 51.5,125.6 52,100.6 52.5,90.4 53,109.5 53.5,97.3 54,83.6 54.5,108.8 55,92.8 55.5,79.8 56,93.5 56.4,82.4 56.9,99.1 57.4,101.7 57.9,93.4 58.4,111.4 58.9,87.3 59.4,97.3 59.9,110 60.4,87.1 60.9,91.4 61.4,100.9 61.9,103.7 62.4,94.2 62.9,112.7 63.4,108.7 63.9,85.6 64.4,94.3 64.9,85.8 65.4,95.5 65.9,81.3 66.3,107.2 66.8,80.1 67.3,85.3 67.8,85.8 68.3,81.4 68.8,100 69.3,100.7 69.8,77.3 70.3,84.2 70.8,82.7 71.3,109.8 71.8,78 72.3,91.6 72.8,87.6 73.3,112.8 73.8,86.4 74.3,118.5 74.8,89 75.3,96.3 75.8,94.2 76.2,105.9 76.7,93.5 77.2,97.9 77.7,112.9 78.2,93.9 78.7,98.7 79.2,110.8 79.7,87.1 80.2,109.9 80.7,104.2 81.2,115 81.7,113.3 82.2,92.7 82.7,73.9 83.2,102.7 83.7,99.3 84.2,99.7 84.7,86.8 85.2,73.6 85.7,93 86.1,98.1 86.6,86.8 87.1,89.7 87.6,98.8 88.1,95.6 88.6,105 89.1,95.5 89.6,110.1 90.1,82.5 90.6,82.6 91.1,117.3 91.6,117.1 92.1,105.6 92.6,98.6 93.1,86.8 93.6,101.1 94.1,87.2 94.6,113.2 95.1,100.5 95.6,99.4 96,108.3 96.5,107.3 97,91.6 97.5,94.8 98,88.5 98.5,118 99,82.5 99.5,79.7 100,76.6 100.5,98.8 101,104.4 101.5,92 102,96.2 102.5,88.3 103,121.1 103.5,101.3 104,95.5 104.5,108.1 105,108.3 105.5,79.9 105.9,92.4 106.4,107.7 106.9,80.7 107.4,101.8 107.9,107 108.4,106.1 108.9,104.1 109.4,92.5 109.9,98.4 110.4,95.5 110.9,102.9 111.4,91.9 111.9,105.6 112.4,94.5 112.9,108.9 113.4,87.4 113.9,90.9 114.4,100.3 114.9,95.9 115.4,101.7 115.8,101.9 116.3,95.5 116.8,87.4 117.3,114.6 117.8,101.1 118.3,90.4 118.8,109.4 119.3,111 119.8,92.5 120.3,102.2 120.8,78.9 121.3,89.1 121.8,96.5 122.3,98.5 122.8,98.7 123.3,99.8 123.8,101.9 124.3,111.3 124.8,102.5 125.3,94.4 125.7,108.1 126.2,109 126.7,100.6 127.2,81.2 127.7,75.5 128.2,91.6 128.7,103.1 129.2,87.9 129.7,111.9 130.2,94.5 130.7,92.5 131.2,75 131.7,91.3 132.2,102 132.7,95.3 133.2,105 133.7,93.4 134.2,102.1 134.7,90.3 135.2,86.7 135.6,108.9 136.1,83.6 136.6,124.8 137.1,110.5 137.6,90 138.1,89.9 138.6,78.6 139.1,99.9 139.6,98.6 140.1,89.5 140.6,103.5 141.1,92.4 141.6,103.6 142.1,101.9 142.6,89.2 143.1,93.1 143.6,106.5 144.1,84.1 144.6,111.9 145.1,93.6 145.5,90.2 146,102.3 146.5,109.9 147,107.7 147.5,94.2 148,80.1 148.5,100.1 149,116.3 149.5,103.1 150,114.7 150.5,84.9 151,92.3 151.5,92.9 152,118.5 152.5,114 153,110.1 153.5,100.4 154,100.3 154.5,103.7 155,88.3 155.4,108.9 155.9,86.8 156.4,90.3 156.9,107.2 157.4,102 157.9,79 158.4,94 158.9,110 159.4,99.2 159.9,101.5 160.4,91.2 160.9,107.6 161.4,89.8 161.9,101.1 162.4,103.9 162.9,100.2 163.4,94.5 163.9,115.1 164.4,96.3 164.9,98 165.3,94.6 165.8,86.3 166.3,112.5 166.8,91.7 167.3,101.5 167.8,89.8 168.3,106.7 168.8,95.8 169.3,82.8 169.8,98 170.3,90.1 170.8,123.2 171.3,109.2 171.8,108.2 172.3,100.7 172.8,100.3 173.3,91.2 173.8,109.3 174.3,78.8 174.8,77.4 175.3,104.3 175.7,80.5 176.2,79 176.7,100.8 177.2,95.1 177.7,86.6 178.2,85.6 178.7,94.8 179.2,98.2 179.7,91.9 180.2,98.2 180.7,86.2 181.2,99.1 181.7,100.9 182.2,105.4 182.7,83.3 183.2,101.6 183.7,109.8 184.2,91.9 184.7,102.8 185.2,91.4 185.6,98.6 186.1,97 186.6,97.3 187.1,94.4 187.6,99.2 188.1,106.1 188.6,95.1 189.1,92.9 189.6,113.8 190.1,101.7 190.6,94.8 191.1,90.2 191.6,80.9 192.1,88.5 192.6,90.5 193.1,96.7 193.6,94.1 194.1,98.2 194.6,91.6 195.1,117.4 195.5,98.9 196,81.3 196.5,103.3 197,111.2 197.5,103.4 198,99 198.5,87.8 199,116.8 199.5,100.3 200,79.6 200.5,93.8 201,105.8 201.5,85.3 202,96.7 202.5,98.7 203,97 203.5,107 204,88.3 204.5,86.7 205,95.4 205.4,90.4 205.9,97 206.4,100.6 206.9,96.2 207.4,100.8 207.9,98 208.4,98.7 208.9,83.3 209.4,113.3 209.9,101.6 210.4,90.5 210.9,104.3 211.4,99.5 211.9,97.6 212.4,98.9 212.9,96.4 213.4,105.3 213.9,101.8 214.4,108.1 214.9,101.8 215.3,105.8 215.8,113.5 216.3,99.5 216.8,97.5 217.3,96.2 217.8,97.4 218.3,91 218.8,95.2 219.3,96.7 219.8,87.7 220.3,97 220.8,105.9 221.3,90.6 221.8,97.1 222.3,113.3 222.8,102.1 223.3,108.1 223.8,94.6 224.3,100.7 224.8,116.8 225.2,109 225.7,86.7 226.2,98.6 226.7,97.3 227.2,101.6 227.7,98 228.2,87.9 228.7,95.3 229.2,102.2 229.7,98.2 230.2,84.3 230.7,93.4 231.2,100.1 231.7,84 232.2,109.3 232.7,120.4 233.2,101.3 233.7,96.8 234.2,95.5 234.7,112.3 235.1,98.8 235.6,102.7 236.1,88.2 236.6,88.9 237.1,97.1 237.6,107.2 238.1,94.1 238.6,99.1 239.1,98.3 239.6,96.3 240.1,88.2 240.6,106.7 241.1,110.7 241.6,95.9 242.1,92.9 242.6,97.4 243.1,121.7 243.6,100.3 244.1,103.9 244.6,98.4 245,96.6 245.5,108.7 246,103.6 246.5,107.1 247,101.3 247.5,89.4 248,109.2 248.5,94.9 249,96.1 249.5,107.5 250,90.5 250.5,122.3 251,83.5 251.5,86.7 252,101.3 252.5,108.5 253,106.4 253.5,109.8 254,81.9 254.5,110.2 254.9,95.2 255.4,112.8 255.9,98.2 256.4,93.9 256.9,102.3 257.4,87.5 257.9,98.7 258.4,92.1 258.9,99.6 259.4,108.2 259.9,100.1 260.4,94.2 260.9,90.4 261.4,103.3 261.9,107.3 262.4,100.8 262.9,104.7 263.4,99.7 263.9,102.6 264.4,95.5 264.8,92.7 265.3,108.2 265.8,97.8 266.3,109.3 266.8,89.7 267.3,106 267.8,108.7 268.3,111 268.8,101.8 269.3,98.9 269.8,107 270.3,98.8 270.8,122.6 271.3,97.7 271.8,99.2 272.3,119 272.8,85.9 273.3,94.5 273.8,93.2 274.3,88.4 274.7,104.5 275.2,110.5 275.7,80.9 276.2,104.8 276.7,116.7 277.2,117.4 277.7,78.5 278.2,97.5 278.7,95.3 279.2,96.5 279.7,94 280.2,79.6 280.7,102.7 281.2,88.4 281.7,96.6 282.2,103 282.7,106.1 283.2,99.1 283.7,104 284.2,88.7 284.7,81.3 285.1,93.1 285.6,103.1 286.1,110.7 286.6,107.5 287.1,89.3 287.6,91 288.1,85.5 288.6,107.2 289.1,98.4 289.6,86.1 290.1,94.8 290.6,109.2 291.1,106.3 291.6,112.7 292.1,110.6 292.6,84.7 293.1,108.8 293.6,91.6 294.1,87.6 294.6,94 295,105.5 295.5,77.4 296,89.5 296.5,87.3 297,97.4 297.5,110.3 298,92.6 298.5,91 299,111.1 299.5,98.1 300,95.8 300.5,110.2 301,96.6 301.5,98 302,94 302.5,98.7 303,101.6 303.5,100.1 304,102.9 304.5,84.1 304.9,94.2 305.4,104.8 305.9,99.5 306.4,88.5 306.9,85.9 307.4,105.4 307.9,90.3 308.4,91.6 308.9,92.3 309.4,105.9 309.9,85.6 310.4,101.7 310.9,108.1 311.4,75.7 311.9,93.3 312.4,92.5 312.9,75.2 313.4,114.1 313.9,104.7 314.4,116.5 314.8,101.8 315.3,81.3 315.8,92.9 316.3,90.4 316.8,109.2 317.3,105.5 317.8,105.9 318.3,78 318.8,96.6 319.3,90.7 319.8,115.5 320.3,92.4 320.8,112.3 321.3,98.4 321.8,91.6 322.3,93.5 322.8,90.9 323.3,105 323.8,106 324.3,93.4 324.7,85.5 325.2,98.3 325.7,97 326.2,96.6 326.7,100.8 327.2,96 327.7,103.3 328.2,99.9 328.7,91.6 329.2,109.1 329.7,99.4 330.2,98.7 330.7,97.7 331.2,103.9 331.7,97 332.2,92.3 332.7,88.4 333.2,116.1 333.7,94.7 334.2,102.1 334.6,84.9 335.1,108.1 335.6,102 336.1,95.6 336.6,117.5 337.1,80.9 337.6,89.7 338.1,101.8 338.6,111.6 339.1,96 339.6,92.4 340.1,92.2 340.6,92.2 341.1,86.9 341.6,89.1 342.1,125.6 342.6,81.4 343.1,87.2 343.6,103.4 344.1,97.4 344.5,89.4 345,110.3 345.5,79.9 346,101.5 346.5,97.5 347,107 347.5,95.7 348,81.9 348.5,85.4 349,99.5 349.5,105.3 350,101 350.5,105.4 351,98.5 351.5,109.6 352,84 352.5,93.1 353,100.6 353.5,100.6 354,96.7 354.4,89.8 354.9,108.7 355.4,103 355.9,98.1 356.4,110 356.9,85.4 357.4,98.6 357.9,87.4 358.4,104.2 358.9,109.1 359.4,100.4 359.9,120.5 360.4,104 360.9,90.7 361.4,84.2 361.9,110.1 362.4,99.3 362.9,93.7 363.4,115.2 363.9,89.7 364.3,91.6 364.8,87.7 365.3,88.6 365.8,104.5 366.3,110.1 366.8,96.4 367.3,94.3 367.8,69.1 368.3,110.2 368.8,108.6 369.3,97.6 369.8,103.1 370.3,111.6 370.8,106.1 371.3,88 371.8,98.5 372.3,91 372.8,97.2 373.3,75 373.8,102.6 374.2,91.8 374.7,103 375.2,106.1 375.7,107.8 376.2,109.5 376.7,103.6 377.2,104 377.7,109 378.2,106 378.7,94 379.2,120.7 379.7,87.3 380.2,92.5 380.7,97.2 381.2,100.2 381.7,89.5 382.2,85 382.7,78.7 383.2,83.2 383.7,96 384.1,108.3 384.6,102.4 385.1,115.5 385.6,101.1 386.1,100.7 386.6,92.1 387.1,103.9 387.6,88.6 388.1,91.4 388.6,101.3 389.1,97.9 389.6,101.1 390.1,99.4 390.6,102.9 391.1,107.3 391.6,104 392.1,93.3 392.6,107.5 393.1,107 393.6,99.7 394,79.6 394.5,92.6 395,98.6 395.5,89.8 396,94.2 396.5,122.9 397,96.8 397.5,91.4 398,89.7 398.5,90.5 399,89.5 399.5,113.8 400,102.6 400.5,97 401,81.2 401.5,104.6 402,89.4 402.5,87.5 403,81.7 403.5,90.2 404,83.6 404.4,94.3 404.9,107 405.4,110.5 405.9,90.8 406.4,109.1 406.9,80.7 407.4,88.1 407.9,95.9 408.4,100.4 408.9,97.5 409.4,88.6 409.9,93.9 410.4,107.5 410.9,82.5 411.4,98.5 411.9,102.1 412.4,96.6 412.9,98.1 413.4,83.2 413.9,95.6 414.3,100.8 414.8,97.2 415.3,95 415.8,107.5 416.3,113.1 416.8,103.4 417.3,97.4 417.8,113.7 418.3,112.6 418.8,102.6 419.3,96.7 419.8,93.4 420.3,103.9 420.8,90.5 421.3,114 421.8,97.9 422.3,99.8 422.8,79 423.3,84.8 423.8,109.8 424.2,91.7 424.7,100.8 425.2,97.8 425.7,87.7 426.2,100.5 426.7,108.1 427.2,99.4 427.7,95.3 428.2,98.5 428.7,106.2 429.2,101.8 429.7,100.6 430.2,99.2 430.7,91.2 431.2,87.5 431.7,101.1 432.2,109.5 432.7,94.1 433.2,105.3 433.7,85.5 434.1,95 434.6,92.3 435.1,119.9 435.6,100.3 436.1,92.6 436.6,112.2 437.1,100.1 437.6,87.7 438.1,92.9 438.6,108.9 439.1,90.7 439.6,92.2 440.1,92.2 440.6,96 441.1,96.4 441.6,101.6 442.1,107.4 442.6,110.9 443.1,94.6 443.6,96.2 444,99.7 444.5,94.9 445,93.6 445.5,106.7 446,99.4 446.5,94 447,84.2 447.5,101.6 448,96.7 448.5,104.3 449,104.3 449.5,86.2 450,120.9 450.5,88.9 451,105 451.5,102.7 452,98.1 452.5,97.1 453,91.8 453.5,88.9 453.9,88.1 454.4,113.1 454.9,98.3 455.4,95 455.9,94.4 456.4,112 456.9,84.2 457.4,89.4 457.9,99 458.4,70.4 458.9,108.3 459.4,100.9 459.9,100.1 460.4,92.7 460.9,104.6 461.4,104.3 461.9,87.4 462.4,100.1 462.9,89 463.4,84.8 463.8,100.5 464.3,106.6 464.8,102.4 465.3,93 465.8,87.1 466.3,99.2 466.8,109.2 467.3,95.2 467.8,81.3 468.3,82.7 468.8,104 469.3,95.1 469.8,93.9 470.3,112.4 470.8,93.8 471.3,114.1 471.8,112.9 472.3,106.1 472.8,112.1 473.3,97.1 473.7,94.8 474.2,104.1 474.7,101.3 475.2,91.2 475.7,102.2 476.2,78.7 476.7,85.4 477.2,115.1 477.7,100.9 478.2,105.8 478.7,111 479.2,88.1 479.7,110.2 480.2,109.3 480.7,83.5 481.2,83.7 481.7,100.3 482.2,92.3 482.7,103 483.2,98.1 483.6,112.7 484.1,101.4 484.6,101.9 485.1,105.5 485.6,84.2 486.1,109.9 486.6,95.3 487.1,95.7 487.6,113.1 488.1,86.7 488.6,87.1 489.1,88 489.6,96.1 490.1,94.6 490.6,81.1 491.1,97.8 491.6,94.6 492.1,103.1 492.6,95.3 493.1,99.3 493.5,98.1 494,85.7 494.5,102.7 495,97.5 495.5,101.6 496,74.8 496.5,94.9 497,101.3 497.5,96.7 498,112.3 498.5,83.5 499,107.1 499.5,106.3 500,92.2 500.5,109.2 501,84.6 501.5,104.8 502,84.6 502.5,115.1 503,99.9 503.4,93.2 503.9,105 504.4,81.8 504.9,95.8 505.4,100.2 505.9,95.4 506.4,89.1 506.9,97.7 507.4,97.3 507.9,99.5 508.4,92.6 508.9,97.1 509.4,98.2 509.9,86.3 510.4,100.3 510.9,107.6 511.4,99.9 511.9,103 512.4,105.8 512.9,91.4 513.4,97.7 513.8,96.8 514.3,84.3 514.8,91.5 515.3,95.4 515.8,101.4 516.3,88.3 516.8,101.5 517.3,84.4 517.8,87.2 518.3,100 518.8,91.6 519.3,90.6 519.8,97.4 520.3,93.5 520.8,85 521.3,113.6 521.8,94.9 522.3,93.1 522.8,93.6 523.3,104.2 523.7,106.5 524.2,99.1 524.7,80.1 525.2,104.4 525.7,89.9 526.2,86.9 526.7,97.7 527.2,78.7 527.7,99.3 528.2,105 528.7,101.6 529.2,95.1 529.7,87.3 530.2,107.8 530.7,106.7 531.2,87 531.7,91.6 532.2,103.6 532.7,109.3 533.2,114.3 533.6,107 534.1,90.1 534.6,103.3 535.1,80.7 535.6,96.4 536.1,109.6 536.6,87.9 537.1,96.3 537.6,97.2 538.1,89.9 538.6,102.4 539.1,69.1 539.6,102.8 540.1,98.2 540.6,97 541.1,79 541.6,93.4 542.1,106 542.6,78.3 543.1,98.9 543.5,97.9 544,103.7 544.5,84.7 545,92.4 545.5,102.3 546,99.9 546.5,87.7 547,110.1 547.5,87.2 548,121.5 548.5,92.6 549,100.6 549.5,92.7 550,98.4 550.5,78 551,100 551.5,100.5 552,96.9 552.5,106.8 553,113 553.4,102.6 553.9,99.5 554.4,108.7 554.9,94.1 555.4,102.5 555.9,87.4 556.4,92.5 556.9,121 557.4,97.2 557.9,97.2 558.4,112.8 558.9,91.6 559.4,112 559.9,102 560.4,102.2 560.9,83.3 561.4,107.5 561.9,92.3 562.4,99.3 562.9,100.7 563.3,112.3 563.8,69.1 564.3,114.9 564.8,103 565.3,86.8 565.8,101 566.3,95.4 566.8,105.1 567.3,91.7 567.8,92.7 568.3,92.6 568.8,103.8 569.3,103.5 569.8,102.7 570.3,123.8 570.8,103 571.3,83.6 571.8,110.3 572.3,90 572.8,99.1 573.2,100.1 573.7,113 574.2,86.8 574.7,106 575.2,97.3 575.7,96.9 576.2,87.6 576.7,95.6 577.2,97.1 577.7,100.2 578.2,85.9 578.7,111.4 579.2,101 579.7,101.7 580.2,95 580.7,96.3 581.2,93.3 581.7,105.5 582.2,103.2 582.7,90.4 583.1,80.3 583.6,99.8 584.1,104.4 584.6,91.1 585.1,97.7 585.6,113.8 586.1,86.2 586.6,99.7 587.1,90.6 587.6,105 588.1,108.7 588.6,96.8 589.1,95.9 589.6,92.8 590.1,94 590.6,80.7 591.1,87.4 591.6,87.6 592.1,101.3 592.6,108.9 593,91.9 593.5,98 594,95.6 594.5,102.8 595,96 595.5,95 596,96.5 596.5,98.6 597,102.8 597.5,91.2 598,92.3 598.5,108.7 599,104.9 599.5,108.3 600,103.6 600.5,104 601,107.5 601.5,114.5 602,86.4 602.5,104.6 602.9,99.8 603.4,86 603.9,92.5 604.4,85.3 604.9,100.9 605.4,96.7 605.9,87.5 606.4,98.9 606.9,103.8 607.4,93.6 607.9,85.2 608.4,112.7 608.9,89 609.4,92.1 609.9,107.9 610.4,102.6 610.9,93.3 611.4,116.8 611.9,99.6 612.4,96.1 612.8,101.4 613.3,100.7 613.8,118.8 614.3,113.6 614.8,101.9 615.3,74.2 615.8,97.4 616.3,93.9 616.8,97 617.3,91.2 617.8,108.6 618.3,76.2 618.8,103.4 619.3,112.6 619.8,101.2 620.3,95.7 620.8,95.9 621.3,110.6 621.8,93.8 622.3,101 622.7,81.9 623.2,99.7 623.7,81.8 624.2,111.8 624.7,95.6 625.2,80.3 625.7,86.4 626.2,89.6 626.7,95.6 627.2,91.2 627.7,87.5"/><polyline fill="none" stroke="#6ed0e0" stroke-width="1.4" stroke-linejoin="round" points="51,92.3 51.5,111.1 52,100.4 52.5,109.2 53,106.9 53.5,105 54,88.9 54.5,91.3 55,104 55.5,122.2 56,113.3 56.4,87.3 56.9,84.4 57.4,97.8 57.9,93.5 58.4,96.9 58.9,85.2 59.4,106.8 59.9,97.6 60.4,109.9 60.9,108.5 61.4,97.7 61.9,94.8 62.4,104.5 62.9,90.4 63.4,92 63.9,96.7 64.4,109.4 64.9,101.7 65.4,112.4 65.9,100.7 66.3,91 66.8,115 67.3,101.9 67.8,98.7 68.3,101.2 68.8,106.8 69.3,89.6 69.8,90.3 70.3,84.6 70.8,100.5 71.3,89.2 71.8,88.2 72.3,109.9 72.8,115 73.3,102.4 73.8,89.9 74.3,96.8 74.8,109.1 75.3,108.4 75.8,111.1 76.2,94.4 76.7,109 77.2,105 77.7,102.3 78.2,75.6 78.7,89.6 79.2,97.3 79.7,99.5 80.2,113 80.7,93.1 81.2,108 81.7,118.4 82.2,101.6 82.7,96.5 83.2,98.6 83.7,106.1 84.2,101.4 84.7,105.3 85.2,108.1 85.7,108.8 86.1,100.6 86.6,119.5 87.1,93 87.6,85.1 88.1,90.1 88.6,113 89.1,97.1 89.6,75.1 90.1,82 90.6,99.5 91.1,98.7 91.6,95 92.1,74.3 92.6,98.5 93.1,108.4 93.6,87.6 94.1,91.7 94.6,98.2 95.1,98.8 95.6,91.1 96,97.1 96.5,94.7 97,92.1 97.5,94.5 98,89.5 98.5,83 99,92 99.5,96.8 100,98 100.5,82 101,91.8 101.5,95.9 102,106.2 102.5,105.5 103,91.6 103.5,108.4 104,99.5 104.5,94.1 105,100.9 105.5,107.4 105.9,90 106.4,103.7 106.9,92 107.4,107.1 107.9,99.4 108.4,90.9 108.9,108.1 109.4,122.2 109.9,72.9 110.4,101.8 110.9,97.1 111.4,119.6 111.9,99.9 112.4,100.8 112.9,94.2 113.4,108.5 113.9,105.4 114.4,89.4 114.9,101.9 115.4,100.5 115.8,108.8 116.3,95.5 116.8,88.3 117.3,94.7 117.8,104.3 118.3,99.2 118.8,92 119.3,103.3 119.8,97.9 120.3,96.9 120.8,92.1 121.3,99.8 121.8,97.5 122.3,84.9 122.8,96.9 123.3,102.6 123.8,87.8 124.3,96.5 124.8,109.1 125.3,86.8 125.7,107.4 126.2,103.8 126.7,76.1 127.2,102.2 127.7,100.9 128.2,100 128.7,103.5 129.2,99.6 129.7,106.2 130.2,99.1 130.7,105.9 131.2,85.5 131.7,93.9 132.2,102.6 132.7,100.9 133.2,102.1 133.7,110.6 134.2,100.7 134.7,85.7 135.2,84.4 135.6,81 136.1,82.3 136.6,112.9 137.1,104.7 137.6,88.5 138.1,113.1 138.6,93.3 139.1,97.8 139.6,98 140.1,99.2 140.6,96.9 141.1,87.1 141.6,97.4 142.1,106.8 142.6,108.5 143.1,99.4 143.6,99.4 144.1,82.2 144.6,107 145.1,98 145.5,89.4 146,89 146.5,100.7 147,84.1 147.5,113.7 148,90 148.5,83.5 149,92.7 149.5,104 150,101 150.5,113.7 151,96.7 151.5,102.2 152,86.9 152.5,115.8 153,94.1 153.5,110.4 154,96.5 154.5,98.4 155,103.9 155.4,102.3 155.9,107.9 156.4,96 156.9,91.9 157.4,94.5 157.9,107.2 158.4,85.7 158.9,85.8 159.4,91.1 159.9,91.7 160.4,88.2 160.9,109.7 161.4,92.8 161.9,110.3 162.4,81.7 162.9,106.8 163.4,98.4 163.9,84.2 164.4,107.9 164.9,81.5 165.3,81.1 165.8,97.6 166.3,90.6 166.8,104.2 167.3,92.7 167.8,96.7 168.3,111.3 168.8,80.9 169.3,122.2 169.8,84.9 170.3,95.6 170.8,104.9 171.3,95.7 171.8,80.9 172.3,101.1 172.8,76.6 173.3,84.3 173.8,96.6 174.3,103.5 174.8,93.2 175.3,102.4 175.7,103.3 176.2,97.4 176.7,93.3 177.2,83.1 177.7,103.8 178.2,82.5 178.7,114.6 179.2,91.9 179.7,99.1 180.2,78.5 180.7,78.2 181.2,105.2 181.7,106.9 182.2,110.2 182.7,96.3 183.2,109.2 183.7,102.4 184.2,91.5 184.7,100 185.2,91.5 185.6,93 186.1,98.5 186.6,84.4 187.1,106.6 187.6,105.2 188.1,98.9 188.6,97.7 189.1,92.9 189.6,98.8 190.1,95.2 190.6,88.9 191.1,81.1 191.6,82.9 192.1,87.1 192.6,93.3 193.1,94.8 193.6,89.7 194.1,106.7 194.6,107.9 195.1,72.4 195.5,92.1 196,109.1 196.5,94.8 197,97.6 197.5,84.3 198,115.1 198.5,88.8 199,88.5 199.5,97.4 200,103.8 200.5,107.7 201,94.1 201.5,99.6 202,94.1 202.5,89.9 203,96.3 203.5,98 204,108.2 204.5,87.5 205,99.5 205.4,114.3 205.9,91.6 206.4,96.3 206.9,90 207.4,90 207.9,113.2 208.4,91.1 208.9,98.4 209.4,90.8 209.9,100.1 210.4,95.1 210.9,83.4 211.4,96 211.9,99.2 212.4,115.3 212.9,94.8 213.4,90.8 213.9,97.5 214.4,97.9 214.9,84.9 215.3,100.2 215.8,95.2 216.3,117.3 216.8,94.2 217.3,104.9 217.8,92.9 218.3,115.5 218.8,91.6 219.3,100.7 219.8,87.1 220.3,83.3 220.8,96.5 221.3,110.6 221.8,90 222.3,96.3 222.8,103.6 223.3,102.4 223.8,106.7 224.3,102.2 224.8,84.8 225.2,90.2 225.7,101.6 226.2,93.4 226.7,110.9 227.2,99.9 227.7,101.6 228.2,94.1 228.7,97.8 229.2,102.5 229.7,95.7 230.2,92.9 230.7,101.2 231.2,90.9 231.7,103.9 232.2,90 232.7,103.2 233.2,110.6 233.7,114.6 234.2,105.5 234.7,89.1 235.1,104.3 235.6,100.5 236.1,102 236.6,101.4 237.1,107.7 237.6,91.4 238.1,97 238.6,100.3 239.1,117.7 239.6,105.3 240.1,96.9 240.6,96.6 241.1,99.1 241.6,99.8 242.1,102.4 242.6,105.5 243.1,88.4 243.6,115.5 244.1,98.1 244.6,102.3 245,104.1 245.5,105.1 246,95.8 246.5,84.8 247,96.7 247.5,94.1 248,86.6 248.5,97.4 249,108.1 249.5,108.3 250,87.9 250.5,93.7 251,89.5 251.5,98.4 252,102.1 252.5,91.2 253,114.4 253.5,86.5 254,92.2 254.5,111.7 254.9,99.1 255.4,106.3 255.9,90 256.4,89.6 256.9,99.3 257.4,110.6 257.9,96.2 258.4,100.6 258.9,92.7 259.4,93.4 259.9,99.6 260.4,96.4 260.9,102.9 261.4,96.5 261.9,111.5 262.4,107.9 262.9,107.5 263.4,83.6 263.9,110.3 264.4,86.3 264.8,90.2 265.3,96.7 265.8,99.2 266.3,105.8 266.8,108.5 267.3,108.8 267.8,103.4 268.3,88 268.8,96.7 269.3,98.2 269.8,86.8 270.3,97 270.8,95.8 271.3,82 271.8,91.6 272.3,91.9 272.8,100.9 273.3,97.6 273.8,114.3 274.3,100.7 274.7,101.7 275.2,93.5 275.7,95 276.2,105.3 276.7,100.1 277.2,107.8 277.7,104.4 278.2,99 278.7,101.6 279.2,100.7 279.7,95.5 280.2,109.7 280.7,97.6 281.2,104.3 281.7,95.9 282.2,121.1 282.7,110.4 283.2,96.2 283.7,106.5 284.2,86.1 284.7,104.5 285.1,103.8 285.6,93.8 286.1,85.5 286.6,105.6 287.1,96.3 287.6,89.1 288.1,110.2 288.6,88.7 289.1,108.3 289.6,115.8 290.1,102.4 290.6,93.1 291.1,90.7 291.6,93.8 292.1,102 292.6,99.8 293.1,89.4 293.6,87.1 294.1,91.3 294.6,88.3 295,102.7 295.5,103.6 296,94.9 296.5,104.3 297,90.4 297.5,98 298,102 298.5,89.8 299,89.6 299.5,98.1 300,111 300.5,103.4 301,90.9 301.5,88.4 302,99.5 302.5,113.9 303,111.7 303.5,91.5 304,107.9 304.5,95.8 304.9,100.3 305.4,112.6 305.9,83 306.4,90.6 306.9,87.8 307.4,109.7 307.9,90.8 308.4,97.3 308.9,99 309.4,74.3 309.9,96.4 310.4,101.4 310.9,95.6 311.4,98.8 311.9,105.6 312.4,93.3 312.9,102.1 313.4,99.3 313.9,86.3 314.4,103.2 314.8,106.3 315.3,104.2 315.8,94.4 316.3,98.6 316.8,74.9 317.3,109.5 317.8,108 318.3,92.5 318.8,101.5 319.3,96.9 319.8,89.2 320.3,99.4 320.8,99.9 321.3,94.4 321.8,110.6 322.3,97.7 322.8,85 323.3,98.3 323.8,91.1 324.3,100.6 324.7,101.7 325.2,95.4 325.7,94 326.2,73.3 326.7,112.7 327.2,95.2 327.7,98.5 328.2,104.9 328.7,93 329.2,100.7 329.7,119.1 330.2,104.3 330.7,104.7 331.2,90.9 331.7,90.4 332.2,94.8 332.7,103.4 333.2,104.3 333.7,106.8 334.2,83.3 334.6,94.7 335.1,109.4 335.6,92.3 336.1,101.1 336.6,85.6 337.1,98.6 337.6,112.8 338.1,113 338.6,79 339.1,93.7 339.6,84.6 340.1,85.8 340.6,107.9 341.1,100.8 341.6,119 342.1,109.2 342.6,91.2 343.1,96.9 343.6,99.3 344.1,88.2 344.5,98.3 345,95.5 345.5,105.3 346,104.3 346.5,99.8 347,92.6 347.5,104.9 348,104.6 348.5,98.7 349,104.2 349.5,87.5 350,92.3 350.5,91 351,100.2 351.5,94 352,95.2 352.5,86.9 353,101.7 353.5,108.5 354,88 354.4,101.7 354.9,84.5 355.4,101.5 355.9,101.4 356.4,93.9 356.9,91.2 357.4,103.3 357.9,97.3 358.4,101.3 358.9,93.3 359.4,88.2 359.9,77.9 360.4,99.3 360.9,109.8 361.4,95.9 361.9,96.4 362.4,104.9 362.9,93.4 363.4,93.2 363.9,81.5 364.3,104.8 364.8,92.7 365.3,103.6 365.8,97.5 366.3,100.6 366.8,93.9 367.3,101.3 367.8,96.5 368.3,96.1 368.8,116.6 369.3,105.7 369.8,100.3 370.3,105.1 370.8,94 371.3,94.4 371.8,106.9 372.3,95 372.8,105.2 373.3,105.2 373.8,93.9 374.2,102.6 374.7,97.2 375.2,90.5 375.7,99.2 376.2,85.5 376.7,96.4 377.2,92 377.7,97.7 378.2,118.2 378.7,93.2 379.2,109 379.7,92.7 380.2,91.4 380.7,97.9 381.2,97.4 381.7,97.8 382.2,96 382.7,84.4 383.2,99.1 383.7,109.1 384.1,92 384.6,106.2 385.1,99.2 385.6,102.6 386.1,91.4 386.6,112.2 387.1,104.4 387.6,102.6 388.1,77.4 388.6,105.4 389.1,94.9 389.6,101.4 390.1,94.9 390.6,110.5 391.1,93.8 391.6,95.4 392.1,89 392.6,93.6 393.1,107 393.6,95.9 394,114.5 394.5,92.2 395,93.1 395.5,102.5 396,95.7 396.5,117.5 397,106 397.5,100.6 398,103.1 398.5,72.4 399,98.2 399.5,85.9 400,95.5 400.5,91.2 401,81.8 401.5,107.8 402,104.7 402.5,100.9 403,74.5 403.5,96.4 404,93.3 404.4,102.5 404.9,85 405.4,98.8 405.9,103.3 406.4,103.8 406.9,96.2 407.4,94.5 407.9,105.2 408.4,112.4 408.9,97.7 409.4,104.8 409.9,105.5 410.4,94.1 410.9,113.3 411.4,110.8 411.9,78.5 412.4,95.8 412.9,99 413.4,87.4 413.9,108.8 414.3,102.1 414.8,105.3 415.3,99 415.8,112.5 416.3,90.2 416.8,85.6 417.3,94.5 417.8,91.8 418.3,104.8 418.8,89.9 419.3,84.4 419.8,106.7 420.3,112.1 420.8,79.5 421.3,93.6 421.8,105 422.3,97.8 422.8,99.5 423.3,103 423.8,105.9 424.2,98.7 424.7,89.9 425.2,108.8 425.7,103.2 426.2,101.5 426.7,110.5 427.2,90.4 427.7,111.2 428.2,90.5 428.7,84.8 429.2,102.9 429.7,72.5 430.2,89.3 430.7,101.4 431.2,102.3 431.7,105.2 432.2,115.5 432.7,104.2 433.2,90.5 433.7,102.3 434.1,104.9 434.6,84.7 435.1,97.6 435.6,101.2 436.1,111.9 436.6,106.9 437.1,104.7 437.6,90.4 438.1,116.4 438.6,97.9 439.1,104.5 439.6,103.1 440.1,100.1 440.6,92.9 441.1,109.1 441.6,109.1 442.1,94.3 442.6,88.5 443.1,91 443.6,101.9 444,94.5 444.5,95.8 445,91.7 445.5,105.9 446,90.7 446.5,95.9 447,88.3 447.5,81.1 448,110.6 448.5,100.1 449,99.3 449.5,92.2 450,98.8 450.5,97.5 451,85.5 451.5,108.3 452,114.3 452.5,106.1 453,88.8 453.5,86.5 453.9,108.4 454.4,95.5 454.9,111.5 455.4,107 455.9,109.2 456.4,101.4 456.9,78.4 457.4,97 457.9,98.6 458.4,88.7 458.9,106.2 459.4,97.5 459.9,94.4 460.4,91.6 460.9,95.3 461.4,108.3 461.9,88.2 462.4,92.2 462.9,110.2 463.4,101.1 463.8,114.1 464.3,75.9 464.8,84.4 465.3,122.2 465.8,110.7 466.3,104.8 466.8,93.7 467.3,91.1 467.8,79.9 468.3,106.2 468.8,83.4 469.3,107.1 469.8,109.3 470.3,98.9 470.8,109.9 471.3,97 471.8,107.6 472.3,105.5 472.8,110.8 473.3,99.6 473.7,96.5 474.2,84 474.7,102.6 475.2,82.1 475.7,101.7 476.2,105.2 476.7,92.8 477.2,79.7 477.7,87 478.2,96.8 478.7,92.4 479.2,103.1 479.7,104.6 480.2,102.9 480.7,93.1 481.2,84.2 481.7,83.3 482.2,85.9 482.7,95.2 483.2,106.6 483.6,93.3 484.1,93.9 484.6,105.9 485.1,81.7 485.6,103.3 486.1,94.1 486.6,92.4 487.1,96.8 487.6,95 488.1,107.1 488.6,83.4 489.1,88 489.6,106.6 490.1,99 490.6,113.1 491.1,103.8 491.6,105.5 492.1,104 492.6,104.8 493.1,100.4 493.5,99.4 494,105.1 494.5,97.5 495,101.5 495.5,82.1 496,91 496.5,100.2 497,104.2 497.5,77.3 498,86.8 498.5,97.7 499,93.6 499.5,108.1 500,92.9 500.5,98.2 501,93.2 501.5,88.9 502,94.9 502.5,87.4 503,107.3 503.4,101.1 503.9,114.8 504.4,107.4 504.9,88.7 505.4,78.8 505.9,91.3 506.4,90.2 506.9,100.7 507.4,101.4 507.9,115.8 508.4,116.9 508.9,98.9 509.4,82.4 509.9,102.6 510.4,106.7 510.9,92 511.4,107.3 511.9,98.6 512.4,108.8 512.9,94 513.4,90.1 513.8,87.8 514.3,87.7 514.8,96.3 515.3,98.7 515.8,105.4 516.3,99.9 516.8,107.9 517.3,100 517.8,106.5 518.3,110.8 518.8,100.9 519.3,88.5 519.8,94.6 520.3,96.1 520.8,105.4 521.3,97 521.8,89.3 522.3,94.5 522.8,94.5 523.3,93.9 523.7,89.9 524.2,101.6 524.7,100.3 525.2,98.7 525.7,88.5 526.2,91.5 526.7,98.5 527.2,99.4 527.7,108.4 528.2,100.2 528.7,96.3 529.2,95.7 529.7,94.4 530.2,91.3 530.7,91 531.2,75.1 531.7,91.9 532.2,92.5 532.7,78.1 533.2,109 533.6,93.7 534.1,92.6 534.6,100.6 535.1,111.3 535.6,101.6 536.1,86.4 536.6,97.5 537.1,103.5 537.6,86.9 538.1,109.6 538.6,89 539.1,104.4 539.6,97.3 540.1,96.8 540.6,90.4 541.1,97.6 541.6,111.9 542.1,102.3 542.6,92.8 543.1,98.7 543.5,98.7 544,103 544.5,87.8 545,106.9 545.5,93.4 546,109.4 546.5,92.5 547,96.3 547.5,102.9 548,108.5 548.5,95.1 549,98.9 549.5,105.6 550,111.3 550.5,100.4 551,105.8 551.5,91.2 552,99.5 552.5,103.7 553,76.9 553.4,83.2 553.9,104.9 554.4,99.6 554.9,101 555.4,93.2 555.9,101.9 556.4,86.7 556.9,113.1 557.4,99 557.9,102.6 558.4,92 558.9,94.8 559.4,85.2 559.9,88.1 560.4,104.2 560.9,103.6 561.4,98.7 561.9,79.1 562.4,73.7 562.9,108 563.3,98.6 563.8,97.2 564.3,97.3 564.8,80.4 565.3,94.1 565.8,85.5 566.3,113.6 566.8,94.6 567.3,92.7 567.8,87.6 568.3,103.6 568.8,105.8 569.3,107.2 569.8,98.1 570.3,82.1 570.8,107.4 571.3,110.8 571.8,89.3 572.3,86.3 572.8,111 573.2,82.1 573.7,83.5 574.2,104 574.7,112.6 575.2,88.1 575.7,108.1 576.2,99.3 576.7,118 577.2,112.5 577.7,115.6 578.2,107.6 578.7,97 579.2,106.9 579.7,100.6 580.2,94.6 580.7,102.7 581.2,91.6 581.7,103.7 582.2,91.1 582.7,99.8 583.1,107.6 583.6,103.8 584.1,100.7 584.6,101.9 585.1,111.1 585.6,114.3 586.1,109.4 586.6,111.6 587.1,82.6 587.6,96.6 588.1,105.9 588.6,98.4 589.1,97.9 589.6,87.9 590.1,100.1 590.6,98.4 591.1,95.5 591.6,92.7 592.1,97 592.6,93.7 593,97 593.5,96.8 594,101.1 594.5,114.2 595,95.5 595.5,98.5 596,94.4 596.5,98.9 597,105.6 597.5,97 598,73.4 598.5,87 599,97.9 599.5,83.7 600,98.7 600.5,106 601,93.7 601.5,93.4 602,85.9 602.5,89.6 602.9,118.5 603.4,90.2 603.9,114.6 604.4,99.5 604.9,96.8 605.4,114.2 605.9,87.4 606.4,86.1 606.9,101.8 607.4,105 607.9,110.9 608.4,96.6 608.9,93.2 609.4,93.6 609.9,101.6 610.4,92.8 610.9,99.4 611.4,102.5 611.9,99 612.4,96.3 612.8,85.3 613.3,102.7 613.8,101.5 614.3,97.5 614.8,106.9 615.3,113.3 615.8,85.8 616.3,113.3 616.8,89.7 617.3,99.5 617.8,104 618.3,97.1 618.8,96.6 619.3,93.7 619.8,97.7 620.3,97.5 620.8,93.9 621.3,104 621.8,112.6 622.3,91.2 622.7,103.7 623.2,121.3 623.7,82.8 624.2,102.6 624.7,71.9 625.2,101.3 625.7,96.8 626.2,103.6 626.7,99.2 627.2,94 627.7,82"/></svg>
<div class="a" style="top:42px;will-change:transform;transform:translateY(0.70px) rotate(0.001deg);right:610.4px;text-align:right;letter-spacing:-0.45px;">2.00%</div>
<div class="a" style="top:127px;will-change:transform;transform:translateY(0.10px) rotate(0.001deg);right:610.4px;text-align:right;letter-spacing:-0.45px;">1.00%</div>
<div class="a" style="top:211px;will-change:transform;transform:translateY(0.50px) rotate(0.001deg);right:610.4px;text-align:right;letter-spacing:-0.45px;">0%</div>
<div class="a" style="top:226px;left:70px;width:120px;margin-left:-60px;text-align:center;letter-spacing:-0.25px;">20:00</div>
<div class="a" style="top:226px;left:189px;width:120px;margin-left:-60px;text-align:center;letter-spacing:-0.25px;">00:00</div>
<div class="a" style="top:226px;left:307.1px;width:120px;margin-left:-60px;text-align:center;letter-spacing:-0.25px;">04:00</div>
<div class="a" style="top:226px;left:425.2px;width:120px;margin-left:-60px;text-align:center;letter-spacing:-0.25px;">08:00</div>
<div class="a" style="top:226px;left:543.4px;width:120px;margin-left:-60px;text-align:center;letter-spacing:-0.25px;">12:00</div>
<div class="lh" style="top:252.1px;right:132.7px;text-align:right;">min</div>
<div class="lh" style="top:252.1px;right:79.2px;text-align:right;">max</div>
<div class="lh" style="top:252.1px;right:30.7px;text-align:right;">avg<svg class="caret" width="8.4" height="6" viewBox="0 0 8.4 6"><path d="M0.8 1 4.2 4.4 7.6 1" fill="none" stroke="#33a2e5" stroke-width="1.5"/></svg></div>
<div class="sw" style="left:17px;top:284px;background:#6ed0e0;color:#6ed0e0"></div>
<div class="t" style="top:277px;will-change:transform;transform:translateY(0.50px) rotate(0.001deg);left:43.5px;">mysql4</div>
<div class="t" style="top:277px;will-change:transform;transform:translateY(0.50px) rotate(0.001deg);right:124px;text-align:right;letter-spacing:-0.45px;">1.15%</div>
<div class="t" style="top:277px;will-change:transform;transform:translateY(0.50px) rotate(0.001deg);right:70.9px;text-align:right;letter-spacing:-0.45px;">1.81%</div>
<div class="t" style="top:277px;will-change:transform;transform:translateY(0.50px) rotate(0.001deg);right:17.7px;text-align:right;letter-spacing:-0.45px;">1.44%</div>
<div class="alt" style="left:14.8px;top:299px;width:625px"></div>
<div class="sw" style="left:17px;top:312px;background:#eab839;color:#eab839"></div>
<div class="t" style="top:305px;will-change:transform;transform:translateY(0.50px) rotate(0.001deg);left:43.5px;">mysql3</div>
<div class="t" style="top:305px;will-change:transform;transform:translateY(0.50px) rotate(0.001deg);right:124px;text-align:right;letter-spacing:-0.45px;">1.11%</div>
<div class="t" style="top:305px;will-change:transform;transform:translateY(0.50px) rotate(0.001deg);right:70.9px;text-align:right;letter-spacing:-0.45px;">1.78%</div>
<div class="t" style="top:305px;will-change:transform;transform:translateY(0.50px) rotate(0.001deg);right:17.7px;text-align:right;letter-spacing:-0.45px;">1.44%</div>
<div class="sw" style="left:17px;top:340px;background:#ef843c;color:#ef843c"></div>
<div class="t" style="top:333px;will-change:transform;transform:translateY(0.50px) rotate(0.001deg);left:43.5px;">mysql2</div>
<div class="t" style="top:333px;will-change:transform;transform:translateY(0.50px) rotate(0.001deg);right:124px;text-align:right;letter-spacing:-0.45px;">0.53%</div>
<div class="t" style="top:333px;will-change:transform;transform:translateY(0.50px) rotate(0.001deg);right:70.9px;text-align:right;letter-spacing:-0.45px;">0.82%</div>
<div class="t" style="top:333px;will-change:transform;transform:translateY(0.50px) rotate(0.001deg);right:17.7px;text-align:right;letter-spacing:-0.45px;">0.68%</div>
</div>
<div class="panel" style="left:1332.3px;top:413px;width:655px;height:362px">
<div class="title">Avg Query Latency per Node</div>
<svg class="plot" width="655" height="362" viewBox="0 0 655 362"><g fill="#3a3d41"><rect x="68.9" y="49.6" width="558.8" height="1"/><rect x="68.9" y="91.7" width="558.8" height="1"/><rect x="68.9" y="133.8" width="558.8" height="1"/><rect x="68.9" y="175.9" width="558.8" height="1"/><rect x="68.9" y="218" width="558.8" height="1"/><rect x="87.6" y="50.1" width="1" height="168.4"/><rect x="202.3" y="50.1" width="1" height="168.4"/><rect x="317" y="50.1" width="1" height="168.4"/><rect x="431.8" y="50.1" width="1" height="168.4"/><rect x="546.5" y="50.1" width="1" height="168.4"/></g><polyline fill="none" stroke="#7eb26d" stroke-width="1.4" stroke-linejoin="round" points="68.9,216.4 69.4,217 69.9,216.8 70.3,216.8 70.8,216.7 71.3,217.2 71.8,217.1 72.3,217.2 72.7,216.6 73.2,216.7 73.7,217.1 74.2,217.1 74.7,216.8 75.1,216.3 75.6,216.9 76.1,217.1 76.6,217.2 77.1,217.1 77.5,216.8 78,217.2 78.5,216.7 79,216.7 79.5,217.2 79.9,216.8 80.4,216.7 80.9,216.7 81.4,217.1 81.9,217 82.3,217 82.8,216.6 83.3,217.2 83.8,217.1 84.2,217 84.7,216.6 85.2,216.8 85.7,216.9 86.2,216.8 86.6,216.1 87.1,216.9 87.6,217.1 88.1,216.7 88.6,217.1 89,217 89.5,217.2 90,217.2 90.5,216.9 91,216.8 91.4,216.8 91.9,216.9 92.4,216.8 92.9,217.1 93.4,217.2 93.8,217.1 94.3,216.8 94.8,216.8 95.3,216.5 95.8,217.1 96.2,216.6 96.7,216.8 97.2,217.2 97.7,216.9 98.2,216.8 98.6,216.9 99.1,216.9 99.6,217.2 100.1,217.2 100.6,216.1 101,216.8 101.5,217.2 102,216.8 102.5,216.7 103,217 103.4,216.2 103.9,216.8 104.4,216.7 104.9,216.8 105.4,216.9 105.8,217.1 106.3,217.1 106.8,217 107.3,217.2 107.8,216.8 108.2,216.9 108.7,216.5 109.2,216.9 109.7,216.9 110.2,217.2 110.6,217 111.1,216.7 111.6,217.1 112.1,216.9 112.5,217.2 113,217.1 113.5,216.5 114,216.6 114.5,217 114.9,216.7 115.4,216.6 115.9,217 116.4,217.1 116.9,217.2 117.3,217 117.8,217.1 118.3,216.3 118.8,217 119.3,217.2 119.7,216.9 120.2,216.9 120.7,216.9 121.2,216.2 121.7,216.9 122.1,215.9 122.6,216.2 123.1,216.9 123.6,216.8 124.1,217 124.5,216.8 125,217.2 125.5,216.3 126,217.2 126.5,217 126.9,217.2 127.4,217 127.9,217.1 128.4,217.2 128.9,216.9 129.3,216.3 129.8,217.2 130.3,216.7 130.8,216.7 131.3,216.9 131.7,216.7 132.2,216.9 132.7,217 133.2,217.1 133.7,216.8 134.1,216.8 134.6,216.9 135.1,217.2 135.6,217 136.1,216.9 136.5,217.2 137,217.1 137.5,216.5 138,217.2 138.5,216.5 138.9,217 139.4,217.2 139.9,217.2 140.4,217.2 140.8,216.3 141.3,216.6 141.8,217 142.3,217 142.8,216.8 143.2,217 143.7,216.9 144.2,216.9 144.7,217.1 145.2,217.1 145.6,217.2 146.1,216.7 146.6,217 147.1,216.5 147.6,216.5 148,217 148.5,217.1 149,216.6 149.5,216.7 150,216.7 150.4,216.8 150.9,217.2 151.4,217.2 151.9,216.9 152.4,217.1 152.8,217.1 153.3,216.9 153.8,217.2 154.3,217.1 154.8,216.4 155.2,217.2 155.7,217.1 156.2,216.4 156.7,217.1 157.2,216.9 157.6,215.9 158.1,217.1 158.6,216.7 159.1,216.6 159.6,217 160,216.7 160.5,217 161,217 161.5,216.3 162,217.1 162.4,216.8 162.9,217 163.4,217.1 163.9,217.2 164.4,217.1 164.8,216.7 165.3,217 165.8,216.8 166.3,216.9 166.7,217 167.2,217.2 167.7,216.6 168.2,216.7 168.7,216.6 169.1,216.7 169.6,217.2 170.1,217 170.6,216.6 171.1,216.8 171.5,216.9 172,217.2 172.5,216.9 173,216.9 173.5,217 173.9,217 174.4,217.2 174.9,216.8 175.4,216.9 175.9,217.2 176.3,217.1 176.8,216.1 177.3,217 177.8,216.7 178.3,216.8 178.7,216.6 179.2,217.1 179.7,216.8 180.2,217.2 180.7,216.7 181.1,217 181.6,217 182.1,217.1 182.6,217 183.1,217.2 183.5,217 184,216.7 184.5,217 185,216.3 185.5,217 185.9,216.9 186.4,217 186.9,216.9 187.4,217.2 187.9,217.1 188.3,216.8 188.8,216.8 189.3,216.9 189.8,216.8 190.3,216.9 190.7,216.5 191.2,216.8 191.7,217 192.2,216.9 192.7,216.6 193.1,217.2 193.6,216.8 194.1,217.2 194.6,216.5 195,217.1 195.5,217 196,217.1 196.5,217.2 197,217.2 197.4,216.7 197.9,216.6 198.4,217.2 198.9,217.2 199.4,217 199.8,216.9 200.3,217.1 200.8,216.6 201.3,217.2 201.8,216.9 202.2,217 202.7,217 203.2,216.2 203.7,216.5 204.2,217.2 204.6,216.8 205.1,216.6 205.6,216.8 206.1,217 206.6,217.1 207,217.1 207.5,217 208,217.1 208.5,217.1 209,217.1 209.4,217.1 209.9,216.5 210.4,216.9 210.9,217 211.4,217 211.8,216.7 212.3,217.2 212.8,217.2 213.3,217.1 213.8,217.2 214.2,217.2 214.7,217.2 215.2,217 215.7,216.9 216.2,216.6 216.6,217 217.1,217.1 217.6,217 218.1,216.7 218.6,217 219,217 219.5,217.2 220,217 220.5,217.1 221,216.5 221.4,216.8 221.9,217 222.4,216.8 222.9,217 223.3,217.2 223.8,216.9 224.3,216.8 224.8,216.9 225.3,217.1 225.7,217.1 226.2,217.2 226.7,216.8 227.2,217.2 227.7,217.2 228.1,216.8 228.6,216.9 229.1,216.8 229.6,217 230.1,217.1 230.5,216.9 231,217.2 231.5,216.5 232,216.7 232.5,216.8 232.9,216.8 233.4,217.1 233.9,216.7 234.4,216.8 234.9,216.9 235.3,216.4 235.8,217.1 236.3,217.2 236.8,217 237.3,217.1 237.7,217.1 238.2,216.4 238.7,217.2 239.2,217.2 239.7,217.1 240.1,216.7 240.6,216.9 241.1,216.7 241.6,216.6 242.1,217.1 242.5,216.7 243,217 243.5,216.6 244,217.1 244.5,217.2 244.9,217.2 245.4,216.1 245.9,217.1 246.4,217.2 246.9,216.3 247.3,216.3 247.8,217.1 248.3,217 248.8,217 249.3,216.5 249.7,216.7 250.2,217.2 250.7,216.9 251.2,216.9 251.6,217 252.1,217.1 252.6,217.2 253.1,216.9 253.6,217.1 254,217 254.5,217.1 255,216.7 255.5,215.9 256,216.9 256.4,216.5 256.9,216.8 257.4,217 257.9,216.9 258.4,216.7 258.8,217.2 259.3,216.7 259.8,217.2 260.3,217.2 260.8,216.6 261.2,217 261.7,217 262.2,216.9 262.7,217 263.2,217.1 263.6,217.2 264.1,216.8 264.6,216.7 265.1,217.1 265.6,217.2 266,217.2 266.5,216.7 267,216.5 267.5,217 268,217.2 268.4,216.9 268.9,216.8 269.4,217.1 269.9,216.9 270.4,217.2 270.8,216.3 271.3,217.2 271.8,217.2 272.3,217.1 272.8,216.9 273.2,217.1 273.7,216.3 274.2,216.3 274.7,217.2 275.2,216.8 275.6,216.9 276.1,216.8 276.6,217 277.1,217.2 277.6,216.6 278,217 278.5,217.1 279,217.1 279.5,217.1 279.9,217.1 280.4,217 280.9,217 281.4,217.2 281.9,216.6 282.3,216.7 282.8,217.1 283.3,217.2 283.8,216.5 284.3,217.1 284.7,217.1 285.2,217.1 285.7,216.7 286.2,216.9 286.7,216.9 287.1,217 287.6,216.8 288.1,217 288.6,217.2 289.1,216.5 289.5,217.1 290,216.6 290.5,216.6 291,217 291.5,216.8 291.9,217 292.4,217 292.9,217 293.4,217.2 293.9,216.7 294.3,216.8 294.8,217.1 295.3,216.8 295.8,216.5 296.3,217.2 296.7,216.8 297.2,217 297.7,217.2 298.2,216.7 298.7,217.1 299.1,217 299.6,216.9 300.1,217 300.6,217.1 301.1,217.1 301.5,216.8 302,216.6 302.5,217.1 303,216.6 303.5,216.6 303.9,217 304.4,216.4 304.9,216.6 305.4,217.1 305.9,216.9 306.3,216.4 306.8,216.5 307.3,216.6 307.8,217 308.2,216.9 308.7,217.2 309.2,217.2 309.7,216.7 310.2,217.1 310.6,217.1 311.1,216.7 311.6,216.6 312.1,216.9 312.6,216.9 313,217.2 313.5,217.1 314,217.1 314.5,216.6 315,216.1 315.4,217 315.9,216.8 316.4,216.8 316.9,216.9 317.4,216.6 317.8,216.9 318.3,216.8 318.8,217.1 319.3,217.1 319.8,217 320.2,217 320.7,216.9 321.2,216.7 321.7,216.8 322.2,217.1 322.6,217.2 323.1,216.4 323.6,217.1 324.1,217 324.6,216.7 325,217.2 325.5,217 326,217.2 326.5,217.1 327,216.9 327.4,216.7 327.9,217 328.4,217 328.9,216.7 329.4,217 329.8,216.4 330.3,217 330.8,217.1 331.3,217.2 331.8,216.7 332.2,217.2 332.7,216.7 333.2,217 333.7,216.7 334.2,217.1 334.6,217 335.1,216.8 335.6,216.6 336.1,216.9 336.5,216.8 337,216.8 337.5,217 338,216.9 338.5,216.6 338.9,217.2 339.4,216.9 339.9,216.9 340.4,216.7 340.9,217 341.3,217.2 341.8,216.6 342.3,216.8 342.8,216.7 343.3,217.1 343.7,216.8 344.2,216.9 344.7,216.8 345.2,216.9 345.7,217.1 346.1,217.1 346.6,216.9 347.1,217.1 347.6,216.4 348.1,217.1 348.5,216.8 349,216.9 349.5,216.2 350,216.8 350.5,216.9 350.9,217.1 351.4,216.6 351.9,216.7 352.4,217.1 352.9,217.1 353.3,216.9 353.8,216.9 354.3,216.9 354.8,216.8 355.3,217 355.7,217.1 356.2,216.9 356.7,216.7 357.2,216.6 357.7,217.2 358.1,217.1 358.6,217 359.1,216.9 359.6,217.2 360.1,216.8 360.5,216.9 361,216.4 361.5,217 362,217.2 362.4,217 362.9,216.6 363.4,217 363.9,216.6 364.4,217 364.8,216.9 365.3,216.7 365.8,217 366.3,216.5 366.8,216.9 367.2,217.2 367.7,217.1 368.2,217 368.7,216.7 369.2,216.9 369.6,217.1 370.1,216.6 370.6,216.9 371.1,217.1 371.6,217.2 372,216.9 372.5,216.9 373,217.1 373.5,216.7 374,217.1 374.4,216 374.9,216.8 375.4,216.9 375.9,217.1 376.4,217 376.8,217.1 377.3,216.9 377.8,217.1 378.3,217 378.8,216.8 379.2,217.1 379.7,217.2 380.2,216.6 380.7,217.2 381.2,216.3 381.6,216.9 382.1,215.9 382.6,216.6 383.1,216.8 383.6,216.7 384,217.2 384.5,216.7 385,217.2 385.5,217 386,217.1 386.4,216.9 386.9,216.9 387.4,216.9 387.9,216.5 388.4,216.8 388.8,217.1 389.3,217.1 389.8,217.2 390.3,216 390.7,216.8 391.2,217.1 391.7,216.6 392.2,217 392.7,217.2 393.1,217.1 393.6,217.1 394.1,217.2 394.6,216.6 395.1,217.2 395.5,216.7 396,216.5 396.5,216.9 397,216.5 397.5,217 397.9,216.6 398.4,216.9 398.9,216.7 399.4,217.1 399.9,217 400.3,217 400.8,216.8 401.3,217.1 401.8,216.8 402.3,217 402.7,217 403.2,216.9 403.7,217.1 404.2,216.5 404.7,217.1 405.1,217.2 405.6,216.7 406.1,216.8 406.6,216.6 407.1,217.2 407.5,217 408,216.8 408.5,216.4 409,217 409.5,216.7 409.9,217.2 410.4,217 410.9,217.1 411.4,217.1 411.9,216.5 412.3,217.2 412.8,217.1 413.3,216.8 413.8,217.1 414.3,216.8 414.7,217.1 415.2,216.5 415.7,217.1 416.2,217.1 416.7,217.1 417.1,217 417.6,217 418.1,216.5 418.6,217.1 419,216.8 419.5,216.7 420,216.9 420.5,216.4 421,217.1 421.4,217 421.9,216.8 422.4,216.7 422.9,216.8 423.4,216.9 423.8,217.2 424.3,216.8 424.8,216.9 425.3,217.1 425.8,216.1 426.2,216.6 426.7,216.8 427.2,216.8 427.7,217.2 428.2,217.1 428.6,216.7 429.1,216.8 429.6,216.7 430.1,216.8 430.6,216.5 431,216.9 431.5,217.1 432,217.2 432.5,217.2 433,217.1 433.4,217.1 433.9,217.2 434.4,217.1 434.9,217 435.4,216.7 435.8,216.6 436.3,216.9 436.8,216.9 437.3,216.2 437.8,216.4 438.2,216.9 438.7,217 439.2,216.4 439.7,217.1 440.2,217.2 440.6,217.2 441.1,217.1 441.6,217.2 442.1,217 442.6,217 443,217 443.5,216.7 444,216.9 444.5,217.1 445,217 445.4,217 445.9,217.2 446.4,216.8 446.9,216.6 447.3,217.1 447.8,216.8 448.3,216.9 448.8,217.2 449.3,217.2 449.7,217.2 450.2,217.2 450.7,216.9 451.2,217 451.7,217.2 452.1,217.1 452.6,217.1 453.1,216.4 453.6,216.4 454.1,216.8 454.5,217 455,217 455.5,217.1 456,217.1 456.5,216.9 456.9,216.8 457.4,216.4 457.9,217.1 458.4,216.4 458.9,216.2 459.3,217.2 459.8,217.1 460.3,217 460.8,216.8 461.3,217.1 461.7,216.7 462.2,216.5 462.7,216.9 463.2,217.1 463.7,216.9 464.1,217.1 464.6,216.7 465.1,216.8 465.6,217.1 466.1,217.1 466.5,216.5 467,216.3 467.5,217.1 468,217.2 468.5,216.1 468.9,216.7 469.4,216.9 469.9,217.1 470.4,217.2 470.9,217.2 471.3,217 471.8,216.9 472.3,216.6 472.8,217.2 473.3,216.8 473.7,217.1 474.2,216.4 474.7,215.8 475.2,216.6 475.6,216.2 476.1,216.6 476.6,216.7 477.1,217.2 477.6,217.1 478,217.1 478.5,216.5 479,216.9 479.5,217 480,216.5 480.4,217 480.9,216.8 481.4,217.1 481.9,216.4 482.4,216.9 482.8,216.9 483.3,217.2 483.8,217.1 484.3,217.1 484.8,216.9 485.2,217.2 485.7,216.9 486.2,217 486.7,217 487.2,217.1 487.6,217 488.1,216.9 488.6,216.5 489.1,217.1 489.6,217.1 490,217 490.5,216.3 491,217.2 491.5,216.7 492,216.8 492.4,216.8 492.9,216.3 493.4,217.2 493.9,217.2 494.4,216.8 494.8,217.2 495.3,217 495.8,216.9 496.3,217.2 496.8,216.8 497.2,217.1 497.7,217.2 498.2,216.9 498.7,217.2 499.2,216.6 499.6,216.9 500.1,216.9 500.6,217 501.1,217.2 501.6,216.5 502,217.1 502.5,217.1 503,217.1 503.5,216.9 503.9,217.1 504.4,216.9 504.9,216.9 505.4,217 505.9,217 506.3,216.9 506.8,217 507.3,216.5 507.8,217.1 508.3,217 508.7,216.9 509.2,217.1 509.7,216.7 510.2,216.3 510.7,216.9 511.1,216.8 511.6,217.1 512.1,216.5 512.6,217.1 513.1,217 513.5,216.1 514,217.1 514.5,217.1 515,217 515.5,216.8 515.9,217.2 516.4,217 516.9,217 517.4,217.1 517.9,216.9 518.3,216.5 518.8,217.1 519.3,217.1 519.8,216.8 520.3,217.1 520.7,215.9 521.2,217.1 521.7,216.9 522.2,216.7 522.7,216.6 523.1,217.1 523.6,217.2 524.1,217 524.6,216.7 525.1,217 525.5,217.1 526,216.9 526.5,216.4 527,216.6 527.5,216.9 527.9,217 528.4,216.7 528.9,217 529.4,216.1 529.9,217 530.3,216.8 530.8,216.7 531.3,217 531.8,216.4 532.2,217.1 532.7,216.3 533.2,217.1 533.7,217 534.2,216.8 534.6,216.8 535.1,217.1 535.6,217.1 536.1,216.9 536.6,217.2 537,216.4 537.5,217.2 538,217.1 538.5,217 539,217.2 539.4,216.7 539.9,216.9 540.4,217.1 540.9,217 541.4,216.8 541.8,216.9 542.3,216.5 542.8,216.5 543.3,217.2 543.8,217.2 544.2,216.9 544.7,217.1 545.2,217.1 545.7,217.1 546.2,216.9 546.6,216.8 547.1,217 547.6,217.1 548.1,216.6 548.6,216.9 549,217.1 549.5,217.2 550,216.8 550.5,216.4 551,216.7 551.4,216.8 551.9,216.9 552.4,217.1 552.9,217.1 553.4,217 553.8,216.7 554.3,217 554.8,217.1 555.3,217.2 555.8,216.6 556.2,216.9 556.7,217.1 557.2,217 557.7,217.1 558.1,217 558.6,216.9 559.1,217 559.6,216.9 560.1,217 560.5,217.2 561,216.6 561.5,217.2 562,217.1 562.5,217 562.9,217.1 563.4,216.6 563.9,217.1 564.4,216.8 564.9,217.2 565.3,217.1 565.8,216.6 566.3,217 566.8,217.1 567.3,217.1 567.7,216.9 568.2,216.9 568.7,217.2 569.2,217.1 569.7,216.7 570.1,216.7 570.6,216.7 571.1,217.2 571.6,216.4 572.1,216.5 572.5,216.6 573,216.7 573.5,217.1 574,217 574.5,217 574.9,217.1 575.4,216.8 575.9,217 576.4,216.9 576.9,216.9 577.3,216.7 577.8,217.1 578.3,216.9 578.8,217.2 579.3,216.7 579.7,217.2 580.2,217.1 580.7,216.5 581.2,216.8 581.7,217.2 582.1,216.6 582.6,216.7 583.1,217 583.6,216.6 584.1,216.8 584.5,216.9 585,216.8 585.5,216.8 586,217.2 586.4,217 586.9,216.8 587.4,217 587.9,216.8 588.4,217.2 588.8,217.1 589.3,216.7 589.8,217 590.3,217.2 590.8,217.1 591.2,216.9 591.7,216.6 592.2,217.1 592.7,217.2 593.2,217.1 593.6,217.2 594.1,217 594.6,217.1 595.1,216.9 595.6,216.8 596,217.1 596.5,217 597,217.1 597.5,217.1 598,216.8 598.4,216.4 598.9,216.6 599.4,216.5 599.9,217.1 600.4,217.1 600.8,217 601.3,216.6 601.8,217.2 602.3,217.2 602.8,216.8 603.2,217.2 603.7,217 604.2,216.9 604.7,216.5 605.2,217.1 605.6,217 606.1,217.1 606.6,216.9 607.1,217.1 607.6,217.2 608,217.1 608.5,217.1 609,217 609.5,217.2 610,217 610.4,217.2 610.9,216.6 611.4,216.1 611.9,217.1 612.4,217.2 612.8,217.2 613.3,217.2 613.8,216.6 614.3,216.7 614.7,216.6 615.2,217.1 615.7,216.9 616.2,216.9 616.7,217.1 617.1,217.2 617.6,217.1 618.1,216.7 618.6,216.8 619.1,216.7 619.5,217 620,216.8 620.5,217 621,217.2 621.5,217.2 621.9,217.1 622.4,216.4 622.9,217.2 623.4,216.8 623.9,217.1 624.3,217.1 624.8,217 625.3,217.2 625.8,217.1 626.3,216.9 626.7,217 627.2,216.5 627.7,217.1"/><polyline fill="none" stroke="#ef843c" stroke-width="1.4" stroke-linejoin="round" points="68.9,215.8 69.4,215.6 69.9,213.4 70.3,215 70.8,215.5 71.3,214.8 71.8,215.8 72.3,215.1 72.7,215.3 73.2,215.8 73.7,215.7 74.2,215.4 74.7,215.4 75.1,215 75.6,214.1 76.1,214.9 76.6,214.3 77.1,215.1 77.5,214.8 78,214.5 78.5,214.5 79,214.4 79.5,215.1 79.9,215.3 80.4,214.4 80.9,214.5 81.4,215.5 81.9,215.5 82.3,215.3 82.8,215.7 83.3,215.5 83.8,213.8 84.2,215.2 84.7,215.4 85.2,215.7 85.7,215.1 86.2,215.6 86.6,215.8 87.1,214.5 87.6,215 88.1,215.7 88.6,215.2 89,215.6 89.5,215.1 90,215.4 90.5,215.2 91,215.5 91.4,215.4 91.9,201.7 92.4,215.6 92.9,215.7 93.4,215.2 93.8,215.6 94.3,215.7 94.8,215.6 95.3,215.7 95.8,215.1 96.2,215.4 96.7,215.7 97.2,214.9 97.7,215.5 98.2,214.5 98.6,215.6 99.1,215.1 99.6,215.2 100.1,215 100.6,215.2 101,214.5 101.5,215.6 102,215.4 102.5,215 103,215.7 103.4,214.8 103.9,215.2 104.4,215.6 104.9,215.3 105.4,215.2 105.8,215.2 106.3,215.3 106.8,215.5 107.3,215.2 107.8,215.6 108.2,214.8 108.7,215 109.2,215.6 109.7,215.7 110.2,214.7 110.6,214.7 111.1,215.6 111.6,215.7 112.1,214.8 112.5,214.9 113,215.4 113.5,215.2 114,215.1 114.5,215.5 114.9,214.7 115.4,214.9 115.9,215.2 116.4,215.4 116.9,215.4 117.3,215.6 117.8,215.7 118.3,213.5 118.8,215.1 119.3,215.6 119.7,215.3 120.2,215.3 120.7,215 121.2,215.7 121.7,215.6 122.1,215.5 122.6,215 123.1,215.2 123.6,215.7 124.1,215.2 124.5,214.4 125,215.5 125.5,215.2 126,214.6 126.5,215.7 126.9,215.6 127.4,215.8 127.9,214.7 128.4,215.5 128.9,215.3 129.3,215.1 129.8,192.2 130.3,215.6 130.8,215.3 131.3,215.6 131.7,215.4 132.2,215.3 132.7,214.6 133.2,215.3 133.7,215.4 134.1,215.5 134.6,215.1 135.1,214.2 135.6,214.9 136.1,214.9 136.5,215.2 137,215.6 137.5,214.6 138,214.8 138.5,214.9 138.9,215.4 139.4,215.3 139.9,214.9 140.4,215 140.8,215.6 141.3,215.1 141.8,215.2 142.3,214.5 142.8,215.2 143.2,215.1 143.7,215.6 144.2,215.7 144.7,215.4 145.2,215.2 145.6,215.5 146.1,215.7 146.6,214.8 147.1,215.1 147.6,214.9 148,214.8 148.5,214.9 149,215.5 149.5,215.5 150,215 150.4,215.5 150.9,214.6 151.4,215.2 151.9,215.2 152.4,215.1 152.8,215 153.3,215.4 153.8,215.6 154.3,215.7 154.8,214.6 155.2,215 155.7,215.2 156.2,215.4 156.7,215.2 157.2,215.7 157.6,214.5 158.1,213.7 158.6,214.7 159.1,214.6 159.6,215 160,215.4 160.5,215.4 161,215 161.5,215.1 162,214.4 162.4,215.2 162.9,215.1 163.4,215.3 163.9,214.6 164.4,215.4 164.8,215.7 165.3,215.5 165.8,215.5 166.3,215.5 166.7,215.3 167.2,215.5 167.7,213.9 168.2,215.6 168.7,214.9 169.1,215.2 169.6,215.7 170.1,214.5 170.6,215.7 171.1,215.4 171.5,215.2 172,215.4 172.5,215.7 173,215.4 173.5,214.9 173.9,215.6 174.4,215.4 174.9,215.3 175.4,215.8 175.9,215.6 176.3,215.2 176.8,215.3 177.3,215.4 177.8,215.6 178.3,215 178.7,214.1 179.2,215.5 179.7,215.2 180.2,214.3 180.7,215.2 181.1,215.6 181.6,215.2 182.1,215 182.6,214.6 183.1,215.7 183.5,214.5 184,215.5 184.5,215.8 185,214.8 185.5,214.9 185.9,214.4 186.4,215.1 186.9,215.6 187.4,215.7 187.9,215.3 188.3,215.5 188.8,215.3 189.3,214.6 189.8,215.6 190.3,215.4 190.7,215.6 191.2,215.6 191.7,215.7 192.2,214.8 192.7,215.3 193.1,215.7 193.6,215.7 194.1,215.1 194.6,214.7 195,214.7 195.5,215.1 196,214.8 196.5,215.8 197,215.3 197.4,215.7 197.9,215.2 198.4,215.6 198.9,215.7 199.4,215.5 199.8,215.8 200.3,214.9 200.8,215.6 201.3,214.8 201.8,214.2 202.2,214.7 202.7,215.7 203.2,215.6 203.7,215.2 204.2,214.7 204.6,214.9 205.1,214.9 205.6,215.1 206.1,215.1 206.6,215.2 207,215.2 207.5,214.5 208,215.6 208.5,215.7 209,215.3 209.4,215.1 209.9,215.6 210.4,215.1 210.9,215.4 211.4,215.1 211.8,215 212.3,215.7 212.8,214.5 213.3,215.7 213.8,215.4 214.2,215.7 214.7,214.9 215.2,215.6 215.7,215.4 216.2,215.5 216.6,215.2 217.1,215.1 217.6,215.4 218.1,215.3 218.6,214.4 219,215.5 219.5,215.1 220,214.8 220.5,215.7 221,214.6 221.4,215.4 221.9,215.5 222.4,215.6 222.9,215.2 223.3,215.1 223.8,214.2 224.3,215.5 224.8,215.5 225.3,215.6 225.7,215.2 226.2,215.7 226.7,215.7 227.2,214 227.7,215.5 228.1,215.7 228.6,215.2 229.1,215.4 229.6,215.2 230.1,215.5 230.5,215.7 231,215.2 231.5,214.4 232,215.1 232.5,215.1 232.9,215.8 233.4,215 233.9,214.1 234.4,215.5 234.9,214.8 235.3,214.9 235.8,215.6 236.3,215.4 236.8,214.7 237.3,215.7 237.7,215.4 238.2,215.5 238.7,214.9 239.2,215 239.7,214.6 240.1,214.6 240.6,215.3 241.1,215.1 241.6,215.5 242.1,215.2 242.5,215.1 243,214 243.5,215 244,214.9 244.5,214.9 244.9,215.2 245.4,214.8 245.9,215.5 246.4,213.4 246.9,215.7 247.3,215.5 247.8,215.1 248.3,214.6 248.8,215.4 249.3,215.3 249.7,215.3 250.2,214.5 250.7,215.4 251.2,215.7 251.6,214.9 252.1,215.4 252.6,215 253.1,214.5 253.6,215.5 254,213.9 254.5,215.1 255,215.5 255.5,214.2 256,214.8 256.4,215.2 256.9,215.6 257.4,215.6 257.9,214.8 258.4,215.7 258.8,215.2 259.3,215.3 259.8,214.9 260.3,214.8 260.8,215.1 261.2,215 261.7,214.4 262.2,215.3 262.7,215.4 263.2,215.5 263.6,214.2 264.1,214.1 264.6,215.7 265.1,215.5 265.6,214.6 266,215.7 266.5,215.3 267,215.2 267.5,215.7 268,215.5 268.4,214.8 268.9,215 269.4,215.7 269.9,215.4 270.4,215.2 270.8,215.4 271.3,215.4 271.8,215.3 272.3,214.5 272.8,214.9 273.2,215.7 273.7,215.5 274.2,215 274.7,215.7 275.2,215.1 275.6,215.5 276.1,215.2 276.6,214.8 277.1,215.3 277.6,215.4 278,214.6 278.5,214.3 279,215.1 279.5,215.1 279.9,215.4 280.4,215.5 280.9,215.6 281.4,214.8 281.9,215.5 282.3,215.6 282.8,215.5 283.3,215.6 283.8,215.3 284.3,215.4 284.7,215.6 285.2,215.7 285.7,215.2 286.2,215.4 286.7,215.2 287.1,215.4 287.6,215.3 288.1,215.6 288.6,215.5 289.1,215.7 289.5,215.6 290,215.4 290.5,215.6 291,215.1 291.5,215.6 291.9,215.6 292.4,215 292.9,215.3 293.4,215.6 293.9,215.6 294.3,214.5 294.8,215.7 295.3,215.6 295.8,214.3 296.3,215.1 296.7,213.8 297.2,215.6 297.7,215.7 298.2,215.4 298.7,214.5 299.1,215.3 299.6,215.3 300.1,215 300.6,215.1 301.1,215.4 301.5,214.2 302,215.3 302.5,215.6 303,214.9 303.5,215.4 303.9,214.4 304.4,214.2 304.9,215.1 305.4,215.6 305.9,215.4 306.3,215 306.8,215.3 307.3,214.7 307.8,215.6 308.2,215 308.7,215.2 309.2,215.2 309.7,215.5 310.2,214.7 310.6,215.6 311.1,215.4 311.6,215.2 312.1,215.6 312.6,215.4 313,215.8 313.5,214.1 314,215.6 314.5,215.2 315,215.3 315.4,215.3 315.9,215 316.4,215.4 316.9,215.4 317.4,215.6 317.8,215.5 318.3,214.7 318.8,215.1 319.3,215.7 319.8,214.5 320.2,214.6 320.7,214.4 321.2,215.4 321.7,214.2 322.2,214.8 322.6,215.4 323.1,215.5 323.6,215 324.1,215.3 324.6,215.6 325,215.4 325.5,215.3 326,215.1 326.5,215.2 327,215.4 327.4,215.7 327.9,214.7 328.4,214.9 328.9,215.7 329.4,215.6 329.8,215.6 330.3,214.7 330.8,214.9 331.3,215.3 331.8,215.7 332.2,215.5 332.7,215.6 333.2,215.2 333.7,215.7 334.2,215.1 334.6,215.6 335.1,214.4 335.6,215.4 336.1,215.3 336.5,215.3 337,215.6 337.5,215.3 338,215.3 338.5,214.4 338.9,215.6 339.4,214.7 339.9,215.2 340.4,214.4 340.9,215.5 341.3,215.3 341.8,214.4 342.3,215.1 342.8,213.8 343.3,215.6 343.7,214.7 344.2,215.3 344.7,215.7 345.2,215.6 345.7,215.5 346.1,215 346.6,215.4 347.1,214.9 347.6,215.3 348.1,214.7 348.5,215.5 349,215.1 349.5,215 350,215.7 350.5,215.3 350.9,215.6 351.4,214.8 351.9,215.2 352.4,215.7 352.9,215.4 353.3,215.7 353.8,215.2 354.3,214.5 354.8,215.6 355.3,215.3 355.7,215.4 356.2,215.1 356.7,215 357.2,214.8 357.7,214.8 358.1,215.5 358.6,215.2 359.1,215.6 359.6,214.6 360.1,214.9 360.5,215.6 361,215.8 361.5,215.1 362,213.1 362.4,215.6 362.9,215.6 363.4,215.3 363.9,215 364.4,214.3 364.8,215 365.3,215.1 365.8,215.6 366.3,215.4 366.8,215.7 367.2,214.6 367.7,214.4 368.2,215.4 368.7,215.7 369.2,215.2 369.6,215.3 370.1,214.8 370.6,214.5 371.1,215.3 371.6,215 372,215.1 372.5,214.6 373,214.2 373.5,213.9 374,215.1 374.4,214.4 374.9,215.7 375.4,215.6 375.9,215.7 376.4,214.7 376.8,215.1 377.3,215.2 377.8,215.2 378.3,215.2 378.8,215.6 379.2,214.1 379.7,215.8 380.2,215.6 380.7,215.5 381.2,215.7 381.6,214.4 382.1,215.1 382.6,214.7 383.1,215.6 383.6,215.1 384,214.9 384.5,215.4 385,215.7 385.5,215.6 386,214.7 386.4,214.9 386.9,215.6 387.4,215.3 387.9,214.4 388.4,215.4 388.8,215.3 389.3,215.2 389.8,215.1 390.3,215 390.7,215.7 391.2,215.6 391.7,215.6 392.2,214.8 392.7,215.6 393.1,215.1 393.6,215.2 394.1,215.4 394.6,215.7 395.1,215.4 395.5,215.6 396,215.3 396.5,215.2 397,214.7 397.5,215.7 397.9,215.4 398.4,215.4 398.9,215.7 399.4,214.5 399.9,214 400.3,215.5 400.8,214.7 401.3,215.5 401.8,214.7 402.3,215.4 402.7,215.3 403.2,215.3 403.7,215 404.2,215.2 404.7,215.3 405.1,214.7 405.6,214.2 406.1,215.2 406.6,215.6 407.1,215.3 407.5,215 408,215.5 408.5,215.5 409,215.6 409.5,214.8 409.9,214.6 410.4,215.4 410.9,215.2 411.4,214.1 411.9,215.4 412.3,214.9 412.8,215.6 413.3,215 413.8,215.7 414.3,215.3 414.7,215.4 415.2,215 415.7,215.6 416.2,215.5 416.7,214.6 417.1,215.5 417.6,215.6 418.1,214.9 418.6,215.4 419,215.4 419.5,214 420,215.3 420.5,215 421,215.4 421.4,215.4 421.9,215.1 422.4,215.6 422.9,214.9 423.4,215.1 423.8,214.8 424.3,214.8 424.8,215.2 425.3,215.4 425.8,215.3 426.2,215.7 426.7,215.3 427.2,215.5 427.7,215.5 428.2,215 428.6,215.1 429.1,215.3 429.6,214.3 430.1,215.4 430.6,215.2 431,214.8 431.5,215.7 432,215.1 432.5,215.6 433,214.8 433.4,215.2 433.9,215 434.4,215.7 434.9,215.5 435.4,214.7 435.8,215.1 436.3,215.6 436.8,215.3 437.3,215 437.8,214.5 438.2,215.4 438.7,215.6 439.2,215.7 439.7,215.7 440.2,215 440.6,215.3 441.1,215.1 441.6,215.1 442.1,215.6 442.6,215.1 443,215.2 443.5,215.2 444,215.7 444.5,215.3 445,215.5 445.4,215.5 445.9,215.7 446.4,215.7 446.9,214.5 447.3,215.6 447.8,215.6 448.3,214.6 448.8,215.6 449.3,215.7 449.7,214.7 450.2,215.4 450.7,215 451.2,215.1 451.7,215.3 452.1,215.7 452.6,214.6 453.1,214.7 453.6,214.7 454.1,215.7 454.5,215.1 455,214.4 455.5,214.5 456,215.7 456.5,215.7 456.9,214.7 457.4,214.2 457.9,214.6 458.4,215.7 458.9,215.5 459.3,215.2 459.8,215.7 460.3,214.9 460.8,215.7 461.3,215.3 461.7,215.6 462.2,215.1 462.7,215 463.2,215.4 463.7,215.1 464.1,215.2 464.6,214.9 465.1,215.7 465.6,215.2 466.1,215.6 466.5,215.7 467,215.6 467.5,215.2 468,214.9 468.5,213.8 468.9,215.7 469.4,214.2 469.9,215 470.4,215.3 470.9,215.7 471.3,214.8 471.8,214.2 472.3,214.8 472.8,215.1 473.3,215.8 473.7,215.6 474.2,215.6 474.7,215.4 475.2,215.2 475.6,214.6 476.1,214.8 476.6,214.7 477.1,215.4 477.6,215.7 478,215 478.5,214.8 479,215.7 479.5,214.6 480,215.2 480.4,215.6 480.9,215.4 481.4,214.5 481.9,215.5 482.4,215.5 482.8,215.6 483.3,215.3 483.8,213.7 484.3,215 484.8,215.5 485.2,215.5 485.7,215.4 486.2,214.9 486.7,215.1 487.2,214.9 487.6,215.4 488.1,215 488.6,215.6 489.1,215.5 489.6,215.3 490,215.3 490.5,215.5 491,215.6 491.5,214.8 492,215.5 492.4,214.9 492.9,214.8 493.4,215 493.9,215 494.4,215.4 494.8,215.3 495.3,215.5 495.8,215 496.3,214.5 496.8,215.5 497.2,214.6 497.7,215.6 498.2,215.4 498.7,214.5 499.2,214.9 499.6,215.4 500.1,215.7 500.6,214.7 501.1,214.4 501.6,214.7 502,215.4 502.5,214.9 503,215.3 503.5,214.2 503.9,215.6 504.4,214.3 504.9,213.2 505.4,215.4 505.9,215.6 506.3,215.1 506.8,215.6 507.3,215.4 507.8,214.6 508.3,215.3 508.7,215.6 509.2,214.7 509.7,215.6 510.2,215.7 510.7,215.5 511.1,215.5 511.6,215.4 512.1,215.5 512.6,215.3 513.1,215 513.5,214.7 514,214.6 514.5,215.6 515,214.7 515.5,215.5 515.9,215.4 516.4,215.5 516.9,214.7 517.4,215.5 517.9,215.3 518.3,215.6 518.8,214.9 519.3,215.3 519.8,214.7 520.3,215.6 520.7,215.7 521.2,215.6 521.7,215.6 522.2,215.7 522.7,215.6 523.1,215.2 523.6,215.2 524.1,215.7 524.6,215.5 525.1,214.4 525.5,214.1 526,215.2 526.5,214.3 527,214.3 527.5,214.9 527.9,215 528.4,215.5 528.9,214.6 529.4,215.4 529.9,215.3 530.3,214.9 530.8,213.8 531.3,215.7 531.8,214.8 532.2,215.1 532.7,215.6 533.2,215.3 533.7,215.4 534.2,215.6 534.6,214.8 535.1,215.2 535.6,214.7 536.1,214.4 536.6,215 537,214.3 537.5,215 538,215.4 538.5,215.6 539,215.7 539.4,215.6 539.9,214.5 540.4,214.9 540.9,214.8 541.4,215.6 541.8,214.7 542.3,215.5 542.8,215.3 543.3,215.6 543.8,214.3 544.2,215.7 544.7,215.3 545.2,215.6 545.7,215.2 546.2,215.7 546.6,214.7 547.1,215.2 547.6,215.8 548.1,215.1 548.6,215.7 549,215.2 549.5,215.4 550,215.4 550.5,214.2 551,215.4 551.4,214.3 551.9,215.6 552.4,215.1 552.9,214.6 553.4,215.4 553.8,215.3 554.3,215.7 554.8,214.3 555.3,215.3 555.8,214.9 556.2,215.5 556.7,215.6 557.2,214.3 557.7,214.1 558.1,215.7 558.6,215.7 559.1,215.3 559.6,214.7 560.1,215 560.5,215.7 561,214.9 561.5,214.8 562,215 562.5,215.3 562.9,214.7 563.4,215.7 563.9,215.6 564.4,214.6 564.9,215.5 565.3,215 565.8,214.8 566.3,215.6 566.8,215.3 567.3,215.4 567.7,214.7 568.2,214.6 568.7,214.9 569.2,215.1 569.7,214.6 570.1,214.6 570.6,214 571.1,214.6 571.6,214.9 572.1,215.3 572.5,214.9 573,214.2 573.5,215.3 574,173.1 574.5,215 574.9,215.3 575.4,215.8 575.9,214.6 576.4,214.5 576.9,214.6 577.3,215.5 577.8,215.1 578.3,215.3 578.8,215.7 579.3,215.5 579.7,214.7 580.2,214.3 580.7,214.9 581.2,215.7 581.7,215.7 582.1,214.9 582.6,215.1 583.1,213.9 583.6,215.6 584.1,215.5 584.5,214.5 585,215.2 585.5,215.6 586,215.2 586.4,215.1 586.9,215.6 587.4,215.6 587.9,215.7 588.4,215.1 588.8,215 589.3,215.3 589.8,214.7 590.3,215.4 590.8,214.6 591.2,215.5 591.7,214.9 592.2,215.2 592.7,215.1 593.2,214.8 593.6,215.1 594.1,215.6 594.6,215.7 595.1,215.7 595.6,215.5 596,215.2 596.5,215.2 597,215.2 597.5,215.4 598,215.7 598.4,214.8 598.9,215.4 599.4,215.7 599.9,215.3 600.4,215.4 600.8,214.5 601.3,215.7 601.8,214.4 602.3,214.6 602.8,215.4 603.2,214.7 603.7,215.6 604.2,215.3 604.7,215.6 605.2,214.6 605.6,215.4 606.1,214.9 606.6,215.7 607.1,215.6 607.6,215.4 608,215.6 608.5,215.7 609,215.8 609.5,215.1 610,214.7 610.4,214.9 610.9,215 611.4,215.6 611.9,214.7 612.4,215.1 612.8,215.4 613.3,215.6 613.8,215.4 614.3,215.6 614.7,215.4 615.2,215.1 615.7,214.2 616.2,214.5 616.7,215.1 617.1,214.9 617.6,215.2 618.1,215 618.6,215.2 619.1,214.6 619.5,214.5 620,214.6 620.5,215.3 621,215.5 621.5,215.3 621.9,215.3 622.4,215.2 622.9,215.2 623.4,215.1 623.9,215.4 624.3,215 624.8,215.3 625.3,215.5 625.8,215.2 626.3,215.6 626.7,215.3 627.2,214.8 627.7,215.2"/><polyline fill="none" stroke="#eab839" stroke-width="1.4" stroke-linejoin="round" points="68.9,203.7 69.4,212.1 69.9,210 70.3,210.9 70.8,209.4 71.3,212.9 71.8,211.5 72.3,199.7 72.7,211.8 73.2,210.2 73.7,213 74.2,211.8 74.7,211.7 75.1,202.8 75.6,210.9 76.1,205.6 76.6,209.3 77.1,212 77.5,206.1 78,208.7 78.5,207.4 79,208 79.5,209 79.9,212.4 80.4,210.4 80.9,210.5 81.4,208.8 81.9,212.2 82.3,210.1 82.8,210.9 83.3,210.9 83.8,210.7 84.2,211.9 84.7,210.2 85.2,212.3 85.7,206.9 86.2,213 86.6,211.5 87.1,207.2 87.6,209.7 88.1,206.2 88.6,211.5 89,212.6 89.5,211.9 90,208.4 90.5,211.9 91,211 91.4,210.2 91.9,209 92.4,209.7 92.9,211.8 93.4,213 93.8,208.3 94.3,213.1 94.8,211.5 95.3,212 95.8,210 96.2,208.7 96.7,207.2 97.2,210.4 97.7,196.3 98.2,201.5 98.6,212.3 99.1,211.1 99.6,212.3 100.1,209.4 100.6,207.9 101,203.3 101.5,204 102,212.3 102.5,210.9 103,211.7 103.4,212.3 103.9,208.6 104.4,211.9 104.9,205.6 105.4,208.3 105.8,212.7 106.3,209.4 106.8,203.1 107.3,203.7 107.8,208.3 108.2,211.3 108.7,208.4 109.2,211.7 109.7,208.3 110.2,207.2 110.6,205.2 111.1,212.6 111.6,212 112.1,207.7 112.5,204 113,208.6 113.5,202.7 114,211.5 114.5,210.2 114.9,212.1 115.4,198.6 115.9,209 116.4,211.1 116.9,211.6 117.3,208.7 117.8,205 118.3,210.5 118.8,203.4 119.3,212.1 119.7,206.7 120.2,212.2 120.7,213.2 121.2,210.1 121.7,211.8 122.1,207.5 122.6,192.3 123.1,207.2 123.6,210.2 124.1,207.6 124.5,204.7 125,207.4 125.5,205.1 126,210.9 126.5,201.8 126.9,209.9 127.4,207.9 127.9,206.9 128.4,192.3 128.9,210.7 129.3,209.3 129.8,212.6 130.3,205.2 130.8,212.4 131.3,209.1 131.7,212.3 132.2,208.1 132.7,212.2 133.2,209 133.7,204.9 134.1,212.4 134.6,210.3 135.1,213.1 135.6,211.7 136.1,210.3 136.5,211.5 137,209 137.5,206.6 138,211.9 138.5,208.5 138.9,210 139.4,206.1 139.9,211 140.4,207.3 140.8,199 141.3,212.3 141.8,212 142.3,210.6 142.8,212.7 143.2,205.8 143.7,195.9 144.2,211.5 144.7,198.8 145.2,210.9 145.6,211 146.1,213.1 146.6,212.4 147.1,210.7 147.6,212.2 148,206.2 148.5,211.3 149,204.1 149.5,211 150,211 150.4,194.1 150.9,210.9 151.4,209.9 151.9,210 152.4,212.3 152.8,211 153.3,211 153.8,212.1 154.3,201.6 154.8,211.8 155.2,207.5 155.7,209.6 156.2,211.6 156.7,191.8 157.2,211.4 157.6,211.6 158.1,212.3 158.6,210.5 159.1,208.6 159.6,210.8 160,202 160.5,212.3 161,211.7 161.5,207 162,198.7 162.4,209.6 162.9,212.3 163.4,204.2 163.9,201.2 164.4,212.1 164.8,212.3 165.3,212.2 165.8,211.9 166.3,212.4 166.7,209.4 167.2,205.2 167.7,207.3 168.2,205.8 168.7,210.9 169.1,210.4 169.6,205.8 170.1,207.5 170.6,208.4 171.1,190.7 171.5,210.1 172,210.4 172.5,211.5 173,209.1 173.5,212 173.9,209.8 174.4,210.1 174.9,207.7 175.4,205.8 175.9,212.3 176.3,207.8 176.8,212.7 177.3,205.5 177.8,202.3 178.3,212.4 178.7,212.2 179.2,211.8 179.7,212.6 180.2,200.9 180.7,213 181.1,209 181.6,208.2 182.1,208.3 182.6,205.4 183.1,207.2 183.5,208.1 184,211.4 184.5,208.6 185,187.6 185.5,207.5 185.9,198 186.4,197 186.9,204.7 187.4,211.2 187.9,200.3 188.3,203.3 188.8,211.4 189.3,211.7 189.8,212.6 190.3,210.4 190.7,212.7 191.2,203.2 191.7,207.6 192.2,212 192.7,204.1 193.1,204.7 193.6,210.6 194.1,193.7 194.6,211.3 195,209.3 195.5,210.8 196,207.2 196.5,206.9 197,211.3 197.4,205.9 197.9,209.2 198.4,211.2 198.9,212.6 199.4,210 199.8,208 200.3,211.6 200.8,208.7 201.3,208.1 201.8,209.1 202.2,208.1 202.7,209.9 203.2,204.9 203.7,212.2 204.2,208.5 204.6,210.2 205.1,205.5 205.6,187.1 206.1,207.5 206.6,209.7 207,203.6 207.5,213 208,211.3 208.5,208.6 209,211.6 209.4,212 209.9,194.4 210.4,211.5 210.9,210.3 211.4,205.4 211.8,197.4 212.3,208.6 212.8,209.8 213.3,206.3 213.8,211.1 214.2,205.2 214.7,208.5 215.2,212.2 215.7,208.1 216.2,212.7 216.6,204.2 217.1,208.9 217.6,210.1 218.1,198.1 218.6,209.6 219,210.8 219.5,210.3 220,200.4 220.5,200.3 221,212.1 221.4,210.2 221.9,211.8 222.4,202.2 222.9,210.4 223.3,205.8 223.8,209.2 224.3,212 224.8,211.4 225.3,208.6 225.7,211.3 226.2,212.1 226.7,193.3 227.2,209.3 227.7,210.4 228.1,212.3 228.6,205.9 229.1,211.7 229.6,211.1 230.1,208.1 230.5,209.2 231,209.4 231.5,212.6 232,206.1 232.5,211.5 232.9,212.4 233.4,205.3 233.9,212.8 234.4,191.1 234.9,212.6 235.3,205.9 235.8,209.8 236.3,203.8 236.8,211.5 237.3,209.4 237.7,208.9 238.2,212.7 238.7,187.7 239.2,212.1 239.7,205.6 240.1,206.7 240.6,211.9 241.1,190.9 241.6,211.8 242.1,208 242.5,212.8 243,211.9 243.5,210.7 244,204.2 244.5,200.9 244.9,206.8 245.4,207.5 245.9,191.6 246.4,210.4 246.9,212.2 247.3,206.5 247.8,208.9 248.3,202 248.8,206.6 249.3,210.2 249.7,210.9 250.2,209.8 250.7,197.2 251.2,205.3 251.6,207.8 252.1,209.4 252.6,210.5 253.1,206.8 253.6,210.9 254,208.2 254.5,212.9 255,203.6 255.5,208.7 256,204.6 256.4,209.8 256.9,208.3 257.4,202 257.9,209.1 258.4,212.3 258.8,206.3 259.3,200 259.8,206.4 260.3,211 260.8,211.6 261.2,204.5 261.7,205.9 262.2,204.3 262.7,211.7 263.2,207.8 263.6,210.3 264.1,211.9 264.6,202.8 265.1,207.8 265.6,210.4 266,212.5 266.5,210 267,195.8 267.5,207.3 268,200 268.4,206.5 268.9,204.4 269.4,211.4 269.9,212 270.4,211.7 270.8,210.5 271.3,211.4 271.8,201.7 272.3,209 272.8,211.9 273.2,203.2 273.7,212.7 274.2,212.5 274.7,204.4 275.2,206.6 275.6,76.1 276.1,207.9 276.6,208.1 277.1,211.3 277.6,209.7 278,210.8 278.5,211.2 279,210.6 279.5,184.6 279.9,206.7 280.4,212.2 280.9,199.5 281.4,209.5 281.9,207 282.3,208.5 282.8,208 283.3,206 283.8,199.7 284.3,211.4 284.7,199.6 285.2,205.1 285.7,204.1 286.2,211.7 286.7,210.5 287.1,208.4 287.6,203.4 288.1,212.3 288.6,210.5 289.1,212 289.5,209.2 290,210.9 290.5,209.7 291,211 291.5,209.3 291.9,208.8 292.4,206.6 292.9,204.7 293.4,211.9 293.9,210.6 294.3,212.8 294.8,201.9 295.3,195.2 295.8,201.5 296.3,204.6 296.7,208.8 297.2,210.3 297.7,207.8 298.2,209.6 298.7,197.3 299.1,210.4 299.6,208.1 300.1,193 300.6,199.1 301.1,211.1 301.5,188.1 302,210.7 302.5,208.8 303,202.1 303.5,210.5 303.9,207.8 304.4,207 304.9,210 305.4,208.8 305.9,208.2 306.3,197.5 306.8,208.6 307.3,210.9 307.8,206.8 308.2,202.6 308.7,197.9 309.2,208.5 309.7,211.6 310.2,200.7 310.6,210.2 311.1,205.5 311.6,197 312.1,202.1 312.6,203.3 313,208.4 313.5,210.1 314,212.1 314.5,189.7 315,192.7 315.4,205.1 315.9,208.8 316.4,210.6 316.9,199.7 317.4,204.6 317.8,211.1 318.3,205.5 318.8,209.1 319.3,206.4 319.8,193.1 320.2,204.8 320.7,212.2 321.2,203.3 321.7,197.4 322.2,193.3 322.6,196.7 323.1,210.8 323.6,211.5 324.1,210.6 324.6,202.3 325,204.6 325.5,206 326,205.1 326.5,212.2 327,201 327.4,212 327.9,188 328.4,192.2 328.9,189.7 329.4,209.1 329.8,205 330.3,201.9 330.8,212.3 331.3,208.7 331.8,204.3 332.2,208.4 332.7,209.8 333.2,202.9 333.7,211.3 334.2,212.1 334.6,207.1 335.1,199.6 335.6,208.9 336.1,209.7 336.5,206.6 337,209.1 337.5,208.6 338,175.9 338.5,211.5 338.9,212.7 339.4,204 339.9,207.3 340.4,202.4 340.9,183.3 341.3,209 341.8,211.6 342.3,198.7 342.8,207.2 343.3,200.7 343.7,190.5 344.2,206.7 344.7,209.9 345.2,209.4 345.7,208.8 346.1,208.8 346.6,209.8 347.1,212.6 347.6,202.9 348.1,189.1 348.5,209.6 349,192.5 349.5,197.6 350,209 350.5,208.7 350.9,207.5 351.4,202 351.9,190.5 352.4,211.8 352.9,193.5 353.3,202.1 353.8,207.1 354.3,211.1 354.8,212.1 355.3,208.7 355.7,205.4 356.2,212.2 356.7,206.3 357.2,209.6 357.7,210.5 358.1,189.3 358.6,198.3 359.1,208 359.6,211 360.1,198.9 360.5,206.1 361,211.2 361.5,209.3 362,203.1 362.4,195.5 362.9,211.4 363.4,208.7 363.9,208.6 364.4,209.3 364.8,197.4 365.3,207.9 365.8,206 366.3,208.5 366.8,212.6 367.2,202.7 367.7,211 368.2,197.6 368.7,197.2 369.2,195.1 369.6,208.1 370.1,210.3 370.6,208 371.1,181.4 371.6,183.2 372,212.1 372.5,203.4 373,209.3 373.5,195.2 374,211.1 374.4,207.3 374.9,205 375.4,207 375.9,211 376.4,212.4 376.8,208 377.3,207.3 377.8,209.2 378.3,210.8 378.8,210.8 379.2,207 379.7,201.8 380.2,209.6 380.7,208.6 381.2,194 381.6,211.3 382.1,211.3 382.6,201.6 383.1,199.4 383.6,190.4 384,202.8 384.5,208.6 385,206.5 385.5,198.6 386,202.1 386.4,201.4 386.9,177.9 387.4,203.2 387.9,209.7 388.4,201.8 388.8,191 389.3,183.5 389.8,204.6 390.3,206.2 390.7,211.9 391.2,203.8 391.7,202.6 392.2,209.8 392.7,212.5 393.1,194.6 393.6,204.4 394.1,198.1 394.6,209.1 395.1,201 395.5,208.2 396,208.2 396.5,212.1 397,203.7 397.5,208.8 397.9,182.4 398.4,207.7 398.9,205.1 399.4,202.2 399.9,205 400.3,210.3 400.8,207.7 401.3,202.4 401.8,209.7 402.3,207.2 402.7,200 403.2,210.5 403.7,210 404.2,208.6 404.7,204.3 405.1,210.7 405.6,201 406.1,186 406.6,210.3 407.1,212.3 407.5,204.5 408,200.6 408.5,190.9 409,205.1 409.5,198.1 409.9,208.1 410.4,209.1 410.9,208.9 411.4,211 411.9,209 412.3,202.7 412.8,198.5 413.3,200.7 413.8,202.3 414.3,205.2 414.7,200.4 415.2,209.4 415.7,204.7 416.2,195.8 416.7,199.4 417.1,206.4 417.6,208.4 418.1,208.1 418.6,209.4 419,210.4 419.5,211.2 420,209.6 420.5,204.8 421,207.2 421.4,200.2 421.9,212 422.4,185.8 422.9,209.4 423.4,205.4 423.8,212.6 424.3,202.9 424.8,211.2 425.3,208.3 425.8,179.7 426.2,174.8 426.7,209.7 427.2,206.2 427.7,212.4 428.2,206.4 428.6,195.4 429.1,207.9 429.6,166.2 430.1,206.8 430.6,202.5 431,210.4 431.5,203.6 432,208.9 432.5,203 433,200.7 433.4,198.9 433.9,205.4 434.4,211.6 434.9,202.2 435.4,205.3 435.8,209 436.3,202.6 436.8,199.7 437.3,209.6 437.8,190.6 438.2,207.5 438.7,196.1 439.2,183.5 439.7,212.3 440.2,204.2 440.6,186.2 441.1,177 441.6,206.4 442.1,193.7 442.6,205.1 443,182.6 443.5,209 444,203.9 444.5,207.1 445,195.5 445.4,209.3 445.9,205.9 446.4,205.7 446.9,180.1 447.3,208 447.8,209.3 448.3,205.3 448.8,209.9 449.3,193.7 449.7,210.3 450.2,210.8 450.7,204.6 451.2,199.7 451.7,202.8 452.1,207.3 452.6,187.3 453.1,196.3 453.6,210 454.1,210 454.5,209.2 455,202.8 455.5,207.5 456,197.6 456.5,207.4 456.9,195.5 457.4,200.4 457.9,206.6 458.4,206.4 458.9,201.6 459.3,197.7 459.8,205.2 460.3,209.4 460.8,211.8 461.3,184.9 461.7,198.7 462.2,209.9 462.7,212 463.2,207.1 463.7,207 464.1,202.9 464.6,209.8 465.1,212 465.6,190.1 466.1,207.6 466.5,209.6 467,209.1 467.5,201.1 468,189.8 468.5,211 468.9,205 469.4,210.5 469.9,200.3 470.4,210.8 470.9,210.4 471.3,211.5 471.8,210 472.3,199.5 472.8,205.1 473.3,199.5 473.7,210.1 474.2,196.5 474.7,208.6 475.2,210.3 475.6,198.9 476.1,212.1 476.6,209.2 477.1,207.5 477.6,195.8 478,208.5 478.5,199.7 479,193.2 479.5,207.9 480,209.6 480.4,212.5 480.9,186.9 481.4,197.6 481.9,194.8 482.4,211.4 482.8,178.7 483.3,211.6 483.8,208.2 484.3,204.3 484.8,206.4 485.2,202 485.7,200.8 486.2,206.9 486.7,200.5 487.2,196.9 487.6,212.3 488.1,193.5 488.6,208.9 489.1,205.6 489.6,205.8 490,206.6 490.5,212.6 491,207.5 491.5,179.6 492,212.5 492.4,190.7 492.9,204 493.4,207.2 493.9,179.7 494.4,211.7 494.8,195.9 495.3,208.8 495.8,196.6 496.3,205.7 496.8,206.7 497.2,206.8 497.7,208.3 498.2,192.8 498.7,194.8 499.2,156.7 499.6,208.6 500.1,210.2 500.6,200 501.1,207.7 501.6,193 502,205.4 502.5,209.3 503,203.7 503.5,190.4 503.9,207.5 504.4,211 504.9,208.8 505.4,208.7 505.9,208.4 506.3,198 506.8,202.5 507.3,194.9 507.8,209.3 508.3,199.3 508.7,204.1 509.2,208.6 509.7,208.9 510.2,199.6 510.7,197 511.1,208.7 511.6,189.3 512.1,210.8 512.6,209.7 513.1,186.8 513.5,204.2 514,204.8 514.5,192.3 515,210.3 515.5,206.3 515.9,208.8 516.4,208.5 516.9,211.7 517.4,190.3 517.9,210.8 518.3,209.3 518.8,205.7 519.3,196.7 519.8,209.3 520.3,200.8 520.7,190.3 521.2,196 521.7,187.9 522.2,198.5 522.7,207.1 523.1,199.9 523.6,207.1 524.1,186.6 524.6,207.3 525.1,210.9 525.5,192.6 526,204.3 526.5,204.4 527,211.7 527.5,206.8 527.9,201.8 528.4,197.9 528.9,204.7 529.4,201.7 529.9,203.6 530.3,211.5 530.8,209.7 531.3,187.4 531.8,201.3 532.2,198.7 532.7,201.5 533.2,210.4 533.7,208.4 534.2,205.5 534.6,189.1 535.1,208 535.6,207.7 536.1,193.7 536.6,186.3 537,202.8 537.5,198.9 538,209.4 538.5,191.6 539,203.2 539.4,189.9 539.9,199.3 540.4,211.1 540.9,210.3 541.4,189.7 541.8,203.1 542.3,201.7 542.8,187.6 543.3,203.6 543.8,199.2 544.2,168.8 544.7,208.5 545.2,206.1 545.7,211.9 546.2,198.3 546.6,195.2 547.1,181.6 547.6,202.2 548.1,211.8 548.6,208.1 549,201.4 549.5,205.2 550,194.5 550.5,204.6 551,199.4 551.4,183.3 551.9,190.5 552.4,206.4 552.9,176 553.4,210 553.8,197.4 554.3,202.5 554.8,205.4 555.3,197.3 555.8,178.1 556.2,209.3 556.7,210.6 557.2,201.7 557.7,208 558.1,201.7 558.6,207.1 559.1,189.9 559.6,183.9 560.1,207.6 560.5,197 561,201.7 561.5,210.9 562,193.2 562.5,182.8 562.9,208 563.4,192.2 563.9,201.9 564.4,208.3 564.9,211.8 565.3,209.2 565.8,194.7 566.3,194.2 566.8,204.2 567.3,210.3 567.7,206.2 568.2,205.1 568.7,207.3 569.2,206.7 569.7,191.9 570.1,205.1 570.6,203.2 571.1,211.4 571.6,203.3 572.1,190.3 572.5,207.5 573,198.6 573.5,197.4 574,142.7 574.5,205.9 574.9,201.7 575.4,208.8 575.9,210.7 576.4,172.1 576.9,155.4 577.3,198.7 577.8,208.1 578.3,198.9 578.8,193.5 579.3,208.3 579.7,207.4 580.2,208.2 580.7,206.1 581.2,204.2 581.7,206.5 582.1,209.8 582.6,208.9 583.1,202.1 583.6,202.5 584.1,201.1 584.5,192.6 585,193.9 585.5,182.1 586,207.5 586.4,187 586.9,197.8 587.4,208.7 587.9,201.8 588.4,210.9 588.8,211.4 589.3,209.4 589.8,211.4 590.3,198.2 590.8,205.9 591.2,210.4 591.7,198.2 592.2,204 592.7,209 593.2,173.9 593.6,211.1 594.1,179.3 594.6,206.9 595.1,207.1 595.6,210.7 596,209.7 596.5,203.1 597,196.9 597.5,208.2 598,201 598.4,207 598.9,202.9 599.4,210.2 599.9,204.1 600.4,211 600.8,198.4 601.3,197.8 601.8,198.1 602.3,208.4 602.8,207.4 603.2,206.2 603.7,209.9 604.2,203.7 604.7,210.4 605.2,204.8 605.6,198.3 606.1,209 606.6,212.2 607.1,205.3 607.6,190.6 608,206.4 608.5,208.3 609,208.9 609.5,210 610,204.6 610.4,206.4 610.9,181.7 611.4,212 611.9,192.1 612.4,189.2 612.8,198.4 613.3,202.6 613.8,209.6 614.3,212 614.7,211.3 615.2,161 615.7,211.3 616.2,202 616.7,202.4 617.1,206.6 617.6,207 618.1,199.7 618.6,208.9 619.1,193 619.5,206 620,211.6 620.5,182.7 621,195 621.5,208.1 621.9,211.2 622.4,194 622.9,204.9 623.4,180.7 623.9,199.3 624.3,199.8 624.8,210.7 625.3,199.6 625.8,211.4 626.3,206.2 626.7,196.5 627.2,210.1 627.7,205.2"/><polyline fill="none" stroke="#6ed0e0" stroke-width="1.4" stroke-linejoin="round" points="68.9,152.4 69.4,155.8 69.9,155.6 70.3,157.4 70.8,158.3 71.3,159 71.8,151.5 72.3,150.6 72.7,152.7 73.2,153.2 73.7,153.2 74.2,152.5 74.7,151 75.1,156.5 75.6,150.7 76.1,153.3 76.6,154.3 77.1,158 77.5,153.8 78,146.3 78.5,154.3 79,155.4 79.5,150.6 79.9,151 80.4,150.8 80.9,156.3 81.4,157.8 81.9,157.4 82.3,154.3 82.8,160.4 83.3,149.2 83.8,156.2 84.2,154.8 84.7,149 85.2,157.3 85.7,154.1 86.2,156.2 86.6,152.2 87.1,156.2 87.6,153.3 88.1,156.7 88.6,151 89,155.8 89.5,158.1 90,153.3 90.5,160.7 91,149.1 91.4,152.5 91.9,153 92.4,153.7 92.9,150.2 93.4,153.9 93.8,154.7 94.3,155.9 94.8,153.4 95.3,149 95.8,157.5 96.2,151.4 96.7,153.5 97.2,152.7 97.7,149.4 98.2,152 98.6,157.4 99.1,154.5 99.6,158.9 100.1,153.8 100.6,157.5 101,149.6 101.5,152.9 102,162.3 102.5,150 103,156.1 103.4,156.5 103.9,150.6 104.4,147.8 104.9,147.5 105.4,156.1 105.8,157.8 106.3,150.1 106.8,153.3 107.3,158 107.8,149.2 108.2,154.8 108.7,154 109.2,158.4 109.7,154.7 110.2,155.3 110.6,149.7 111.1,157.6 111.6,156.8 112.1,153.8 112.5,155.7 113,154.2 113.5,153.8 114,153.6 114.5,152.1 114.9,153.6 115.4,149.5 115.9,152.1 116.4,152.6 116.9,155.2 117.3,153.6 117.8,155.6 118.3,150.7 118.8,160.5 119.3,153.1 119.7,152.7 120.2,158.3 120.7,158.7 121.2,147.2 121.7,153.1 122.1,153.4 122.6,157.4 123.1,151.7 123.6,155.9 124.1,155.8 124.5,152.5 125,154.2 125.5,154.2 126,158.9 126.5,154.6 126.9,158.9 127.4,150.7 127.9,155.6 128.4,157.3 128.9,157.1 129.3,149.8 129.8,152.5 130.3,150.2 130.8,152.4 131.3,159 131.7,157.1 132.2,152.7 132.7,155.9 133.2,153.4 133.7,158.2 134.1,164.1 134.6,154.4 135.1,153.5 135.6,150.2 136.1,154.6 136.5,153.1 137,148.6 137.5,151.1 138,154.3 138.5,156.8 138.9,151.6 139.4,155.8 139.9,149.3 140.4,152.5 140.8,152.1 141.3,148.9 141.8,153.3 142.3,152 142.8,156.1 143.2,154 143.7,153.5 144.2,154.5 144.7,150 145.2,155.8 145.6,152.9 146.1,153.4 146.6,155.7 147.1,163.1 147.6,153.2 148,155 148.5,155.1 149,157.9 149.5,157.6 150,157.3 150.4,156.8 150.9,151.9 151.4,160.6 151.9,144.9 152.4,152 152.8,155.3 153.3,147.7 153.8,157.2 154.3,154.1 154.8,160.5 155.2,150.2 155.7,155.5 156.2,153.8 156.7,151.8 157.2,158.4 157.6,153.4 158.1,154 158.6,149.7 159.1,151.2 159.6,161.5 160,153.2 160.5,159.8 161,157.4 161.5,155.7 162,148.1 162.4,161.6 162.9,156 163.4,158 163.9,154.5 164.4,153.8 164.8,156.9 165.3,159.6 165.8,153.5 166.3,156.5 166.7,151.6 167.2,151.3 167.7,150.9 168.2,155.9 168.7,157.9 169.1,156.9 169.6,154.8 170.1,153.7 170.6,156.2 171.1,153.5 171.5,153.4 172,154.4 172.5,147.1 173,150.4 173.5,150.4 173.9,158.1 174.4,153.2 174.9,158.6 175.4,153.8 175.9,151.5 176.3,152.4 176.8,156.5 177.3,149.2 177.8,148.5 178.3,154.9 178.7,155.2 179.2,158.2 179.7,153.4 180.2,149.1 180.7,150.6 181.1,150.9 181.6,152.7 182.1,153.5 182.6,156.7 183.1,155.1 183.5,153.4 184,156.7 184.5,156.4 185,156.3 185.5,155.2 185.9,155.9 186.4,153.3 186.9,155.7 187.4,156.2 187.9,146.7 188.3,153.3 188.8,152.4 189.3,158.2 189.8,153.5 190.3,153.5 190.7,155.7 191.2,151.7 191.7,150.4 192.2,156.6 192.7,151.6 193.1,149.6 193.6,155.8 194.1,158.2 194.6,151.1 195,153.1 195.5,153.9 196,144.2 196.5,150 197,154.6 197.4,151.6 197.9,151.3 198.4,150.8 198.9,151.9 199.4,168.2 199.8,153.2 200.3,153.3 200.8,150.8 201.3,153.2 201.8,154.4 202.2,144.4 202.7,151.8 203.2,149.5 203.7,154.1 204.2,152.9 204.6,160 205.1,153.4 205.6,151.2 206.1,155.7 206.6,152.4 207,148.2 207.5,155.4 208,154 208.5,152.9 209,155.4 209.4,151.1 209.9,152.2 210.4,158.5 210.9,152.1 211.4,154.9 211.8,151.4 212.3,147 212.8,152.2 213.3,156.8 213.8,151.4 214.2,153.2 214.7,152.2 215.2,151.9 215.7,154.5 216.2,155.8 216.6,156 217.1,154.9 217.6,152.9 218.1,153.8 218.6,154.2 219,150 219.5,150.6 220,156.1 220.5,153.5 221,157.9 221.4,150.8 221.9,148.5 222.4,157.3 222.9,148.8 223.3,153.9 223.8,155.7 224.3,153.1 224.8,154.8 225.3,153.2 225.7,153.4 226.2,155.2 226.7,153 227.2,155.2 227.7,158.1 228.1,155.6 228.6,155.8 229.1,155.7 229.6,154.5 230.1,152.4 230.5,155.2 231,149.9 231.5,150.4 232,155.8 232.5,153 232.9,150.6 233.4,152.1 233.9,149.4 234.4,151.1 234.9,160.4 235.3,151.2 235.8,154.9 236.3,155.5 236.8,154.5 237.3,150.2 237.7,157.8 238.2,154.3 238.7,149.8 239.2,149.4 239.7,157.7 240.1,158.7 240.6,152.7 241.1,153.3 241.6,152.7 242.1,150.6 242.5,154.8 243,160.4 243.5,153.7 244,154.1 244.5,151.7 244.9,155.8 245.4,158.5 245.9,157.4 246.4,157.8 246.9,159.3 247.3,144.5 247.8,153.3 248.3,158.8 248.8,158.2 249.3,156.2 249.7,145.8 250.2,158 250.7,150 251.2,158.5 251.6,156.9 252.1,149.1 252.6,155.9 253.1,147.5 253.6,157.2 254,154.6 254.5,155.6 255,151.3 255.5,149.8 256,151.9 256.4,153.2 256.9,153.7 257.4,143.3 257.9,151.8 258.4,155.7 258.8,153.1 259.3,158.9 259.8,149.7 260.3,157.8 260.8,155 261.2,154.9 261.7,154 262.2,152.4 262.7,149.9 263.2,152.3 263.6,157.4 264.1,156.6 264.6,154.6 265.1,151.8 265.6,153.6 266,154.5 266.5,154.4 267,155.2 267.5,152.5 268,154.6 268.4,153.5 268.9,155.5 269.4,149.6 269.9,156.3 270.4,154.2 270.8,155.7 271.3,158.9 271.8,149.9 272.3,147.7 272.8,155.4 273.2,151.5 273.7,157 274.2,156.6 274.7,155 275.2,148 275.6,156.3 276.1,151.8 276.6,153.4 277.1,152.1 277.6,155.4 278,155.9 278.5,153.3 279,148.7 279.5,159.2 279.9,147.5 280.4,155.2 280.9,152.2 281.4,153 281.9,145.8 282.3,159.6 282.8,161.4 283.3,156 283.8,159.3 284.3,156.9 284.7,148.3 285.2,153.8 285.7,156.6 286.2,156.6 286.7,157.4 287.1,154.6 287.6,153.5 288.1,157.4 288.6,154.9 289.1,153.8 289.5,152.9 290,149.2 290.5,159.3 291,156.2 291.5,156.2 291.9,151.5 292.4,148.5 292.9,158.6 293.4,153.6 293.9,149.5 294.3,147.4 294.8,146.4 295.3,146.3 295.8,150.5 296.3,152.9 296.7,155.6 297.2,153.6 297.7,158.5 298.2,149.8 298.7,151.7 299.1,154 299.6,155.1 300.1,153.3 300.6,156.3 301.1,158.2 301.5,157.4 302,153.3 302.5,153.2 303,151.8 303.5,155.9 303.9,157.5 304.4,153.1 304.9,162.3 305.4,152.6 305.9,155.1 306.3,150.2 306.8,160.6 307.3,157.8 307.8,152.4 308.2,154.8 308.7,153.1 309.2,157.1 309.7,155.2 310.2,153.5 310.6,157.2 311.1,151.2 311.6,154.7 312.1,147.4 312.6,146.5 313,151.9 313.5,152.2 314,154.1 314.5,152.7 315,148.6 315.4,152 315.9,151.9 316.4,153 316.9,150 317.4,154.4 317.8,154 318.3,157.1 318.8,151.8 319.3,155.3 319.8,151.4 320.2,153.9 320.7,149.8 321.2,155 321.7,149.4 322.2,155.1 322.6,150.4 323.1,154.2 323.6,153.9 324.1,152.2 324.6,151.5 325,149.7 325.5,155.5 326,151.6 326.5,152.2 327,155.2 327.4,158.7 327.9,151.8 328.4,154.5 328.9,154.7 329.4,156.8 329.8,150.1 330.3,150.9 330.8,148.3 331.3,148.8 331.8,150.8 332.2,161.6 332.7,148.2 333.2,152.2 333.7,154.5 334.2,152.2 334.6,156.3 335.1,152.3 335.6,154.4 336.1,153.4 336.5,154.4 337,154.5 337.5,152.5 338,157.4 338.5,152.3 338.9,154 339.4,153.9 339.9,151.3 340.4,153.8 340.9,152.4 341.3,148.2 341.8,153.6 342.3,148.9 342.8,152.9 343.3,158.9 343.7,149 344.2,153.6 344.7,153.6 345.2,149.3 345.7,151.1 346.1,154.9 346.6,153.7 347.1,153.6 347.6,154.9 348.1,156.6 348.5,153.1 349,157 349.5,152.2 350,156.7 350.5,155.2 350.9,155.6 351.4,151.7 351.9,151.2 352.4,154 352.9,154 353.3,145.7 353.8,152.2 354.3,148.2 354.8,153.9 355.3,143.6 355.7,155.2 356.2,151.6 356.7,165.6 357.2,150.1 357.7,152.8 358.1,153.1 358.6,152 359.1,156.8 359.6,153.5 360.1,152.8 360.5,152.6 361,154 361.5,148.4 362,154.4 362.4,149.9 362.9,153.3 363.4,156.4 363.9,151.4 364.4,153.6 364.8,151.7 365.3,150.6 365.8,152.9 366.3,154.4 366.8,147.8 367.2,155.8 367.7,155.7 368.2,151.5 368.7,161.2 369.2,151.8 369.6,158.9 370.1,147.3 370.6,147.3 371.1,150.9 371.6,152.9 372,133.2 372.5,153.4 373,156.3 373.5,155.4 374,153.5 374.4,153.5 374.9,150.5 375.4,152.9 375.9,145.6 376.4,151 376.8,156 377.3,152.1 377.8,160 378.3,157.2 378.8,149.9 379.2,152.1 379.7,150.9 380.2,153.6 380.7,153.1 381.2,147.5 381.6,147.7 382.1,154.3 382.6,154.9 383.1,149.4 383.6,151.9 384,149 384.5,148.2 385,148.3 385.5,151.6 386,151.4 386.4,150.1 386.9,142.2 387.4,153 387.9,154.6 388.4,153.5 388.8,147.3 389.3,156.4 389.8,155 390.3,149.6 390.7,154.4 391.2,144.6 391.7,148.6 392.2,151.6 392.7,154.6 393.1,148.2 393.6,152.3 394.1,160 394.6,146.4 395.1,156.1 395.5,154.4 396,148.7 396.5,150.4 397,153.7 397.5,152 397.9,155 398.4,149.5 398.9,145.8 399.4,154.7 399.9,156.1 400.3,153.3 400.8,147.9 401.3,148 401.8,148.5 402.3,151.5 402.7,152.8 403.2,155.3 403.7,154.4 404.2,147.3 404.7,152 405.1,152.2 405.6,151.9 406.1,156.4 406.6,153.8 407.1,151.9 407.5,142.4 408,150.3 408.5,149.7 409,150.3 409.5,155.1 409.9,152.6 410.4,153.9 410.9,149.4 411.4,152 411.9,152.1 412.3,156.6 412.8,148 413.3,149.6 413.8,151.3 414.3,150.5 414.7,149.9 415.2,154.6 415.7,152.2 416.2,150.2 416.7,153.9 417.1,148.6 417.6,153.4 418.1,152.4 418.6,155.6 419,153.3 419.5,154.1 420,154.7 420.5,157.7 421,148.8 421.4,151.1 421.9,146.1 422.4,151 422.9,148.9 423.4,147.6 423.8,148 424.3,152.8 424.8,153 425.3,149 425.8,152.1 426.2,151.8 426.7,146.6 427.2,149.4 427.7,155 428.2,150.2 428.6,154.7 429.1,149.8 429.6,153.8 430.1,149.1 430.6,146.6 431,150.3 431.5,145.9 432,149.3 432.5,156.3 433,149.8 433.4,155 433.9,150.9 434.4,149.8 434.9,150.9 435.4,149.5 435.8,151.8 436.3,147.2 436.8,149.6 437.3,152.1 437.8,145.1 438.2,148.4 438.7,148.7 439.2,148.9 439.7,150.5 440.2,148.2 440.6,146.2 441.1,152.3 441.6,152 442.1,152.5 442.6,149.6 443,148.2 443.5,150.6 444,148.5 444.5,149.7 445,153.7 445.4,150.3 445.9,150 446.4,152.4 446.9,147.1 447.3,153.4 447.8,151.4 448.3,151.6 448.8,146.2 449.3,151.5 449.7,146.4 450.2,149.1 450.7,147.5 451.2,150.1 451.7,147.7 452.1,149.8 452.6,153.3 453.1,149.2 453.6,152.3 454.1,153.3 454.5,155.2 455,152.4 455.5,152.7 456,149.1 456.5,155.7 456.9,160.1 457.4,149.5 457.9,142 458.4,152.5 458.9,149 459.3,154.9 459.8,147.2 460.3,146.9 460.8,152.9 461.3,150.6 461.7,153.2 462.2,150.9 462.7,147.9 463.2,151 463.7,155.1 464.1,150.2 464.6,150.7 465.1,147.4 465.6,150.4 466.1,154.4 466.5,152.1 467,157.4 467.5,150.1 468,151.1 468.5,148.4 468.9,147.1 469.4,155.4 469.9,148.6 470.4,150.7 470.9,148.9 471.3,153.4 471.8,156 472.3,147.6 472.8,147.7 473.3,151.7 473.7,148.1 474.2,153.5 474.7,147.6 475.2,151.1 475.6,150.7 476.1,150 476.6,152.8 477.1,152.8 477.6,150.1 478,151.5 478.5,145.7 479,154.3 479.5,149.5 480,150.1 480.4,148.4 480.9,151.5 481.4,149.4 481.9,155.1 482.4,152 482.8,153.5 483.3,151.2 483.8,146.3 484.3,140.7 484.8,148 485.2,154.4 485.7,149.9 486.2,153 486.7,147.6 487.2,151.3 487.6,154.8 488.1,151.1 488.6,150.6 489.1,146.7 489.6,154.9 490,148.2 490.5,153.9 491,146.7 491.5,144.6 492,153.5 492.4,154.1 492.9,152.2 493.4,147.4 493.9,151.4 494.4,150.8 494.8,153.6 495.3,142 495.8,153.6 496.3,151.2 496.8,150.3 497.2,150.7 497.7,147.9 498.2,148.8 498.7,145.5 499.2,149.2 499.6,149.7 500.1,147.4 500.6,150.9 501.1,151 501.6,150.3 502,149.8 502.5,150 503,155 503.5,148.4 503.9,149.3 504.4,155.7 504.9,149.9 505.4,149.3 505.9,143.1 506.3,155 506.8,151.3 507.3,152.9 507.8,153.5 508.3,156 508.7,154.7 509.2,153.9 509.7,146.1 510.2,156.5 510.7,148.5 511.1,151.1 511.6,154.1 512.1,149.1 512.6,152.2 513.1,149.5 513.5,153.9 514,150.7 514.5,151.6 515,149.7 515.5,156.5 515.9,150.2 516.4,152.9 516.9,153.7 517.4,148.1 517.9,151.3 518.3,149.7 518.8,147.3 519.3,152 519.8,153.1 520.3,152.7 520.7,155.9 521.2,148.8 521.7,151.6 522.2,149.6 522.7,152.2 523.1,150.5 523.6,146.4 524.1,148.3 524.6,151 525.1,151 525.5,151.5 526,145 526.5,149.1 527,144.7 527.5,158.1 527.9,153.5 528.4,153.5 528.9,153 529.4,148.3 529.9,155.4 530.3,149.4 530.8,150.4 531.3,153.5 531.8,155.7 532.2,147.2 532.7,145.3 533.2,148.6 533.7,150.2 534.2,150.1 534.6,152.3 535.1,143.6 535.6,158.8 536.1,150.2 536.6,150.8 537,154.3 537.5,150 538,155.2 538.5,152.8 539,150.6 539.4,148.1 539.9,151.6 540.4,154.2 540.9,153.4 541.4,153.7 541.8,151.5 542.3,155.3 542.8,154.6 543.3,154.7 543.8,156.4 544.2,155.5 544.7,157 545.2,150.9 545.7,154.1 546.2,152.6 546.6,156.2 547.1,147.8 547.6,148.6 548.1,157.4 548.6,152.6 549,154.7 549.5,149.9 550,149.6 550.5,155.2 551,148.1 551.4,155.1 551.9,155.5 552.4,152.3 552.9,151.1 553.4,153.8 553.8,145.5 554.3,150.8 554.8,152.8 555.3,152.6 555.8,154.1 556.2,152.3 556.7,150 557.2,148 557.7,156.6 558.1,157.5 558.6,151.7 559.1,152.8 559.6,156.6 560.1,153.2 560.5,151.6 561,144.8 561.5,154 562,152 562.5,150.9 562.9,154.8 563.4,156.1 563.9,151.8 564.4,147.2 564.9,148.9 565.3,155.2 565.8,151.1 566.3,155.1 566.8,149.8 567.3,148.3 567.7,153.7 568.2,156.2 568.7,154.6 569.2,153.9 569.7,148 570.1,117.1 570.6,149.9 571.1,150.6 571.6,153.2 572.1,145.7 572.5,148.4 573,153.2 573.5,161.1 574,153.5 574.5,148.9 574.9,154.7 575.4,153.3 575.9,153.3 576.4,155.4 576.9,149.9 577.3,153.2 577.8,149 578.3,160 578.8,154.8 579.3,145.1 579.7,154.2 580.2,153.4 580.7,156.7 581.2,155 581.7,150.4 582.1,150.9 582.6,157.4 583.1,159.7 583.6,153.9 584.1,151.5 584.5,155.1 585,155.7 585.5,150.9 586,147.2 586.4,151.8 586.9,154.6 587.4,148.3 587.9,148.9 588.4,151.5 588.8,151.9 589.3,153.8 589.8,154.5 590.3,159.8 590.8,153.4 591.2,155.9 591.7,156.6 592.2,153.9 592.7,151.5 593.2,152.7 593.6,150.7 594.1,152.8 594.6,157.6 595.1,145.5 595.6,154.9 596,155.4 596.5,154 597,152.2 597.5,157.6 598,149.5 598.4,152.2 598.9,165.6 599.4,155.7 599.9,157.9 600.4,156.4 600.8,153.1 601.3,156.9 601.8,156.3 602.3,149.4 602.8,154.4 603.2,154.1 603.7,154.3 604.2,154.6 604.7,160.9 605.2,157.8 605.6,153.9 606.1,155.8 606.6,153 607.1,162.7 607.6,159.9 608,153.4 608.5,161.5 609,153.9 609.5,155.7 610,154.3 610.4,151.2 610.9,154 611.4,154.1 611.9,152.8 612.4,153.6 612.8,152.7 613.3,157.5 613.8,151.6 614.3,157.5 614.7,155.4 615.2,153.5 615.7,156.2 616.2,152.2 616.7,156.7 617.1,161.2 617.6,152.5 618.1,155.8 618.6,157.6 619.1,150.2 619.5,153.5 620,154.2 620.5,158.6 621,164.3 621.5,153.6 621.9,152.5 622.4,154.9 622.9,154.5 623.4,161.1 623.9,158.3 624.3,163 624.8,157.3 625.3,155 625.8,157.3 626.3,147.4 626.7,154.2 627.2,155.4 627.7,162.1"/><polyline fill="none" stroke="#ef843c" stroke-width="1.4" stroke-linejoin="round" points="129.3,215.1 129.8,192.2 130.3,215.6"/><polyline fill="none" stroke="#ef843c" stroke-width="1.4" stroke-linejoin="round" points="573.5,215.3 574,173.1 574.5,215"/><polyline fill="none" stroke="#ef843c" stroke-width="1.4" stroke-linejoin="round" points="91.4,215.4 91.9,201.7 92.4,215.6"/></svg>
<div class="a" style="top:42px;will-change:transform;transform:translateY(0.30px) rotate(0.001deg);right:592.5px;text-align:right;letter-spacing:-0.1px;">80.00 ms</div>
<div class="a" style="top:84px;will-change:transform;transform:translateY(0.40px) rotate(0.001deg);right:592.5px;text-align:right;letter-spacing:-0.1px;">60.00 ms</div>
<div class="a" style="top:126px;will-change:transform;transform:translateY(0.50px) rotate(0.001deg);right:592.5px;text-align:right;letter-spacing:-0.1px;">40.00 ms</div>
<div class="a" style="top:168px;will-change:transform;transform:translateY(0.60px) rotate(0.001deg);right:592.5px;text-align:right;letter-spacing:-0.1px;">20.00 ms</div>
<div class="a" style="top:210px;will-change:transform;transform:translateY(0.70px) rotate(0.001deg);right:592.5px;text-align:right;letter-spacing:-0.1px;">0 s</div>
<div class="a" style="top:226px;left:88.1px;width:120px;margin-left:-60px;text-align:center;letter-spacing:-0.25px;">20:00</div>
<div class="a" style="top:226px;left:202.8px;width:120px;margin-left:-60px;text-align:center;letter-spacing:-0.25px;">00:00</div>
<div class="a" style="top:226px;left:317.5px;width:120px;margin-left:-60px;text-align:center;letter-spacing:-0.25px;">04:00</div>
<div class="a" style="top:226px;left:432.3px;width:120px;margin-left:-60px;text-align:center;letter-spacing:-0.25px;">08:00</div>
<div class="a" style="top:226px;left:547px;width:120px;margin-left:-60px;text-align:center;letter-spacing:-0.25px;">12:00</div>
<div class="lh" style="top:252.1px;right:174.2px;text-align:right;">min</div>
<div class="lh" style="top:252.1px;right:102px;text-align:right;">max</div>
<div class="lh" style="top:252.1px;right:31.1px;text-align:right;">avg<svg class="caret" width="8.4" height="6" viewBox="0 0 8.4 6"><path d="M0.8 1 4.2 4.4 7.6 1" fill="none" stroke="#33a2e5" stroke-width="1.5"/></svg></div>
<div class="sw" style="left:16.9px;top:284px;background:#6ed0e0;color:#6ed0e0"></div>
<div class="t" style="top:277px;will-change:transform;transform:translateY(0.50px) rotate(0.001deg);left:43.4px;">mysql4</div>
<div class="t" style="top:277px;will-change:transform;transform:translateY(0.50px) rotate(0.001deg);right:165.7px;text-align:right;">24.87 ms</div>
<div class="t" style="top:277px;will-change:transform;transform:translateY(0.50px) rotate(0.001deg);right:93.3px;text-align:right;">48.19 ms</div>
<div class="t" style="top:277px;will-change:transform;transform:translateY(0.50px) rotate(0.001deg);right:17.9px;text-align:right;">31.21 ms</div>
<div class="alt" style="left:14.8px;top:299px;width:625px"></div>
<div class="sw" style="left:16.9px;top:312px;background:#eab839;color:#eab839"></div>
<div class="t" style="top:305px;will-change:transform;transform:translateY(0.50px) rotate(0.001deg);left:43.4px;">mysql3</div>
<div class="t" style="top:305px;will-change:transform;transform:translateY(0.50px) rotate(0.001deg);right:165.7px;text-align:right;">2.49 ms</div>
<div class="t" style="top:305px;will-change:transform;transform:translateY(0.50px) rotate(0.001deg);right:93.3px;text-align:right;">67.65 ms</div>
<div class="t" style="top:305px;will-change:transform;transform:translateY(0.50px) rotate(0.001deg);right:17.9px;text-align:right;">7.00 ms</div>
<div class="sw" style="left:16.9px;top:340px;background:#ef843c;color:#ef843c"></div>
<div class="t" style="top:333px;will-change:transform;transform:translateY(0.50px) rotate(0.001deg);left:43.4px;">mysql2</div>
<div class="t" style="top:333px;will-change:transform;transform:translateY(0.50px) rotate(0.001deg);right:165.7px;text-align:right;">890.95 &micro;s</div>
<div class="t" style="top:333px;will-change:transform;transform:translateY(0.50px) rotate(0.001deg);right:93.3px;text-align:right;">21.56 ms</div>
<div class="t" style="top:333px;will-change:transform;transform:translateY(0.50px) rotate(0.001deg);right:17.9px;text-align:right;">1.56 ms</div>
</div>
</body></html>
